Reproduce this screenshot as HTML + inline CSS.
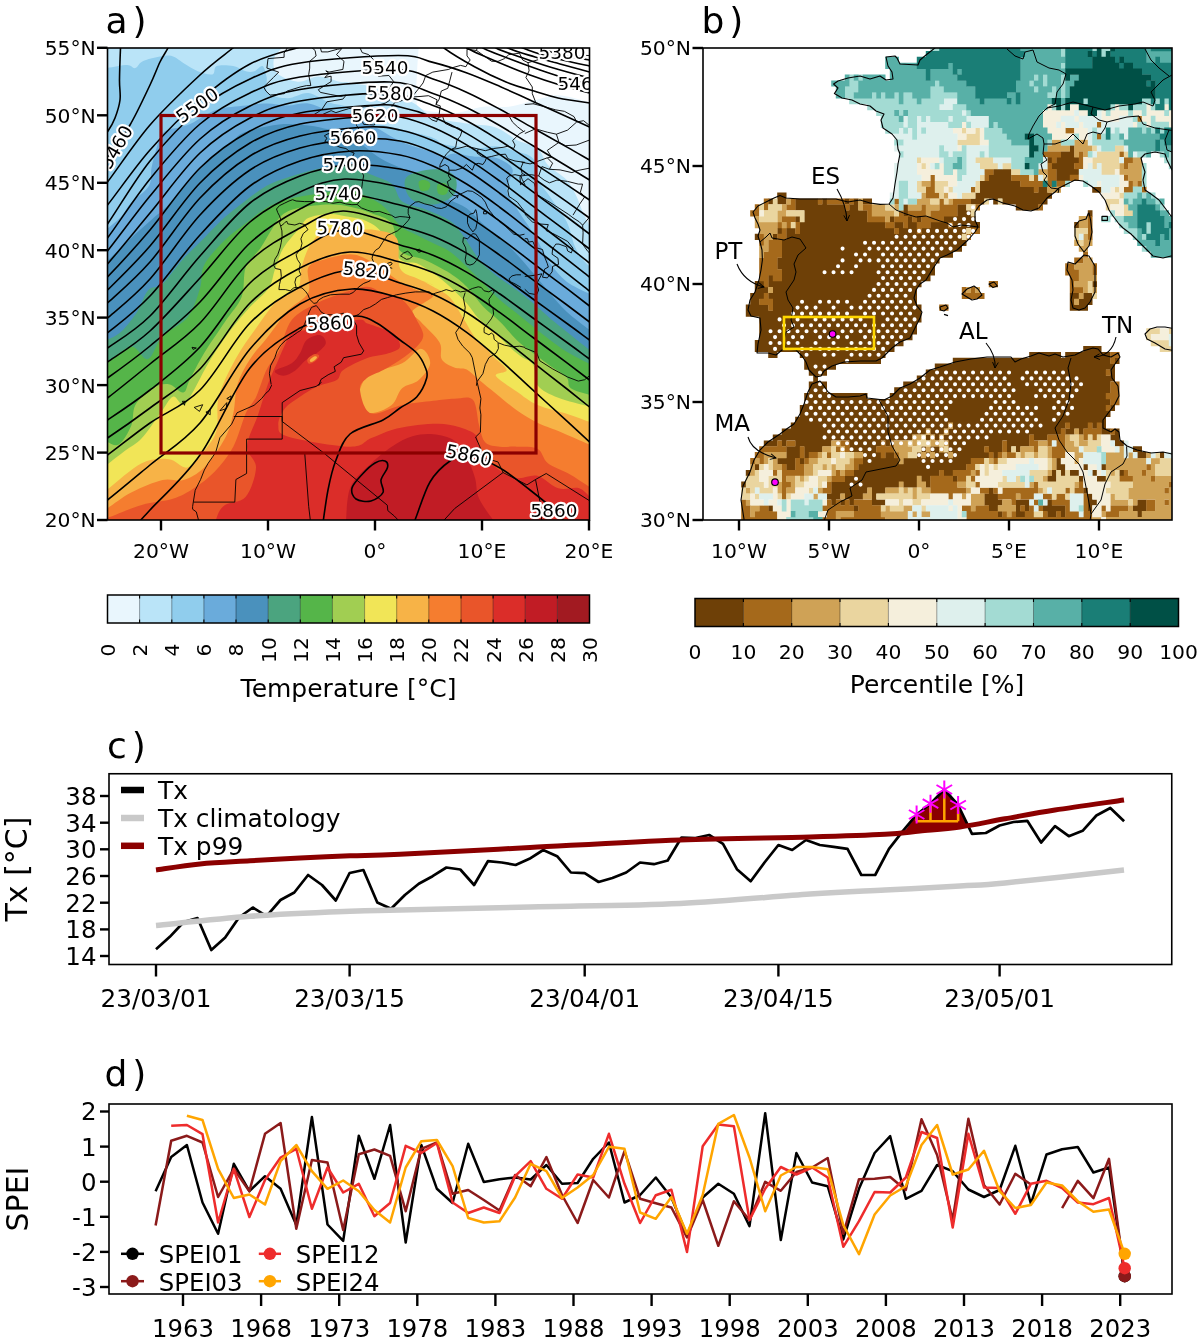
<!DOCTYPE html>
<html lang="en"><head><meta charset="utf-8"><title>Figure</title>
<style>
html,body{margin:0;padding:0;background:#fff}
svg{display:block}
svg text{font-family:'DejaVu Sans','Liberation Sans',sans-serif;fill:#000}
</style></head><body>
<svg width="1200" height="1338" viewBox="0 0 1200 1338">
<rect width="1200" height="1338" fill="#fff"/>
<g id="map-a">
<clipPath id="clipA"><rect x="107.5" y="48" width="482.0" height="472"/></clipPath>
<g clip-path="url(#clipA)">
<rect x="107.5" y="48" width="482.0" height="472" fill="#ffffff"/>
<path d="M419.8 31.2 C419.6 33.8 419.2 39.6 418.8 46.2 C418.3 52.9 417.4 63.3 417.1 71.2 C416.7 79.2 416 87.9 416.7 94.2 C417.3 100.4 414.6 105.6 420.8 108.8 C427.1 111.9 443.8 113.3 454.2 112.9 C464.6 112.6 474.3 107.7 483.3 106.7 C492.4 105.6 499.3 107.9 508.3 106.7 C517.4 105.5 529.2 101.3 537.5 99.4 C545.8 97.5 549.3 94.7 558.3 95.2 C567.4 95.7 582.8 100.6 591.7 102.5 C600.6 104.4 608.3 106.1 611.7 106.9 L619.5 550 L77.5 550 L77.5 18Z" fill="#e9f6fd"/>
<path d="M289 38.8 C288 40 285.8 42.9 283.3 46.2 C280.8 49.6 275 54.2 274 58.8 C272.9 63.3 273.1 69.5 277.1 73.3 C281.1 77.2 291 81.1 297.9 81.7 C304.9 82.2 311.8 76.5 318.8 76.5 C325.7 76.5 334.4 80.6 339.6 81.7 C344.8 82.7 343.1 81.5 350 82.7 C356.9 83.9 370.8 85.7 381.2 89 C391.7 92.3 403.8 97.8 412.5 102.5 C421.2 107.2 424.7 113.6 433.3 117.1 C442 120.6 454.2 121.6 464.6 123.3 C475 125.1 487.2 124.7 495.8 127.5 C504.5 130.3 509.7 136.5 516.7 140 C523.6 143.5 532.3 144.2 537.5 148.3 C542.7 152.5 543.1 159.7 547.9 165 C552.8 170.3 561.9 174.7 566.7 180 C571.5 185.3 573.9 191.1 576.7 196.7 C579.4 202.2 580.8 207.8 583.3 213.3 C585.8 218.9 589.4 225.6 591.7 230 C593.9 234.4 595.8 238.3 596.7 240 L619.5 550 L77.5 550 L77.5 18Z" fill="#bae4f8"/>
<path d="M93.8 70 C95.8 69.7 100.7 69 106.2 68.1 C111.8 67.3 122.2 65 127.1 65 C131.9 65 132.6 68.8 135.4 68.1 C138.2 67.4 138.2 62.9 143.8 60.8 C149.3 58.8 162.2 55.3 168.8 55.6 C175.3 56 178.5 60.3 183.3 62.9 C188.2 65.5 193.1 69.3 197.9 71.2 C202.8 73.2 209.4 75.2 212.5 74.4 C215.6 73.5 213.2 67.4 216.7 66 C220.1 64.7 228.5 65.2 233.3 66 C238.2 66.9 242.4 70.4 245.8 71.2 C249.3 72.1 251.4 72.1 254.2 71.2 C256.9 70.4 260.4 65 262.5 66 C264.6 67.1 265.8 73 266.7 77.5 C267.5 82 264.2 89.7 267.7 93.1 C271.2 96.6 280.7 98.3 287.5 98.3 C294.3 98.3 301.4 92.4 308.3 93.1 C315.3 93.8 322.2 100.1 329.2 102.5 C336.1 104.9 343.1 104.6 350 107.7 C356.9 110.8 362.2 117.6 370.8 121.2 C379.5 124.9 391.7 126.8 402.1 129.6 C412.5 132.4 426.4 135.5 433.3 137.9 C440.3 140.3 436.8 142.4 443.8 144.2 C450.7 145.9 466.3 148 475 148.3 C483.7 148.7 488.9 145.7 495.8 146.2 C502.8 146.8 510.4 149.4 516.7 151.5 C522.9 153.5 529.7 154 533.3 158.8 C536.9 163.5 535.6 173.7 538.3 180 C541.1 186.3 545.3 189.7 550 196.7 C554.7 203.6 562.5 213.3 566.7 221.7 C570.8 230 572.2 240.3 575 246.7 C577.8 253.1 580.6 256.4 583.3 260 C586.1 263.6 589.4 266.1 591.7 268.3 C593.9 270.6 595.8 272.5 596.7 273.3 L619.5 550 L77.5 550Z" fill="#90cded"/>
<path d="M97.5 237.1 C99 235.8 102.4 232.9 106.2 229.6 C110.1 226.2 116.7 221.6 120.8 217.1 C125 212.6 126.6 207.7 131.2 202.5 C135.9 197.3 145.5 192.1 149 185.8 C152.4 179.6 149.8 173.7 152.1 165 C154.3 156.3 158 140 162.5 133.8 C167 127.5 174.3 129.2 179.2 127.5 C184 125.8 185.4 126.3 191.7 123.3 C197.9 120.4 207.6 112.7 216.7 109.8 C225.7 106.8 237.5 106.7 245.8 105.6 C254.2 104.6 259.7 103.5 266.7 103.5 C273.6 103.5 280.6 105.6 287.5 105.6 C294.4 105.6 301.4 102.7 308.3 103.5 C315.3 104.4 322.2 108.9 329.2 110.8 C336.1 112.7 343.1 112.7 350 115 C356.9 117.3 362.2 119.9 370.8 124.4 C379.5 128.9 391.7 137.4 402.1 142.1 C412.5 146.8 426.4 150.1 433.3 152.5 C440.3 154.9 440.3 156.5 443.8 156.7 C447.2 156.8 449 153.5 454.2 153.5 C459.4 153.5 468.1 156 475 156.7 C481.9 157.4 489.6 155.6 495.8 157.7 C502.1 159.8 510.7 163.8 512.5 169.2 C514.3 174.5 506 183.5 506.7 190 C507.4 196.5 512.2 201.1 516.7 208.3 C521.1 215.6 529.2 226.7 533.3 233.3 C537.5 240 538.9 243.3 541.7 248.3 C544.4 253.3 545.8 257.8 550 263.3 C554.2 268.9 559.7 276.4 566.7 281.7 C573.6 286.9 585 291.4 591.7 295 C598.3 298.6 604.2 301.7 606.7 303 L619.5 550 L77.5 550Z" fill="#6aabdb"/>
<path d="M91.2 276.2 C93.8 273.9 99.6 268.3 106.2 261.9 C112.9 255.5 123.6 245 131.2 237.9 C138.9 230.8 145.8 224.7 152.1 219.2 C158.3 213.6 161.8 211.9 168.8 204.6 C175.7 197.3 185.8 184.1 193.8 175.4 C201.7 166.7 210.1 158.4 216.7 152.5 C223.3 146.6 228.5 143.5 233.3 140 C238.2 136.5 238.2 134.3 245.8 131.7 C253.5 129.1 268.8 125.4 279.2 124.4 C289.6 123.3 300 124.5 308.3 125.4 C316.7 126.3 322.2 127.8 329.2 129.6 C336.1 131.3 341.3 131 350 135.8 C358.7 140.7 370.8 152.5 381.2 158.8 C391.7 165 403.8 168.1 412.5 173.3 C421.2 178.5 427.1 185.6 433.3 190 C439.6 194.4 444.4 196.9 450 200 C455.6 203.1 461.1 204.3 466.7 208.3 C472.2 212.4 477.8 219.3 483.3 224.2 C488.9 229 494.4 232.5 500 237.5 C505.6 242.5 511.1 248.2 516.7 254.2 C522.2 260.1 527.8 266.8 533.3 273.3 C538.9 279.9 544.4 286.9 550 293.3 C555.6 299.7 559.7 305.3 566.7 311.7 C573.6 318.1 585 326.3 591.7 331.7 C598.3 337 604.2 341.7 606.7 343.7 L619.5 550 L77.5 550Z" fill="#4a91bd"/>
<path d="M97.5 345.4 C99 344.6 102.4 342.6 106.2 340.4 C110.1 338.2 115.6 336.9 120.8 332.1 C126 327.2 133 318.2 137.5 311.2 C142 304.3 143.8 295 147.9 290.4 C152.1 285.8 156.6 289 162.5 283.8 C168.4 278.5 176.4 266.4 183.3 258.8 C190.3 251.1 197.2 244.9 204.2 237.9 C211.1 231 218.1 223.3 225 217.1 C231.9 210.8 238.9 205.6 245.8 200.4 C252.8 195.2 259.7 189.7 266.7 185.8 C273.6 182 280.6 179.9 287.5 177.5 C294.4 175.1 301.4 173 308.3 171.2 C315.3 169.5 322.2 168.1 329.2 167.1 C336.1 166 343.1 163.8 350 165 C356.9 166.2 363.9 171.2 370.8 174.4 C377.8 177.5 386.8 179.6 391.7 183.8 C396.5 187.9 396.9 195.6 400 199.2 C403.1 202.7 405.8 203.3 410 205 C414.2 206.7 418.3 206.5 425 209.2 C431.7 211.8 443.6 216.4 450 220.8 C456.4 225.3 458.6 229.6 463.3 235.8 C468.1 242.1 473.3 252.1 478.3 258.3 C483.3 264.6 486.9 268.1 493.3 273.3 C499.7 278.6 510 285 516.7 290 C523.3 295 527.8 298.6 533.3 303.3 C538.9 308.1 544.4 313.6 550 318.3 C555.6 323.1 559.7 326.1 566.7 331.7 C573.6 337.2 585 346.3 591.7 351.7 C598.3 357 604.2 361.7 606.7 363.7 L619.5 550 L77.5 550Z" fill="#4ba47f"/>
<path d="M406.2 177.5 C410.1 172.6 425.3 169.5 433.3 169.2 C441.3 168.8 450.7 171.3 454.2 175.4 C457.6 179.6 457.6 189.3 454.2 194.2 C450.7 199 440.6 203.9 433.3 204.6 C426 205.3 414.9 202.8 410.4 198.3 C405.9 193.8 402.4 182.4 406.2 177.5Z" fill="#4ba47f"/>
<path d="M91.2 373.3 C93.8 371.7 99.6 367.8 106.2 363.3 C112.9 358.9 124.3 347.4 131.2 346.7 C138.2 346 142.7 360.9 147.9 359.2 C153.1 357.4 155.9 343.2 162.5 336.2 C169.1 329.3 181.2 325.5 187.5 317.5 C193.8 309.5 197.2 297.1 200 288.3 C202.8 279.6 200 273.1 204.2 265 C208.3 256.9 218.1 246.9 225 240 C231.9 233.1 238.9 228.7 245.8 223.3 C252.8 218 259.7 211.7 266.7 207.7 C273.6 203.7 280.6 201.5 287.5 199.4 C294.4 197.3 301.4 196.4 308.3 195.2 C315.3 194 322.2 193 329.2 192.1 C336.1 191.2 341.3 187.9 350 190 C358.7 192.1 372.9 198.6 381.2 204.6 C389.6 210.6 394.1 220.8 400 225.8 C405.9 230.9 411.1 232.1 416.7 235 C422.2 237.9 427.8 240.6 433.3 243.3 C438.9 246.1 444.4 247.8 450 251.7 C455.6 255.6 461.1 261.4 466.7 266.7 C472.2 271.9 477.8 277.8 483.3 283.3 C488.9 288.9 494.4 295 500 300 C505.6 305 511.1 308.9 516.7 313.3 C522.2 317.8 527.8 322.2 533.3 326.7 C538.9 331.1 544.4 335.8 550 340 C555.6 344.2 559.7 347.5 566.7 351.7 C573.6 355.8 585 361.4 591.7 365 C598.3 368.6 604.2 371.7 606.7 373 L619.5 550 L77.5 550Z" fill="#55b549"/>
<path d="M418.8 181.7 C419.4 179.9 423.1 179.7 425 180 C426.9 180.3 429.7 182.1 430.2 183.8 C430.7 185.4 429.7 188.9 428.1 190 C426.6 191.1 422.4 191.8 420.8 190.4 C419.3 189 418.1 183.4 418.8 181.7Z" fill="#55b549"/>
<path d="M437.5 184.8 C438.5 183.1 443 182.8 444.8 183.3 C446.6 183.9 448.2 186.1 448.3 187.9 C448.5 189.7 447.5 193.2 445.8 194.2 C444.2 195.1 439.9 195.3 438.5 193.8 C437.2 192.2 436.5 186.5 437.5 184.8Z" fill="#55b549"/>
<path d="M98.8 439.6 C100 439.9 102.9 440.6 106.2 441.5 C109.6 442.3 114.6 447.2 118.8 444.6 C122.9 442 128.5 432.4 131.2 425.8 C134 419.2 131.9 411.2 135.4 405 C138.9 398.8 146.5 391.8 152.1 388.3 C157.6 384.9 163.5 383.5 168.8 384.2 C174 384.9 179.9 393.2 183.3 392.5 C186.8 391.8 186.1 386.6 189.6 380 C193.1 373.4 198.3 362.6 204.2 352.9 C210.1 343.2 218.8 331 225 321.7 C231.2 312.3 238.2 305.8 241.7 296.7 C245.1 287.6 242.7 275.1 245.8 267.1 C249 259 255.9 254.9 260.4 248.3 C264.9 241.7 269.1 233.2 272.9 227.5 C276.7 221.8 278.8 217.3 283.3 214 C287.8 210.7 292.4 209.3 300 207.7 C307.6 206.1 320.8 204.8 329.2 204.6 C337.5 204.4 343.1 205.3 350 206.7 C356.9 208.1 363.9 210.1 370.8 212.9 C377.8 215.7 386.8 217 391.7 223.3 C396.5 229.7 394.4 244.7 400 250.8 C405.6 256.9 416.7 256.2 425 260 C433.3 263.8 443.1 268.9 450 273.3 C456.9 277.8 461.1 281.1 466.7 286.7 C472.2 292.2 477.8 300.8 483.3 306.7 C488.9 312.5 494.4 316.1 500 321.7 C505.6 327.2 511.1 334.7 516.7 340 C522.2 345.3 527.8 349 533.3 353.3 C538.9 357.6 544.4 361.8 550 365.8 C555.6 369.9 563.2 373.8 566.7 377.5 C570.1 381.2 566.7 385.3 570.8 388.3 C575 391.4 586.1 393.7 591.7 395.6 C597.2 397.6 602.1 399.3 604.2 400 L619.5 550 L77.5 550Z" fill="#a1ce52"/>
<path d="M95 474.2 C96.9 472.7 101.2 469.3 106.2 465.4 C111.2 461.5 119.1 455.3 125 450.8 C130.9 446.3 135.8 444.6 141.7 438.3 C147.6 432.1 155.2 420.3 160.4 413.3 C165.6 406.4 169.1 398.1 172.9 396.7 C176.7 395.3 179.9 406 183.3 405 C186.8 404 189.6 397.4 193.8 390.4 C197.9 383.5 202.4 373.1 208.3 363.3 C214.2 353.6 222.2 341.5 229.2 332.1 C236.1 322.7 243.4 314.4 250 307.1 C256.6 299.7 264.6 294.2 268.8 287.9 C272.9 281.6 272.6 275.8 275 269.2 C277.4 262.6 279.2 255.3 283.3 248.3 C287.5 241.4 295.8 232.5 300 227.5 C304.2 222.5 303.5 220.4 308.3 218.1 C313.2 215.9 322.2 214.1 329.2 214 C336.1 213.8 343.8 215.9 350 217.1 C356.2 218.3 361.5 218.8 366.7 221.2 C371.9 223.7 375.7 225.3 381.2 231.7 C386.8 238 394.1 253.9 400 259.2 C405.9 264.4 411.1 261 416.7 263.3 C422.2 265.7 427.8 269.4 433.3 273.3 C438.9 277.2 444.4 281.7 450 286.7 C455.6 291.7 461.9 298.1 466.7 303.3 C471.4 308.6 473.9 313.8 478.3 318.3 C482.8 322.9 488.6 326.5 493.3 330.8 C498.1 335.1 502.2 340 506.7 344.2 C511.1 348.3 515.6 352.4 520 355.8 C524.4 359.3 530.4 360.1 533.3 365 C536.2 369.9 533.3 379.8 537.5 385.2 C541.7 390.7 549.3 394.1 558.3 397.7 C567.4 401.4 582.8 404.6 591.7 407.1 C600.6 409.6 608.3 411.8 611.7 412.7 L619.5 550 L77.5 550Z" fill="#f1e557"/>
<path d="M85 506.7 C88.5 504 96.8 497.6 106.2 490.4 C115.7 483.2 131.3 468.5 141.7 463.3 C152.1 458.1 161.1 458.5 168.8 459.2 C176.4 459.9 181.6 468.9 187.5 467.5 C193.4 466.1 199.3 457.1 204.2 450.8 C209 444.6 214.2 439 216.7 430 C219.1 421 215.6 408.5 218.8 396.7 C221.9 384.9 229.2 370.6 235.4 359.2 C241.7 347.7 249.3 337.6 256.2 327.9 C263.2 318.2 270.1 307.5 277.1 300.8 C284 294.2 293.9 293.2 297.9 287.9 C301.9 282.6 299.3 275.8 301 269.2 C302.8 262.6 305.4 254.1 308.3 248.3 C311.3 242.6 314.6 238.3 318.8 234.8 C322.9 231.3 328.1 228.3 333.3 227.5 C338.5 226.7 343.1 229.6 350 230 C356.9 230.4 367.2 228.6 375 230 C382.8 231.4 392.5 231.9 396.7 238.3 C400.8 244.7 396.7 261.7 400 268.3 C403.3 275 411.1 275.6 416.7 278.3 C422.2 281.1 436.1 286 433.3 285 C430.6 284 402.8 273.6 400 272.5 C397.2 271.4 411.1 276 416.7 278.3 C422.2 280.7 427.8 283.5 433.3 286.7 C438.9 289.9 445 292.2 450 297.5 C455 302.8 459.2 311.7 463.3 318.3 C467.5 325 471.1 332.4 475 337.5 C478.9 342.6 483.6 346 486.7 349.2 C489.7 352.4 490 353.2 493.3 356.7 C496.7 360.1 506.2 366.8 506.7 370 C507.1 373.2 494.2 372.3 495.8 375.8 C497.5 379.4 509.7 386.6 516.7 391.5 C523.6 396.3 528.8 401.2 537.5 405 C546.2 408.8 559.7 411.4 568.8 414.4 C577.8 417.3 585.6 420.5 591.7 422.7 C597.8 424.9 603.1 426.9 605.4 427.7 L619.5 550 L77.5 550Z" fill="#f7b347"/>
<path d="M91.2 519.2 C93.8 517.5 99.6 513.6 106.2 509.2 C112.9 504.7 121.9 497.4 131.2 492.5 C140.6 487.6 153.8 482.1 162.5 480 C171.2 477.9 176.4 482.1 183.3 480 C190.3 477.9 197.2 474.4 204.2 467.5 C211.1 460.6 220.1 447.4 225 438.3 C229.9 429.3 231.2 422.4 233.3 413.3 C235.4 404.3 234.7 393.2 237.5 384.2 C240.3 375.1 245.1 366.8 250 359.2 C254.9 351.5 260.4 346.3 266.7 338.3 C272.9 330.3 280.6 318.9 287.5 311.2 C294.4 303.6 304.9 299.8 308.3 292.5 C311.8 285.2 305.6 273.1 308.3 267.5 C311.1 261.9 318.1 261.4 325 259.2 C331.9 256.9 343.1 254.2 350 254.2 C356.9 254.2 361.1 256.5 366.7 259.2 C372.2 261.8 377.8 266.2 383.3 270 C388.9 273.8 394.4 278.3 400 281.7 C405.6 285 411.1 287.6 416.7 290 C422.2 292.4 434 292.3 433.3 295.8 C432.6 299.4 414.6 306.9 412.5 311.2 C410.4 315.6 416.3 316.5 420.8 321.7 C425.3 326.9 436.1 336.2 439.6 342.5 C443.1 348.8 439.2 355 441.7 359.2 C444.1 363.3 450 365.8 454.2 367.5 C458.3 369.2 462.5 367.5 466.7 369.6 C470.8 371.7 474.3 376 479.2 380 C484 384 489.6 388.5 495.8 393.5 C502.1 398.6 509.7 405.3 516.7 410.2 C523.6 415.1 530.6 419.2 537.5 422.7 C544.4 426.2 549.3 427.2 558.3 431 C567.4 434.9 582.8 441.7 591.7 445.6 C600.6 449.5 608.3 452.9 611.7 454.4 L619.5 550 L77.5 550Z" fill="#f57d2f"/>
<path d="M360.4 388.3 C362.5 383.1 363.9 377.9 370.8 373.8 C377.8 369.6 393.8 367.5 402.1 363.3 C410.4 359.2 416.1 348.8 420.8 348.8 C425.5 348.8 430.6 358.1 430.2 363.3 C429.9 368.5 423.4 375.8 418.8 380 C414.1 384.2 406.6 384.2 402.1 388.3 C397.6 392.5 396.9 400.8 391.7 405 C386.5 409.2 376.4 413.3 370.8 413.3 C365.3 413.3 360.1 409.2 358.3 405 C356.6 400.8 358.3 393.5 360.4 388.3Z" fill="#f7b347"/>
<path d="M85 526.7 C88.5 525.3 96.8 522.2 106.2 518.5 C115.7 514.9 130.6 508.3 141.7 505 C152.8 501.7 164.2 501.5 172.9 498.8 C181.6 496 186.8 492.8 193.8 488.3 C200.7 483.8 208 478.6 214.6 471.7 C221.2 464.7 228.1 456.4 233.3 446.7 C238.5 436.9 242 421.7 245.8 413.3 C249.7 405 252.8 404 256.2 396.7 C259.7 389.4 262.8 377.2 266.7 369.6 C270.5 361.9 275 359.1 279.2 350.8 C283.3 342.6 285.4 327.9 291.7 320 C297.9 312.1 308.3 307.8 316.7 303.3 C325 298.9 333.3 296.1 341.7 293.3 C350 290.6 359.7 286.7 366.7 286.7 C373.6 286.7 377.8 291.4 383.3 293.3 C388.9 295.3 395.6 295.8 400 298.3 C404.4 300.8 407.2 304.7 410 308.3 C412.8 311.9 414.4 315.6 416.7 320 C418.9 324.4 423.3 330.6 423.3 335 C423.3 339.4 420.6 342.5 416.7 346.7 C412.8 350.8 405.6 356.1 400 360 C394.4 363.9 388.9 366.9 383.3 370 C377.8 373.1 370.6 375 366.7 378.3 C362.8 381.7 359.3 384.2 360 390 C360.7 395.8 363.8 410.8 370.8 413.3 C377.8 415.8 391.7 407.1 402.1 405 C412.5 402.9 424.7 401.9 433.3 400.8 C442 399.8 447.6 398.9 454.2 398.8 C460.8 398.6 468.8 395.3 472.9 399.8 C477.1 404.3 477.1 418.7 479.2 425.8 C481.2 433 481.9 439 485.4 442.5 C488.9 446 494.8 446 500 446.7 C505.2 447.4 510.4 446.3 516.7 446.7 C522.9 447 532.3 446 537.5 448.8 C542.7 451.5 542.7 459.2 547.9 463.3 C553.1 467.5 561.5 469.6 568.8 473.8 C576 477.9 585.6 484.4 591.7 488.3 C597.8 492.2 603.1 495.6 605.4 497.1 L619.5 550 L77.5 550Z" fill="#e9552a"/>
<path d="M213 540 C213.6 536.2 214.7 523.3 216.7 517.5 C218.7 511.7 220.2 508.5 225 505 C229.8 501.5 240.6 502.9 245.8 496.7 C251 490.4 255.8 475.8 256 467.5 C256.2 459.2 246.7 455.4 247 446.7 C247.3 437.9 254.5 425.4 258 415 C261.5 404.6 264.8 392.7 268 384 C271.2 375.3 273.1 371.4 277 363 C280.9 354.6 286.7 338.8 291.7 333.3 C296.6 327.8 295.8 332.2 306.7 330 C317.5 327.8 346.7 321.1 356.7 320 C366.7 318.9 363.3 322.2 366.7 323.3 C370 324.4 372.2 325 376.7 326.7 C381.1 328.3 389.4 330 393.3 333.3 C397.2 336.7 400.8 343.3 400 346.7 C399.2 350 393.9 351.4 388.3 353.3 C382.8 355.3 374.2 355.6 366.7 358.3 C359.2 361.1 348.3 366.4 343.3 370 C338.3 373.6 341.1 377.2 336.7 380 C332.2 382.8 322.8 383.9 316.7 386.7 C310.6 389.4 305.3 393.1 300 396.7 C294.7 400.3 288.6 403.6 285 408.3 C281.4 413.1 277.8 420.3 278.3 425 C278.9 429.7 276.4 433.1 288.3 436.7 C300.3 440.3 336.2 446.4 350 446.7 C363.8 446.9 363.9 441.1 370.8 438.3 C377.8 435.6 384.7 432.1 391.7 430 C398.6 427.9 405.6 426.9 412.5 425.8 C419.4 424.8 426.4 423.8 433.3 423.8 C440.3 423.8 447.2 424.1 454.2 425.8 C461.1 427.6 470.8 430.7 475 434.2 C479.2 437.6 475.7 441.1 479.2 446.7 C482.6 452.2 489.6 462.3 495.8 467.5 C502.1 472.7 509.7 476.5 516.7 477.9 C523.6 479.3 530.6 474.1 537.5 475.8 C544.4 477.6 551.4 486.3 558.3 488.3 C565.3 490.4 573.6 486.6 579.2 488.3 C584.7 490.1 589.6 497 591.7 498.8 L619.5 550Z" fill="#db2d29"/>
<path d="M306.7 340 C310 336.9 316.8 334.4 320 335 C323.2 335.6 326.4 340.3 325.8 343.3 C325.3 346.4 320.1 350.4 316.7 353.3 C313.2 356.3 308.6 357.9 305 360.8 C301.4 363.8 298.6 368.3 295 370.8 C291.4 373.3 286.7 375.8 283.3 375.8 C280 375.8 273.6 372.9 275 370.8 C276.4 368.8 287.5 366.3 291.7 363.3 C295.8 360.4 297.5 357.2 300 353.3 C302.5 349.4 303.3 343.1 306.7 340Z" fill="#c11c25"/>
<path d="M345.8 523.8 C346.5 517.8 346.5 497.7 350 488.3 C353.5 479 359.7 474.4 366.7 467.5 C373.6 460.6 384 451.9 391.7 446.7 C399.3 441.5 405.6 438.3 412.5 436.2 C419.4 434.2 426.4 433.5 433.3 434.2 C440.3 434.9 448.6 436.6 454.2 440.4 C459.7 444.2 463.2 450.8 466.7 457.1 C470.1 463.3 472.9 471 475 477.9 C477.1 484.9 475.7 491.1 479.2 498.8 C482.6 506.4 493.1 519.6 495.8 523.8Z" fill="#c11c25"/>
<path d="M307.5 359.2 C308.3 357.6 312.2 354.7 314.2 354.2 C316.1 353.6 318.9 354.7 319.2 355.8 C319.4 356.9 317.5 359.5 315.8 360.8 C314.2 362.1 310.6 363.9 309.2 363.7 C307.8 363.4 306.7 360.7 307.5 359.2Z" fill="#e9552a"/>
<path d="M310 359.7 C310.6 358.7 313.5 356.7 314.7 356.3 C315.8 355.9 317 356.7 317 357.3 C317 358 315.7 359.6 314.7 360.3 C313.7 361.1 311.8 362.1 311 362 C310.2 361.9 309.4 360.6 310 359.7Z" fill="#f7b347"/>
<path d="M128 535 C130 532.7 136.3 525.2 140 521 C143.7 516.8 140 521 150 510 C160 499 183.3 478.7 200 455 C216.7 431.3 233.3 389.2 250 368 C266.7 346.8 286.7 335.7 300 328 C313.3 320.3 320.6 324 330 322 C339.4 320 348.9 315.8 356.7 316 C364.5 316.2 369.5 319 376.7 323 C383.9 327 393.3 335 400 340 C406.7 345 412.5 348.6 416.7 353 C420.9 357.4 423.3 362.5 425 366.7 C426.7 370.9 428.1 372.9 426.7 378 C425.3 383.1 421.1 392 416.7 397 C412.2 402 405.6 404.2 400 408 C394.4 411.8 391.3 415.7 383 420 C374.7 424.3 357.8 427.3 350 434 C342.2 440.7 339.7 450.7 336 460 C332.3 469.3 330.3 478.3 328 490 C325.7 501.7 323 523.3 322 530 M92.5 509.9 C95 508.2 97.9 507.5 107.5 500 C117.1 492.5 134.6 477.8 150 465 C165.4 452.2 183.3 442.3 200 423 C216.7 403.7 233.3 368.8 250 349 C266.7 329.2 283 314 300 304 C317 294 335.3 290 352 289 C368.7 288 386.5 294.3 400 298 C413.5 301.7 421.8 305.2 433 311 C444.2 316.7 455.8 324.4 467 332.6 C478.2 340.7 489 350.3 500 359.9 C511 369.5 521.8 380 533 390.2 C544.2 400.4 557.6 412.5 567 421.1 C576.4 429.8 583.2 436.2 589.5 442 C595.8 447.8 602 453.6 604.5 455.9 M92.5 464 C95 462.5 97.9 461.8 107.5 455 C117.1 448.2 134.6 433.8 150 423 C165.4 412.2 183.3 406.7 200 390 C216.7 373.3 233.3 340.2 250 323 C266.7 305.8 283 295.8 300 287 C317 278.2 335.3 270.7 352 270 C368.7 269.3 386.5 279 400 283 C413.5 287 421.8 289.2 433 294.2 C444.2 299.1 455.8 305.7 467 312.8 C478.2 319.8 489 328.1 500 336.3 C511 344.6 521.8 353.6 533 362.4 C544.2 371.1 557.6 381.6 567 389 C576.4 396.5 583.2 402 589.5 407 C595.8 412 602 417 604.5 419 M92.5 446.5 C95 445.1 97.9 444.4 107.5 438 C117.1 431.6 134.6 419.5 150 408 C165.4 396.5 183.3 386.5 200 369 C216.7 351.5 233.3 319.8 250 303 C266.7 286.2 283.3 276.5 300 268 C316.7 259.5 333.3 253 350 252 C366.7 251 386.2 258.6 400 262 C413.8 265.4 421.8 267.9 433 272.6 C444.2 277.3 455.8 283.6 467 290.3 C478.2 297 489 304.9 500 312.7 C511 320.6 521.8 329.2 533 337.5 C544.2 345.9 557.6 355.8 567 362.9 C576.4 370 583.2 375.2 589.5 380 C595.8 384.8 602 389.5 604.5 391.4 M92.5 428.5 C95 427.1 97.9 426.4 107.5 420 C117.1 413.6 134.6 402.2 150 390 C165.4 377.8 183.3 364.8 200 347 C216.7 329.2 233.3 299.2 250 283 C266.7 266.8 284.2 258.8 300 250 C315.8 241.2 328.3 230.8 345 230 C361.7 229.2 385.3 240.8 400 245 C414.7 249.2 421.8 250.7 433 255.3 C444.2 259.8 455.8 265.9 467 272.4 C478.2 278.8 489 286.4 500 294 C511 301.6 521.8 309.9 533 318 C544.2 326 557.6 335.6 567 342.5 C576.4 349.3 583.2 354.4 589.5 359 C595.8 363.6 602 368.2 604.5 370 M92.5 407.6 C95 406 97.9 405.3 107.5 398 C117.1 390.7 134.6 376.5 150 364 C165.4 351.5 183.3 340.2 200 323 C216.7 305.8 233.3 276.8 250 261 C266.7 245.2 284.5 236.3 300 228 C315.5 219.7 326.3 211.3 343 211 C359.7 210.7 385 221.8 400 226 C415 230.2 421.8 231.7 433 236.3 C444.2 240.8 455.8 246.9 467 253.4 C478.2 259.8 489 267.4 500 275 C511 282.6 521.8 290.9 533 299 C544.2 307 557.6 316.6 567 323.5 C576.4 330.3 583.2 335.4 589.5 340 C595.8 344.6 602 349.2 604.5 351 M92.5 387 C95 385.5 97.9 384.8 107.5 378 C117.1 371.2 134.6 358.7 150 346 C165.4 333.3 183.3 319.2 200 302 C216.7 284.8 233.3 258.5 250 243 C266.7 227.5 284.5 217.2 300 209 C315.5 200.8 326.3 194.7 343 194 C359.7 193.3 385 201.4 400 205 C415 208.6 421.8 210.8 433 215.5 C444.2 220.2 455.8 226.4 467 233.1 C478.2 239.7 489 247.5 500 255.3 C511 263.1 521.8 271.6 533 279.9 C544.2 288.2 557.6 298 567 305 C576.4 312.1 583.2 317.3 589.5 322 C595.8 326.7 602 331.4 604.5 333.3 M92.5 370.8 C95 369.3 97.9 368.6 107.5 362 C117.1 355.4 134.6 345 150 331 C165.4 317 183.3 296.2 200 278 C216.7 259.8 233.3 236.3 250 222 C266.7 207.7 284.2 199.2 300 192 C315.8 184.8 328.3 179.8 345 179 C361.7 178.2 385.3 183.9 400 187 C414.7 190.1 421.8 193 433 197.7 C444.2 202.5 455.8 208.8 467 215.6 C478.2 222.3 489 230.2 500 238.2 C511 246.1 521.8 254.7 533 263.2 C544.2 271.6 557.6 281.6 567 288.7 C576.4 295.9 583.2 301.2 589.5 306 C595.8 310.8 602 315.6 604.5 317.5 M92.5 357 C95 355.5 97.9 354.8 107.5 348 C117.1 341.2 134.6 331.3 150 316 C165.4 300.7 183.3 274.8 200 256 C216.7 237.2 233.3 216.3 250 203 C266.7 189.7 283.7 182.3 300 176 C316.3 169.7 331.3 166.2 348 165 C364.7 163.8 385.8 166.5 400 169 C414.2 171.5 421.8 175.1 433 180 C444.2 184.9 455.8 191.4 467 198.3 C478.2 205.2 489 213.3 500 221.5 C511 229.6 521.8 238.4 533 247.1 C544.2 255.7 557.6 266 567 273.3 C576.4 280.6 583.2 286.1 589.5 291 C595.8 295.9 602 300.8 604.5 302.8 M92.5 343.4 C95 341.7 97.9 340.9 107.5 333 C117.1 325.1 134.6 312.3 150 296 C165.4 279.7 183.3 253.3 200 235 C216.7 216.7 233.3 198.3 250 186 C266.7 173.7 283 166.8 300 161 C317 155.2 335.3 152 352 151 C368.7 150 386.5 152.5 400 155 C413.5 157.5 421.8 161.1 433 166 C444.2 170.9 455.8 177.4 467 184.3 C478.2 191.2 489 199.3 500 207.5 C511 215.6 521.8 224.4 533 233.1 C544.2 241.7 557.6 252 567 259.3 C576.4 266.6 583.2 272.1 589.5 277 C595.8 281.9 602 286.8 604.5 288.8 M92.5 329 C95 327.2 97.9 326.3 107.5 318 C117.1 309.7 134.6 296.2 150 279 C165.4 261.8 183.3 233.2 200 215 C216.7 196.8 233.3 181.2 250 170 C266.7 158.8 282 153.2 300 148 C318 142.8 341.3 140.2 358 139 C374.7 137.8 387.5 138.8 400 141 C412.5 143.2 421.8 147.1 433 152 C444.2 156.9 455.8 163.4 467 170.3 C478.2 177.2 489 185.3 500 193.5 C511 201.6 521.8 210.4 533 219.1 C544.2 227.7 557.6 238 567 245.3 C576.4 252.6 583.2 258.1 589.5 263 C595.8 267.9 602 272.8 604.5 274.8 M92.5 314.6 C95 312.6 97.9 311.8 107.5 303 C117.1 294.2 134.6 279.5 150 262 C165.4 244.5 183.3 215.7 200 198 C216.7 180.3 233.3 166.3 250 156 C266.7 145.7 280.8 140.8 300 136 C319.2 131.2 348.3 128 365 127 C381.7 126 388.7 127.7 400 130 C411.3 132.3 421.8 136 433 140.7 C444.2 145.5 455.8 151.8 467 158.6 C478.2 165.3 489 173.2 500 181.2 C511 189.1 521.8 197.7 533 206.2 C544.2 214.6 557.6 224.6 567 231.7 C576.4 238.9 583.2 244.2 589.5 249 C595.8 253.8 602 258.6 604.5 260.5 M92.5 302.4 C95 300.4 97.9 299.4 107.5 290 C117.1 280.6 134.6 263.8 150 246 C165.4 228.2 183.3 200.2 200 183 C216.7 165.8 233.3 152.8 250 143 C266.7 133.2 279.7 128.5 300 124 C320.3 119.5 355.3 117.2 372 116 C388.7 114.8 389.8 115.1 400 117 C410.2 118.9 421.8 122.9 433 127.5 C444.2 132.2 455.8 138.4 467 145.1 C478.2 151.7 489 159.5 500 167.3 C511 175.1 521.8 183.6 533 191.9 C544.2 200.2 557.6 210 567 217 C576.4 224.1 583.2 229.3 589.5 234 C595.8 238.7 602 243.4 604.5 245.3 M92.5 290.3 C95 288.1 97.9 287 107.5 277 C117.1 267 134.6 248.2 150 230 C165.4 211.8 183.3 184.5 200 168 C216.7 151.5 233.3 140.2 250 131 C266.7 121.8 278.7 117.3 300 113 C321.3 108.7 361.3 106 378 105 C394.7 104 390.8 105 400 107 C409.2 109 421.8 112.5 433 117 C444.2 121.4 455.8 127.3 467 133.6 C478.2 139.9 489 147.3 500 154.7 C511 162.1 521.8 170.2 533 178 C544.2 185.9 557.6 195.2 567 201.9 C576.4 208.6 583.2 213.5 589.5 218 C595.8 222.5 602 226.9 604.5 228.7 M92.5 278.4 C95 276 97.9 274.9 107.5 264 C117.1 253.1 134.6 231.5 150 213 C165.4 194.5 183.3 168.8 200 153 C216.7 137.2 233.3 126.7 250 118 C266.7 109.3 277.5 105.1 300 101 C322.5 96.9 362.8 92.8 385 93.5 C407.2 94.2 419.3 100.8 433 105.4 C446.7 109.9 455.8 115.1 467 121 C478.2 126.9 489 133.8 500 140.7 C511 147.7 521.8 155.2 533 162.6 C544.2 169.9 557.6 178.7 567 184.9 C576.4 191.2 583.2 195.8 589.5 200 C595.8 204.2 602 208.4 604.5 210.1 M92.5 266.5 C95 263.9 97.9 262.8 107.5 251 C117.1 239.2 134.6 214.7 150 196 C165.4 177.3 183.3 154 200 139 C216.7 124 233.3 114.2 250 106 C266.7 97.8 276.7 93.5 300 89.5 C323.3 85.5 367.8 81.3 390 82 C412.2 82.7 420.2 89.2 433 93.5 C445.8 97.8 455.8 102.4 467 107.8 C478.2 113.2 489 119.5 500 125.8 C511 132.2 521.8 139.1 533 145.8 C544.2 152.5 557.6 160.5 567 166.2 C576.4 171.9 583.2 176.2 589.5 180 C595.8 183.8 602 187.7 604.5 189.2 M92.5 254.7 C95 251.9 97.9 250.6 107.5 238 C117.1 225.4 134.6 198 150 179 C165.4 160 183.3 138.3 200 124 C216.7 109.7 233.3 100.8 250 93 C266.7 85.2 275.8 80.9 300 77 C324.2 73.1 372.8 69.2 395 69.5 C417.2 69.8 421 75.2 433 79 C445 82.8 455.8 87.3 467 92.4 C478.2 97.4 489 103.3 500 109.3 C511 115.2 521.8 121.7 533 128 C544.2 134.3 557.6 141.8 567 147.1 C576.4 152.4 583.2 156.4 589.5 160 C595.8 163.6 602 167.2 604.5 168.6 M92.5 241.8 C95 238.8 97.9 237.5 107.5 224 C117.1 210.5 134.6 180.2 150 161 C165.4 141.8 183.3 122.7 200 109 C216.7 95.3 233.3 86.7 250 79 C266.7 71.3 275.3 66.9 300 63 C324.7 59.1 375.8 55.6 398 55.5 C420.2 55.4 421.5 59.5 433 62.4 C444.5 65.3 455.8 69 467 73 C478.2 77.1 489 81.8 500 86.5 C511 91.3 521.8 96.4 533 101.4 C544.2 106.5 557.6 112.4 567 116.7 C576.4 121 583.2 124.1 589.5 127 C595.8 129.9 602 132.7 604.5 133.9 M92 222 C94.6 219.2 97.8 217 107.5 205 C117.2 193 134.6 167.5 150 150 C165.4 132.5 183.3 114.3 200 100 C216.7 85.7 233.3 72.8 250 64 C266.7 55.2 288.3 50.7 300 47 C311.7 43.3 316.7 42.8 320 42 M92 200 C94.6 197 97.8 194.5 107.5 182 C117.2 169.5 134.6 142.8 150 125 C165.4 107.2 186.2 87.8 200 75 C213.8 62.2 225.5 54.2 233 48 C240.5 41.8 243 39.7 245 38 M97 175 C98.8 172.2 102 166.3 107.5 158 C113 149.7 122.9 137.2 130 125 C137.1 112.8 145 95.5 150 85 C155 74.5 157 68.2 160 62 C163 55.8 166 52 168 48 C170 44 171.3 39.7 172 38 M100 140 C101.3 138.5 105.5 134.7 108 131 C110.5 127.3 113 123.2 115 118 C117 112.8 119.2 106.3 120 100 C120.8 93.7 119.4 88.7 119.5 80 C119.6 71.3 120.2 55 120.5 48 C120.8 41 120.9 39.7 121 38 M436 38 C437.3 39.7 437.5 43.2 444 48 C450.5 52.8 464.7 61.3 475 67 C485.3 72.7 495.7 77.8 506 82 C516.3 86.2 528.3 89.3 537 92 C545.7 94.7 549.2 96.2 558 98 C566.8 99.8 582.5 102 589.5 103 C596.5 104 598.2 103.8 600 104 M458 38 C459.5 39.7 460 43.8 467 48 C474 52.2 489.5 58.5 500 63 C510.5 67.5 520 71.3 530 75 C540 78.7 550.1 82 560 85 C569.9 88 582.8 91.3 589.5 93 C596.2 94.7 598.2 94.7 600 95 M473 38 C474.7 39.7 476.8 44.5 483 48 C489.2 51.5 500.5 55.3 510 59 C519.5 62.7 530.8 66.8 540 70 C549.2 73.2 556.8 75.7 565 78 C573.2 80.3 583.7 82.7 589.5 84 C595.3 85.3 598.2 85.7 600 86 M484 38 C486 39.7 490 44.8 496 48 C502 51.2 511 53.8 520 57 C529 60.2 538.4 63.5 550 67 C561.6 70.5 581.2 75.8 589.5 78 C597.8 80.2 598.2 79.7 600 80 M494 38 C496.3 39.7 501.2 44.8 508 48 C514.8 51.2 526.3 54.3 535 57 C543.7 59.7 550.9 61.5 560 64 C569.1 66.5 582.8 70.3 589.5 72 C596.2 73.7 598.2 73.7 600 74 M505 38 C508 39.7 515.5 44.8 523 48 C530.5 51.2 538.9 54 550 57 C561.1 60 581.2 64.2 589.5 66 C597.8 67.8 598.2 67.7 600 68 M520 38 C523.3 39.7 533 45.2 540 48 C547 50.8 553.8 53 562 55 C570.2 57 583.2 59 589.5 60 C595.8 61 598.2 60.8 600 61 M408 535 C409.2 532.5 411.3 528.8 415 520 C418.7 511.2 424.2 491.8 430 482 C435.8 472.2 443.5 465.5 450 461 C456.5 456.5 460.7 453.8 469 455 C477.3 456.2 489.8 462.2 500 468 C510.2 473.8 521 483 530 490 C539 497 547 503.3 554 510 C561 516.7 569 526.7 572 530 M352 488 C353.1 483.8 358.7 478.2 362.5 474 C366.3 469.8 371.2 465.2 375 463 C378.8 460.8 382.9 460.2 385 461 C387.1 461.8 388.2 464.3 387.5 467.5 C386.8 470.7 381.8 475.8 381 480 C380.2 484.2 384.7 489 383 492.5 C381.3 496 375.5 499.9 371 501 C366.5 502.1 359.2 501.2 356 499 C352.8 496.8 350.9 492.2 352 488Z" fill="none" stroke="#000" stroke-width="1.6" stroke-linejoin="round"/>
<path d="M379.2 119.3 L375.6 122.2 L374.4 125 L363.7 124.4 L362 121 L360.8 119.9 L355.4 120.4 L356.6 125.6 L359 129 L359.6 133 L355.4 133.6 L351.9 131.3 L345.9 133 L340 131.3 L332.9 132.4 L327 134.2 L324.3 135.9 L327 138.2 L324.8 141.4 L329.3 143.9 L335.3 145 L340 147.3 L345.9 148.5 L349.5 151.3 L354.2 153 L352.5 156.5 L353.6 161 L359 164.5 L362 167.9 L362.5 173 L363.7 175.9 L362.5 181.6 L362 186.2 L360.8 193 L359.6 201 L357.2 204.5 L351.9 204.7 L345.9 203.9 L340 202.2 L332.9 203.3 L325.8 201.6 L318.7 201.6 L311.5 201.6 L304.4 201.6 L296.1 201 L292.6 199.7 L289 201 L284.3 203.3 L279.5 205.6 L276.5 209 L277.7 212.5 L279.5 215.9 L280.7 219.3 L279.5 222.8 L280.7 226.2 L281.9 230.8 L282.1 236.5 L281.3 242.2 L280.1 247.9 L277.7 254.8 L274.8 259.3 L273.6 265.1 L275.4 268.5 L280.7 269.6 L281.3 276.5 L279.5 284.5 L278.9 289.6 L285.4 289.6 L290.2 290.8 L293.7 287.9 L296.1 287.4 L302 287.9 L305.6 291.4 L308 294.8 L309.8 299.4 L313.9 303.4 L316.9 302.8 L318.7 299.9 L323.4 297.1 L330.5 294.8 L340 294.2 L349.5 294.2 L353.1 292.5 L359 286.8 L363.7 283.4 L369.7 281.1 L372.6 275.4 L375.6 269.6 L376.8 266.2 L373.8 262.8 L372 258.2 L373.2 253.6 L375.6 250.2 L379.2 247.9 L382.7 242.2 L387.5 235.3 L391.6 233.6 L397.5 230.8 L404.1 225 L408.2 220.5 L410 217.6 L408.2 213.6 L408.2 209 L410.6 205.6 L415.3 202.2 L418.9 201.6 L424.8 203.9 L431.9 205.6 L436.7 207.9 L441.4 208.5 L446.2 206.8 L450.9 201 L455.7 197.6 L458 195.3 L462.8 193 L467.5 190.8 L472.3 191.3 L477 194.2 L481.8 197.6 L485.3 202.2 L487.7 207.9 L490.1 211.3 L493.6 215.9 L496 218.2 L500.7 221.6 L505.5 226.2 L510.2 230.8 L513.8 234.2 L519.7 235.3 L524.5 234.2 M524.5 211.3 L520.9 206.8 L517.4 202.2 L512.6 198.8 L509 196.5 L507.9 190.8 L509 186.2 L507.9 182.8 L506.7 178.2 L509 175.9 L515 174.7 L520.9 175.9 L522.1 179.3 L525.1 185 M271.2 384.5 L269.4 373.7 L270.6 365.7 L274.8 357.7 L277.1 350.8 L280.7 345.1 L285.4 340.5 L292.6 335.9 L297.3 332.5 L300.9 330.2 L304.4 324.5 L306.8 318.8 L309.2 311.9 L311.5 307.4 L316.3 305.6 L318.7 308.5 L321 311.9 L325.8 314.8 L332.9 314.8 L340 314.2 L343.6 313.1 L344.2 315.4 L349.5 315.9 L354.2 316.5 L359 314.2 L363.7 309.6 L369.7 307.4 L375.6 303.9 L381.5 299.4 L387.5 297.6 L396.4 294.8 L405.8 293.1 L415.3 291.9 L429.6 291.9 L431.9 294.8 L435.5 293.1 L441.4 291.4 L446.2 289.6 L452.1 291.4 L455.7 290.2 L460.4 291.9 L467.5 290.8 L472.3 288.5 L478.2 286.8 L481.2 287.4 L484.1 290.8 L488.9 291.9 L493 289.6 L494.2 291.9 L491.3 295.9 L488.9 299.4 L489.5 303.9 L493 308.5 L493.6 314.2 L491.3 318.8 L487.7 323.4 L484.1 327.9 L484.1 332.5 L488.9 334.8 L491.3 333.1 L493.6 334.8 L494.2 339.4 L498.4 342.8 L504.3 345.1 L512.6 346.8 L519.7 346.2 L525.1 347.4 M400.5 255.9 L403.5 253.1 L407.6 251.3 L410 253.1 L412.4 256.5 L409.4 258.8 L406.4 259.3 L403.5 257.6 L400.5 255.9 M416.5 250.2 L419.5 249.1 L421.5 251.3 L418.9 252.3 L416.5 250.2 M387.5 263.3 L391 262.2 L392.2 263.9 L389.8 265.6 L387.8 265.1 L387.5 263.3 M463.4 237.6 L467.5 238.8 L472.9 233.6 L475.8 234.2 L479.4 239.9 L479.4 247.9 L479.4 254.8 L476.4 260.5 L473.5 263.9 L469.9 265.1 L466.3 263.9 L465.2 259.3 L466.3 253.6 L465.7 247.9 L462.8 242.2 L463.4 237.6 M475.8 209.6 L476.8 213.6 L477.6 220.5 L475.8 228.5 L472.9 231.9 L469.3 227.3 L467.5 222.8 L467.5 217 L469.9 214.2 L474.1 213 L475.2 210.2 L475.8 209.6 M520.9 274.8 L516.2 274.8 L512 275.9 L509 278.8 L510.2 281.6 L515 283.9 L520.9 287.4 M483.5 211.6 L486.7 211.6 L486.7 213.8 L483.5 213.8 L483.5 211.6 M389.8 267.6 L392.2 268.3 M351.3 316.5 L356.6 325.7 L356.6 334.8 L359 342.8 L363.7 350.8 L361.4 354.2 L343.6 357.7 L341.2 362.2 L334.1 366.8 L335.3 371.4 L328.1 374.8 L321 379.4 L318.7 385.7 M465.2 292.5 L463.4 298.2 L465.2 307.4 L464 316.5 L460.4 325.7 L455.7 332.5 L458 339.4 L462.8 346.2 L469.9 353.1 L472.3 357.7 L474.6 369.1 L477 381.7 L476.4 385.7 M477 381.7 L482.9 373.7 L485.3 364.5 L488.9 357.7 L496 353.1 L498.4 348.5 L498.1 343 M280.7 226.2 L284.3 223.3 L286.6 221 L287.8 223.9 L294.9 225 L299.7 223.3 L304.4 224.5 L308 229.6 L303.2 233.6 L300.9 238.8 L302 243.3 L300.9 247.9 L296.1 254.8 L297.3 259.3 L300.3 263.9 L299.1 270.8 L300.9 274.8 L296.1 277.6 L294.9 282.2 L296.1 287.4 M357.2 204.5 L361.4 207.9 L367.3 210.2 L373.2 211.9 L379.2 211.3 L387.5 214.2 L391.6 215.3 L395.2 217.6 L399.9 216.5 L405.8 217 L410 217.6 M427.2 115.9 L431.9 119.9 L436.7 121.6 L437.9 117.6 L442.6 116.4 M442.6 116.4 L445 123.3 L452.1 126.7 L458 127.9 L462.2 130.2 L460.4 135.9 L456.9 140.5 L455.7 147.3 L450.9 149.6 L446.2 154.2 L442.6 159.9 L440.2 164.5 L439.7 167.3 L445 164.5 L448.5 166.7 L449.1 170.2 L448.5 175.9 L450.9 179.3 L447.4 181.6 L448.5 186.2 L450.9 188.5 L449.1 190.8 L453.3 195.3 L458 195.9 L457.4 198.2 M450.9 149.6 L458 148.5 L466.3 146.2 L471.1 147.3 L478.2 149 L477 153 L481.8 156.5 L486.5 157.6 L485.3 161 L482.9 164.5 L478.2 163.3 L474.6 164.5 L472.3 170.2 L469.9 167.9 L466.3 164.5 L462.8 167.9 L455.7 170.2 L449.1 170.2 M478.2 149 L485.3 150.7 L493.6 148.5 L503.1 147.3 L507.9 146.2 L513.8 148.5 L515 145 L512.6 140.5 L519.7 133.6 L525.1 130.7 M486.5 157.6 L491.3 156.5 L498.4 154.7 L505.5 154.2 L507.9 158.7 L515 161 L525.1 162.4 M523.3 162.2 L520.9 167.9 L522.1 173.6 L525.1 174.7 M509 115.9 L512.6 122.2 L517.4 126.7 L523.3 131.3 M271.7 385.1 L269.1 390.5 L265.9 393.2 L261.6 398.6 L254.1 405.3 L237 412.8 L231.6 424.2 L219.9 437.7 L215.6 452.6 L208.1 463.3 L204.3 470.1 L200.6 479.5 L195.2 490.3 L192.6 506.5 L192.6 509.2 L196.3 511.9 L198.5 520 L198.5 526.7 M320.4 43.8 L320.4 47.8 L321.5 51.9 L327.9 51.9 L337.6 49.2 L341.8 48.5 L336.5 54.6 L344 61.3 L342.9 69.4 L329 72.1 L325.8 70.8 L329 73.5 L324.7 77.5 L331.1 76.2 L331.1 81.6 L318.3 89.7 L320.4 92.4 L330.1 94.4 L340.8 96.4 L346.1 95.1 L342.9 99.1 L326.9 101.8 L321.5 109.9 L314 114.6 L319.4 116 L331.1 110.6 L335.9 112.6 L348.8 108.6 L361.1 107.2 L377.7 105.2 L385.2 103.2 L389.4 100.5 L390.5 96.4 L382.5 95.1 L384.6 91.7 L388.9 89 L393.7 81.6 L388.9 75.5 L378.2 76.2 L375 68.1 L376.1 66.7 L373.9 60 L368.6 54.6 L362.2 52.6 L360 47.8 L357.9 42.5 M307.6 43.8 L315.1 50.5 L316.1 55.9 L309.7 61.3 L309.7 68.1 L308.7 74.8 L310.8 85.6 L306.5 85.6 L300.1 87 L287.3 91 L284.1 93.7 L270.1 95.1 L265.9 91 L263.7 87 L273.4 77.5 L278.7 72.1 L266.9 68.1 L268 58.6 L284.1 57.3 L284.1 53.2 L287.3 47.8 L291.5 43.8 M392.1 115.3 L392.1 105.9 L394.8 102.5 L400.7 101.1 L406 98.4 L412.4 96.4 L417.8 89.7 L423.1 82.9 L425.8 75.5 L432.8 72.1 L448.8 69.4 L451 68.1 L460.6 65.4 L465.9 66.7 L468.1 62.7 L470.2 60 L467 55.9 L467 49.2 L463.8 43.8 M477.7 43.8 L476.6 50.5 L484.1 55.9 L491.6 61.3 L498.1 61.3 L504.5 58.6 L508.8 54.6 L519.5 53.2 L522.7 60 L528 62.7 L546.2 57.3 L573 50.5 L576.2 55.9 L584.7 55.3 L594.4 55.9 M524.8 238.7 L527.5 238.7 L528.5 242.1 L532.8 241.4 L535.5 247.5 L542.5 249.5 L544.1 255.6 L547.3 263.7 L548.3 267.1 L544.6 269.1 L542.5 277.2 L547.3 277.9 L552.1 271.8 L552.6 266.4 L558.5 264.4 L558 258.3 L552.1 254.2 L552.6 248.9 L555.8 244.1 L559 244.1 L566.5 246.8 L567.6 250.9 L571.3 252.9 L573 248.2 L567.6 241.4 L555.3 234.7 L546.2 230.6 L548.3 224.6 L538.7 223.9 L532.3 221.9 L526.9 216.5 L524.8 213.8 M524.8 276.5 L535.5 275.2 L541.9 273.8 L536.6 283.9 L538.7 290 L536.6 294.7 L529.1 293.4 L524.8 289.3 M522.1 174 L520 176.7 L520.5 184.8 L528 178.7 L534.4 183.4 L537.6 194.9 L551 203 L568.7 214.5 L573 217.8 L579.4 221.9 L582.6 225.2 L583.1 232.7 L582.6 244.1 L587.9 251.5 L594.4 256.9 M524.8 348 L536.6 352.7 L539.8 360.8 L552.6 368.9 L567.6 377 L578.3 381.1 L584.7 379.7 L594.4 371.6 M194.2 407.4 L202.7 404.7 L199.5 411.4 L194.2 407.4 M205.9 412.1 L210.2 410.1 L210.2 414.8 L205.9 412.1 M219.9 410.7 L226.8 402.6 L226.3 408.7 L219.9 410.7 M226.8 398.6 L231.1 395.9 L230.6 399.9 L226.8 398.6 M182.4 401.3 L185.1 401.3 L184.5 405.3 L182.4 401.3 M192 347.3 L196.3 348 L193.1 349.4 L192 347.3 M233.8 416.5 L282.2 416.5 L282.2 439.1 L246.6 439.1 L246.6 473.5 L235.9 479.5 L234.8 502.1 L193.6 502.1 M282.2 402.6 L282.2 421.5 L323.3 452.6 L387.3 505.2 L387.8 510.6 L394.3 516 L400.7 522.7 M323.3 452.6 L304.7 452.6 L308.7 506.5 L311.1 526.7 M439.2 525.4 L454.7 508.5 L503.1 472.5 L526.9 484.9 L535.5 479.5 L546.2 473.5 L594.4 503.8 M535.5 479.5 L540.9 506.5 L541.9 526.7 M503.1 472.5 L498.1 462 L484.7 457.9 L475.6 437 L480.4 432.3 L480.9 414.8 L479.9 408 L480.9 398.6 L477.2 382.4 M321.5 382.4 L316.1 386.4 L300.1 390.5 L282.2 402.6 M439.2 114 L440.3 105.9 L436 104.5 L439.2 99.1 L441.3 91 L447.8 88.3 L449.9 80.2 L452 72.1 M410.3 97.1 L421 96.4 L428.5 95.7 L437.1 99.8 L436 104.5 M528 62.7 L529.1 70.8 L525.9 77.5 L532.3 87 L532.3 93.7 L535.5 101.8 L533.4 103.8 L524.8 104.5 M533.4 103.8 L546.2 107.2 L555.8 109.9 L564.4 111.3 L574 116.6 L576.7 122 M524.8 133.5 L535.5 128.8 L547.3 132.2 L556.4 134.2 L559 142.3 L547.3 150.4 L551.5 157.1 L547.3 157.8 M521.6 162.2 L530.1 163.9 L541.9 159.8 L547.3 157.8 L552.6 163.2 L549.4 169.3 L541.9 166.6 L538.7 176 L531.2 174.7 L520.5 176 M576.7 122 L583.6 120.7 L590.1 126.1 L594.4 123.4 M556.4 134.2 L567.6 130.1 L576.7 122 M559 142.3 L565.5 145.7 L576.2 145 L594.4 138.2 M549.4 169.3 L560.1 169.9 L571.9 172.6 L577.2 170.6 L594.4 167.2 M538.7 176 L544.1 180.1 L549.4 182.8 L556.9 180.1 L567.6 181.4 L578.3 184.1 L582.6 184.1 L580.4 192.2 L584.7 196.9 L580.4 203 L573 215.1 M582.6 225.2 L590.1 216.5 L594.4 212.4 M467 49.2 L476.6 50.5" fill="none" stroke="#000" stroke-width="0.9" stroke-linejoin="round"/>
<rect x="161" y="115.5" width="375" height="337.5" fill="none" stroke="#8b0000" stroke-width="3.2"/>
<text transform="translate(197 105) rotate(-35)" text-anchor="middle" y="6.7" font-size="18.4" stroke="#fff" stroke-width="4.5" stroke-linejoin="round" paint-order="stroke">5500</text>
<text transform="translate(385 67) rotate(0)" text-anchor="middle" y="6.7" font-size="18.4" stroke="#fff" stroke-width="4.5" stroke-linejoin="round" paint-order="stroke">5540</text>
<text transform="translate(390 93) rotate(2)" text-anchor="middle" y="6.7" font-size="18.4" stroke="#fff" stroke-width="4.5" stroke-linejoin="round" paint-order="stroke">5580</text>
<text transform="translate(375 115) rotate(0)" text-anchor="middle" y="6.7" font-size="18.4" stroke="#fff" stroke-width="4.5" stroke-linejoin="round" paint-order="stroke">5620</text>
<text transform="translate(353 137) rotate(0)" text-anchor="middle" y="6.7" font-size="18.4" stroke="#fff" stroke-width="4.5" stroke-linejoin="round" paint-order="stroke">5660</text>
<text transform="translate(346 164) rotate(0)" text-anchor="middle" y="6.7" font-size="18.4" stroke="#fff" stroke-width="4.5" stroke-linejoin="round" paint-order="stroke">5700</text>
<text transform="translate(338 193) rotate(0)" text-anchor="middle" y="6.7" font-size="18.4" stroke="#fff" stroke-width="4.5" stroke-linejoin="round" paint-order="stroke">5740</text>
<text transform="translate(340 228) rotate(2)" text-anchor="middle" y="6.7" font-size="18.4" stroke="#fff" stroke-width="4.5" stroke-linejoin="round" paint-order="stroke">5780</text>
<text transform="translate(366 270) rotate(6)" text-anchor="middle" y="6.7" font-size="18.4" stroke="#fff" stroke-width="4.5" stroke-linejoin="round" paint-order="stroke">5820</text>
<text transform="translate(330 323) rotate(-3)" text-anchor="middle" y="6.7" font-size="18.4" stroke="#fff" stroke-width="4.5" stroke-linejoin="round" paint-order="stroke">5860</text>
<text transform="translate(469 455) rotate(12)" text-anchor="middle" y="6.7" font-size="18.4" stroke="#fff" stroke-width="4.5" stroke-linejoin="round" paint-order="stroke">5860</text>
<text transform="translate(554 510) rotate(0)" text-anchor="middle" y="6.7" font-size="18.4" stroke="#fff" stroke-width="4.5" stroke-linejoin="round" paint-order="stroke">5860</text>
<text transform="translate(562 52) rotate(0)" text-anchor="middle" y="6.7" font-size="18.4" stroke="#fff" stroke-width="4.5" stroke-linejoin="round" paint-order="stroke">5380</text>
<text transform="translate(581 83) rotate(0)" text-anchor="middle" y="6.7" font-size="18.4" stroke="#fff" stroke-width="4.5" stroke-linejoin="round" paint-order="stroke">5460</text>
<text transform="translate(116 147) rotate(-60)" text-anchor="middle" y="6.7" font-size="18.4" stroke="#fff" stroke-width="4.5" stroke-linejoin="round" paint-order="stroke">5460</text>
</g>
</g>
<g id="map-b">
<clipPath id="clipB"><rect x="703" y="48" width="469" height="472"/></clipPath>
<g clip-path="url(#clipB)">
<rect x="703" y="48" width="469" height="472" fill="#fff"/>
<path d="M997.8 511.1H1002.5V517.3H997.8ZM1015.8 511.1H1025V517.3H1015.8ZM1047.2 511.1H1056.5V517.3H1047.2ZM1060.8 511.1H1065.5V517.3H1060.8ZM1137.2 511.1H1142V517.3H1137.2ZM768.2 505.2H773V511.4H768.2ZM853.8 505.2H858.5V511.4H853.8ZM988.8 505.2H998V511.4H988.8ZM1015.8 505.2H1020.5V511.4H1015.8ZM1024.8 505.2H1029.5V511.4H1024.8ZM1042.8 505.2H1065.5V511.4H1042.8ZM1087.8 505.2H1092.5V511.4H1087.8ZM1132.8 505.2H1146.5V511.4H1132.8ZM831.2 499.4H836V505.5H831.2ZM840.2 499.4H845V505.5H840.2ZM849.2 499.4H854V505.5H849.2ZM871.8 499.4H885.5V505.5H871.8ZM984.2 499.4H1002.5V505.5H984.2ZM1015.8 499.4H1029.5V505.5H1015.8ZM1047.2 499.4H1052V505.5H1047.2ZM1087.8 499.4H1097V505.5H1087.8ZM1137.2 499.4H1146.5V505.5H1137.2ZM826.8 493.4H840.5V499.6H826.8ZM844.8 493.4H863V499.6H844.8ZM871.8 493.4H876.5V499.6H871.8ZM984.2 493.4H998V499.6H984.2ZM1087.8 493.4H1092.5V499.6H1087.8ZM831.2 487.6H867.5V493.7H831.2ZM871.8 487.6H885.5V493.7H871.8ZM988.8 487.6H993.5V493.7H988.8ZM1083.2 487.6H1088V493.7H1083.2ZM741.2 481.6H746V487.8H741.2ZM831.2 481.6H899V487.8H831.2ZM903.2 481.6H917V487.8H903.2ZM925.8 481.6H930.5V487.8H925.8ZM844.8 475.8H917V481.9H844.8ZM921.2 475.8H930.5V481.9H921.2ZM952.8 475.8H957.5V481.9H952.8ZM1047.2 475.8H1056.5V481.9H1047.2ZM1078.8 475.8H1083.5V481.9H1078.8ZM1096.8 475.8H1106V481.9H1096.8ZM745.8 469.9H750.5V476H745.8ZM853.8 469.9H939.5V476H853.8ZM943.8 469.9H953V476H943.8ZM1051.8 469.9H1056.5V476H1051.8ZM1060.8 469.9H1065.5V476H1060.8ZM1069.8 469.9H1079V476H1069.8ZM1092.2 469.9H1097V476H1092.2ZM1119.2 469.9H1124V476H1119.2ZM754.8 463.9H759.5V470.1H754.8ZM786.2 463.9H795.5V470.1H786.2ZM858.2 463.9H966.5V470.1H858.2ZM1056.2 463.9H1065.5V470.1H1056.2ZM1083.2 463.9H1088V470.1H1083.2ZM1101.2 463.9H1106V470.1H1101.2ZM777.2 458.1H795.5V464.2H777.2ZM799.8 458.1H804.5V464.2H799.8ZM862.8 458.1H899V464.2H862.8ZM903.2 458.1H971V464.2H903.2ZM1056.2 458.1H1061V464.2H1056.2ZM786.2 452.1H800V458.3H786.2ZM804.2 452.1H809V458.3H804.2ZM862.8 452.1H881V458.3H862.8ZM885.2 452.1H894.5V458.3H885.2ZM916.8 452.1H921.5V458.3H916.8ZM925.8 452.1H930.5V458.3H925.8ZM934.8 452.1H948.5V458.3H934.8ZM952.8 452.1H989V458.3H952.8ZM993.2 452.1H998V458.3H993.2ZM1137.2 452.1H1146.5V458.3H1137.2ZM1159.8 452.1H1164.5V458.3H1159.8ZM786.2 446.2H800V452.4H786.2ZM804.2 446.2H822.5V452.4H804.2ZM849.2 446.2H876.5V452.4H849.2ZM921.2 446.2H926V452.4H921.2ZM930.2 446.2H939.5V452.4H930.2ZM948.2 446.2H984.5V452.4H948.2ZM988.8 446.2H1002.5V452.4H988.8ZM1006.8 446.2H1011.5V452.4H1006.8ZM1015.8 446.2H1020.5V452.4H1015.8ZM1132.8 446.2H1142V452.4H1132.8ZM763.8 440.4H777.5V446.5H763.8ZM781.8 440.4H786.5V446.5H781.8ZM795.2 440.4H831.5V446.5H795.2ZM849.2 440.4H881V446.5H849.2ZM885.2 440.4H890V446.5H885.2ZM948.2 440.4H1002.5V446.5H948.2ZM1006.8 440.4H1029.5V446.5H1006.8ZM1114.8 440.4H1124V446.5H1114.8ZM772.8 434.4H912.5V440.6H772.8ZM925.8 434.4H930.5V440.6H925.8ZM934.8 434.4H939.5V440.6H934.8ZM943.8 434.4H1029.5V440.6H943.8ZM1033.8 434.4H1047.5V440.6H1033.8ZM1110.2 434.4H1119.5V440.6H1110.2ZM781.8 428.6H926V434.7H781.8ZM930.2 428.6H944V434.7H930.2ZM948.2 428.6H1061V434.7H948.2ZM1065.2 428.6H1074.5V434.7H1065.2ZM1078.8 428.6H1083.5V434.7H1078.8ZM1101.2 428.6H1110.5V434.7H1101.2ZM1114.8 428.6H1119.5V434.7H1114.8ZM790.8 422.6H948.5V428.8H790.8ZM952.8 422.6H1065.5V428.8H952.8ZM1069.8 422.6H1088V428.8H1069.8ZM1092.2 422.6H1097V428.8H1092.2ZM1101.2 422.6H1106V428.8H1101.2ZM795.2 416.8H1106V422.9H795.2ZM799.8 410.9H1110.5V417H799.8ZM799.8 404.9H1106V411.1H799.8ZM1110.2 404.9H1115V411.1H1110.2ZM804.2 399.1H1110.5V405.2H804.2ZM804.2 393.1H867.5V399.3H804.2ZM889.8 393.1H1106V399.3H889.8ZM808.8 387.2H827V393.4H808.8ZM894.2 387.2H1110.5V393.4H894.2ZM808.8 381.4H827V387.5H808.8ZM903.2 381.4H1110.5V387.5H903.2ZM813.2 375.4H818V381.6H813.2ZM916.8 375.4H1115V381.6H916.8ZM808.8 369.5H827V375.7H808.8ZM925.8 369.5H1106V375.7H925.8ZM1110.2 369.5H1115V375.7H1110.2ZM804.2 363.6H836V369.8H804.2ZM934.8 363.6H1115V369.8H934.8ZM804.2 357.8H881V363.9H804.2ZM952.8 357.8H1110.5V363.9H952.8ZM1114.8 357.8H1119.5V363.9H1114.8ZM768.2 351.9H777.5V358H768.2ZM799.8 351.9H885.5V358H799.8ZM1029.2 351.9H1061V358H1029.2ZM1065.2 351.9H1110.5V358H1065.2ZM754.8 345.9H894.5V352.1H754.8ZM1083.2 345.9H1101.5V352.1H1083.2ZM754.8 340H903.5V346.2H754.8ZM759.2 334.1H912.5V340.3H759.2ZM759.2 328.2H917V334.4H759.2ZM759.2 322.4H917V328.5H759.2ZM759.2 316.4H921.5V322.6H759.2ZM745.8 310.5H921.5V316.7H745.8ZM745.8 304.6H768.5V310.8H745.8ZM772.8 304.6H921.5V310.8H772.8ZM1069.8 304.6H1088V310.8H1069.8ZM750.2 298.8H759.5V304.9H750.2ZM772.8 298.8H917V304.9H772.8ZM1069.8 298.8H1074.5V304.9H1069.8ZM1078.8 298.8H1092.5V304.9H1078.8ZM750.2 292.9H764V299H750.2ZM768.2 292.9H917V299H768.2ZM1069.8 292.9H1079V299H1069.8ZM1083.2 292.9H1092.5V299H1083.2ZM754.8 286.9H768.5V293.1H754.8ZM772.8 286.9H917V293.1H772.8ZM754.8 281H764V287.2H754.8ZM768.2 281H921.5V287.2H768.2ZM1092.2 281H1097V287.2H1092.2ZM768.2 275.1H773V281.3H768.2ZM781.8 275.1H930.5V281.3H781.8ZM781.8 269.2H935V275.4H781.8ZM777.2 263.3H935V269.5H777.2ZM777.2 257.4H939.5V263.6H777.2ZM781.8 251.6H953V257.7H781.8ZM781.8 245.6H962V251.8H781.8ZM781.8 239.8H966.5V245.9H781.8ZM754.8 233.8H759.5V240H754.8ZM772.8 233.8H777.5V240H772.8ZM786.2 233.8H962V240H786.2ZM777.2 227.9H782V234.1H777.2ZM786.2 227.9H795.5V234.1H786.2ZM799.8 227.9H894.5V234.1H799.8ZM898.8 227.9H917V234.1H898.8ZM921.2 227.9H966.5V234.1H921.2ZM799.8 222H885.5V228.2H799.8ZM894.2 222H903.5V228.2H894.2ZM907.8 222H917V228.2H907.8ZM930.2 222H948.5V228.2H930.2ZM952.8 222H980V228.2H952.8ZM1074.2 222H1079V228.2H1074.2ZM795.2 216.1H800V222.3H795.2ZM804.2 216.1H867.5V222.3H804.2ZM889.8 216.1H894.5V222.3H889.8ZM907.8 216.1H912.5V222.3H907.8ZM916.8 216.1H921.5V222.3H916.8ZM943.8 216.1H975.5V222.3H943.8ZM804.2 210.2H867.5V216.4H804.2ZM903.2 210.2H908V216.4H903.2ZM957.2 210.2H971V216.4H957.2ZM1087.8 210.2H1092.5V216.4H1087.8ZM795.2 204.3H845V210.5H795.2ZM849.2 204.3H858.5V210.5H849.2ZM903.2 204.3H908V210.5H903.2ZM957.2 204.3H966.5V210.5H957.2ZM1015.8 204.3H1038.5V210.5H1015.8ZM768.2 198.4H773V204.6H768.2ZM777.2 198.4H786.5V204.6H777.2ZM795.2 198.4H818V204.6H795.2ZM822.2 198.4H827V204.6H822.2ZM844.8 198.4H849.5V204.6H844.8ZM853.8 198.4H858.5V204.6H853.8ZM862.8 198.4H872V204.6H862.8ZM970.8 198.4H984.5V204.6H970.8ZM993.2 198.4H998V204.6H993.2ZM1002.2 198.4H1047.5V204.6H1002.2ZM777.2 192.5H786.5V198.7H777.2ZM975.2 192.5H1052V198.7H975.2ZM979.8 186.6H1034V192.8H979.8ZM1038.2 186.6H1047.5V192.8H1038.2ZM1092.2 186.6H1101.5V192.8H1092.2ZM979.8 180.8H1020.5V186.9H979.8ZM988.8 174.8H1011.5V181H988.8ZM1056.2 174.8H1070V181H1056.2ZM993.2 168.9H1011.5V175.1H993.2ZM1056.2 168.9H1079V175.1H1056.2ZM1051.8 163H1074.5V169.2H1051.8ZM1047.2 157.1H1052V163.3H1047.2ZM1056.2 157.1H1079V163.3H1056.2ZM1060.8 151.2H1074.5V157.4H1060.8ZM1069.8 145.3H1074.5V151.5H1069.8Z" fill="#6e4007"/>
<path d="M741.2 517H777.5V523.2H741.2ZM822.2 517H836V523.2H822.2ZM840.2 517H885.5V523.2H840.2ZM966.2 517H1092.5V523.2H966.2ZM741.2 511.1H750.5V517.3H741.2ZM754.8 511.1H777.5V517.3H754.8ZM826.8 511.1H836V517.3H826.8ZM853.8 511.1H881V517.3H853.8ZM966.2 511.1H998V517.3H966.2ZM1002.2 511.1H1007V517.3H1002.2ZM1011.2 511.1H1016V517.3H1011.2ZM1024.8 511.1H1034V517.3H1024.8ZM1042.8 511.1H1047.5V517.3H1042.8ZM1056.2 511.1H1061V517.3H1056.2ZM1065.2 511.1H1079V517.3H1065.2ZM1083.2 511.1H1092.5V517.3H1083.2ZM1105.8 511.1H1119.5V517.3H1105.8ZM741.2 505.2H750.5V511.4H741.2ZM759.2 505.2H768.5V511.4H759.2ZM822.2 505.2H854V511.4H822.2ZM858.2 505.2H881V511.4H858.2ZM961.8 505.2H971V511.4H961.8ZM975.2 505.2H989V511.4H975.2ZM1020.2 505.2H1025V511.4H1020.2ZM1029.2 505.2H1034V511.4H1029.2ZM1038.2 505.2H1043V511.4H1038.2ZM1065.2 505.2H1070V511.4H1065.2ZM1083.2 505.2H1088V511.4H1083.2ZM1101.2 505.2H1106V511.4H1101.2ZM1110.2 505.2H1128.5V511.4H1110.2ZM1146.2 505.2H1155.5V511.4H1146.2ZM741.2 499.4H746V505.5H741.2ZM826.8 499.4H831.5V505.5H826.8ZM835.8 499.4H840.5V505.5H835.8ZM844.8 499.4H849.5V505.5H844.8ZM853.8 499.4H872V505.5H853.8ZM1011.2 499.4H1016V505.5H1011.2ZM1033.8 499.4H1038.5V505.5H1033.8ZM1051.8 499.4H1070V505.5H1051.8ZM1083.2 499.4H1088V505.5H1083.2ZM1146.2 499.4H1155.5V505.5H1146.2ZM1164.2 499.4H1169V505.5H1164.2ZM781.8 493.4H786.5V499.6H781.8ZM948.2 493.4H953V499.6H948.2ZM997.8 493.4H1016V499.6H997.8ZM1020.2 493.4H1034V499.6H1020.2ZM1042.8 493.4H1052V499.6H1042.8ZM1056.2 493.4H1065.5V499.6H1056.2ZM1083.2 493.4H1088V499.6H1083.2ZM781.8 487.6H786.5V493.7H781.8ZM822.2 487.6H831.5V493.7H822.2ZM930.2 487.6H966.5V493.7H930.2ZM979.8 487.6H989V493.7H979.8ZM993.2 487.6H998V493.7H993.2ZM1002.2 487.6H1038.5V493.7H1002.2ZM1065.2 487.6H1070V493.7H1065.2ZM1074.2 487.6H1083.5V493.7H1074.2ZM1164.2 487.6H1169V493.7H1164.2ZM781.8 481.6H791V487.8H781.8ZM826.8 481.6H831.5V487.8H826.8ZM930.2 481.6H957.5V487.8H930.2ZM975.2 481.6H980V487.8H975.2ZM1033.8 481.6H1038.5V487.8H1033.8ZM1078.8 481.6H1083.5V487.8H1078.8ZM1168.8 481.6H1173.5V487.8H1168.8ZM781.8 475.8H786.5V481.9H781.8ZM831.2 475.8H845V481.9H831.2ZM930.2 475.8H953V481.9H930.2ZM957.2 475.8H966.5V481.9H957.2ZM970.8 475.8H975.5V481.9H970.8ZM1119.2 475.8H1133V481.9H1119.2ZM1150.8 475.8H1155.5V481.9H1150.8ZM772.8 469.9H777.5V476H772.8ZM781.8 469.9H804.5V476H781.8ZM835.8 469.9H840.5V476H835.8ZM844.8 469.9H854V476H844.8ZM939.2 469.9H944V476H939.2ZM952.8 469.9H971V476H952.8ZM975.2 469.9H980V476H975.2ZM1123.8 469.9H1128.5V476H1123.8ZM1141.8 469.9H1146.5V476H1141.8ZM781.8 463.9H786.5V470.1H781.8ZM795.2 463.9H804.5V470.1H795.2ZM853.8 463.9H858.5V470.1H853.8ZM966.2 463.9H975.5V470.1H966.2ZM1146.2 463.9H1151V470.1H1146.2ZM750.2 458.1H755V464.2H750.2ZM759.2 458.1H764V464.2H759.2ZM795.2 458.1H800V464.2H795.2ZM804.2 458.1H809V464.2H804.2ZM853.8 458.1H863V464.2H853.8ZM970.8 458.1H984.5V464.2H970.8ZM993.2 458.1H998V464.2H993.2ZM754.8 452.1H764V458.3H754.8ZM799.8 452.1H804.5V458.3H799.8ZM808.8 452.1H818V458.3H808.8ZM826.8 452.1H831.5V458.3H826.8ZM880.8 452.1H885.5V458.3H880.8ZM894.2 452.1H899V458.3H894.2ZM988.8 452.1H993.5V458.3H988.8ZM997.8 452.1H1002.5V458.3H997.8ZM1006.8 452.1H1016V458.3H1006.8ZM1051.8 452.1H1065.5V458.3H1051.8ZM759.2 446.2H786.5V452.4H759.2ZM799.8 446.2H804.5V452.4H799.8ZM835.8 446.2H840.5V452.4H835.8ZM844.8 446.2H849.5V452.4H844.8ZM876.2 446.2H894.5V452.4H876.2ZM984.2 446.2H989V452.4H984.2ZM1002.2 446.2H1007V452.4H1002.2ZM1033.8 446.2H1038.5V452.4H1033.8ZM1051.8 446.2H1065.5V452.4H1051.8ZM777.2 440.4H782V446.5H777.2ZM786.2 440.4H795.5V446.5H786.2ZM840.2 440.4H849.5V446.5H840.2ZM880.8 440.4H885.5V446.5H880.8ZM889.8 440.4H894.5V446.5H889.8ZM1002.2 440.4H1007V446.5H1002.2ZM1029.2 440.4H1038.5V446.5H1029.2ZM1047.2 440.4H1052V446.5H1047.2ZM1056.2 440.4H1065.5V446.5H1056.2ZM1029.2 434.4H1034V440.6H1029.2ZM1047.2 434.4H1065.5V440.6H1047.2ZM1083.2 434.4H1088V440.6H1083.2ZM1092.2 434.4H1097V440.6H1092.2ZM1060.8 428.6H1065.5V434.7H1060.8ZM1083.2 428.6H1101.5V434.7H1083.2ZM1110.2 428.6H1115V434.7H1110.2ZM1065.2 422.6H1070V428.8H1065.2ZM1087.8 422.6H1092.5V428.8H1087.8ZM1096.8 422.6H1101.5V428.8H1096.8ZM1105.8 404.9H1110.5V411.1H1105.8ZM1110.2 399.1H1119.5V405.2H1110.2ZM1105.8 393.1H1119.5V399.3H1105.8ZM1110.2 387.2H1119.5V393.4H1110.2ZM1110.2 381.4H1119.5V387.5H1110.2ZM1105.8 369.5H1110.5V375.7H1105.8ZM1110.2 357.8H1115V363.9H1110.2ZM1110.2 351.9H1119.5V358H1110.2ZM768.2 304.6H773V310.8H768.2ZM939.2 304.6H948.5V310.8H939.2ZM759.2 298.8H773V304.9H759.2ZM763.8 292.9H768.5V299H763.8ZM961.8 292.9H984.5V299H961.8ZM961.8 286.9H966.5V293.1H961.8ZM970.8 286.9H975.5V293.1H970.8ZM1069.8 286.9H1083.5V293.1H1069.8ZM763.8 281H768.5V287.2H763.8ZM988.8 281H998V287.2H988.8ZM1069.8 281H1074.5V287.2H1069.8ZM759.2 275.1H768.5V281.3H759.2ZM772.8 275.1H782V281.3H772.8ZM1069.8 275.1H1079V281.3H1069.8ZM759.2 269.2H782V275.4H759.2ZM1065.2 269.2H1079V275.4H1065.2ZM1092.2 269.2H1097V275.4H1092.2ZM759.2 263.3H777.5V269.5H759.2ZM1065.2 263.3H1074.5V269.5H1065.2ZM1092.2 263.3H1097V269.5H1092.2ZM759.2 257.4H777.5V263.6H759.2ZM1074.2 257.4H1083.5V263.6H1074.2ZM763.8 251.6H782V257.7H763.8ZM1083.2 251.6H1088V257.7H1083.2ZM768.2 245.6H782V251.8H768.2ZM759.2 239.8H764V245.9H759.2ZM768.2 239.8H782V245.9H768.2ZM759.2 233.8H764V240H759.2ZM777.2 233.8H786.5V240H777.2ZM966.2 233.8H971V240H966.2ZM1087.8 233.8H1092.5V240H1087.8ZM781.8 227.9H786.5V234.1H781.8ZM795.2 227.9H800V234.1H795.2ZM894.2 227.9H899V234.1H894.2ZM916.8 227.9H921.5V234.1H916.8ZM970.8 227.9H980V234.1H970.8ZM1087.8 227.9H1092.5V234.1H1087.8ZM777.2 222H782V228.2H777.2ZM786.2 222H791V228.2H786.2ZM795.2 222H800V228.2H795.2ZM885.2 222H894.5V228.2H885.2ZM903.2 222H908V228.2H903.2ZM916.8 222H930.5V228.2H916.8ZM948.2 222H953V228.2H948.2ZM1087.8 222H1092.5V228.2H1087.8ZM781.8 216.1H795.5V222.3H781.8ZM867.2 216.1H885.5V222.3H867.2ZM894.2 216.1H908V222.3H894.2ZM912.2 216.1H917V222.3H912.2ZM921.2 216.1H944V222.3H921.2ZM1087.8 216.1H1092.5V222.3H1087.8ZM750.2 210.2H759.5V216.4H750.2ZM867.2 210.2H872V216.4H867.2ZM898.8 210.2H903.5V216.4H898.8ZM907.8 210.2H926V216.4H907.8ZM930.2 210.2H957.5V216.4H930.2ZM754.8 204.3H759.5V210.5H754.8ZM763.8 204.3H768.5V210.5H763.8ZM786.2 204.3H795.5V210.5H786.2ZM844.8 204.3H849.5V210.5H844.8ZM862.8 204.3H872V210.5H862.8ZM921.2 204.3H926V210.5H921.2ZM939.2 204.3H957.5V210.5H939.2ZM975.2 204.3H980V210.5H975.2ZM1038.2 204.3H1043V210.5H1038.2ZM763.8 198.4H768.5V204.6H763.8ZM790.8 198.4H795.5V204.6H790.8ZM817.8 198.4H822.5V204.6H817.8ZM826.8 198.4H845V204.6H826.8ZM849.2 198.4H854V204.6H849.2ZM894.2 198.4H899V204.6H894.2ZM939.2 198.4H944V204.6H939.2ZM952.8 198.4H971V204.6H952.8ZM925.8 192.5H939.5V198.7H925.8ZM925.8 186.6H935V192.8H925.8ZM970.8 186.6H975.5V192.8H970.8ZM1033.8 186.6H1038.5V192.8H1033.8ZM1123.8 186.6H1133V192.8H1123.8ZM1141.8 186.6H1146.5V192.8H1141.8ZM930.2 180.8H935V186.9H930.2ZM1020.2 180.8H1043V186.9H1020.2ZM1047.2 180.8H1052V186.9H1047.2ZM1056.2 180.8H1065.5V186.9H1056.2ZM1128.2 180.8H1133V186.9H1128.2ZM1137.2 180.8H1142V186.9H1137.2ZM930.2 174.8H935V181H930.2ZM984.2 174.8H989V181H984.2ZM1011.2 174.8H1029.5V181H1011.2ZM1033.8 174.8H1038.5V181H1033.8ZM1047.2 174.8H1056.5V181H1047.2ZM1069.8 174.8H1079V181H1069.8ZM1123.8 174.8H1128.5V181H1123.8ZM984.2 168.9H993.5V175.1H984.2ZM1047.2 168.9H1056.5V175.1H1047.2ZM1047.2 163H1052V169.2H1047.2ZM1074.2 163H1083.5V169.2H1074.2ZM1123.8 163H1128.5V169.2H1123.8ZM1051.8 157.1H1056.5V163.3H1051.8ZM1078.8 157.1H1083.5V163.3H1078.8ZM1123.8 157.1H1133V163.3H1123.8ZM1042.8 151.2H1061V157.4H1042.8ZM1078.8 151.2H1083.5V157.4H1078.8ZM1119.2 151.2H1124V157.4H1119.2ZM1096.8 133.5H1101.5V139.7H1096.8ZM1065.2 127.6H1074.5V133.8H1065.2ZM1096.8 121.8H1101.5V127.9H1096.8ZM1137.2 115.8H1142V122H1137.2Z" fill="#a5691b"/>
<path d="M835.8 517H840.5V523.2H835.8ZM885.2 517H908V523.2H885.2ZM1092.2 517H1101.5V523.2H1092.2ZM1105.8 517H1173.5V523.2H1105.8ZM750.2 511.1H755V517.3H750.2ZM835.8 511.1H854V517.3H835.8ZM880.8 511.1H908V517.3H880.8ZM912.2 511.1H917V517.3H912.2ZM921.2 511.1H930.5V517.3H921.2ZM1006.8 511.1H1011.5V517.3H1006.8ZM1101.2 511.1H1106V517.3H1101.2ZM1119.2 511.1H1137.5V517.3H1119.2ZM1141.8 511.1H1173.5V517.3H1141.8ZM750.2 505.2H759.5V511.4H750.2ZM885.2 505.2H890V511.4H885.2ZM903.2 505.2H912.5V511.4H903.2ZM970.8 505.2H975.5V511.4H970.8ZM997.8 505.2H1016V511.4H997.8ZM1128.2 505.2H1133V511.4H1128.2ZM1155.2 505.2H1173.5V511.4H1155.2ZM745.8 499.4H750.5V505.5H745.8ZM970.8 499.4H984.5V505.5H970.8ZM1002.2 499.4H1011.5V505.5H1002.2ZM1110.2 499.4H1128.5V505.5H1110.2ZM1132.8 499.4H1137.5V505.5H1132.8ZM1155.2 499.4H1164.5V505.5H1155.2ZM1168.8 499.4H1173.5V505.5H1168.8ZM813.2 493.4H818V499.6H813.2ZM840.2 493.4H845V499.6H840.2ZM862.8 493.4H872V499.6H862.8ZM912.2 493.4H917V499.6H912.2ZM961.8 493.4H966.5V499.6H961.8ZM970.8 493.4H984.5V499.6H970.8ZM1015.8 493.4H1020.5V499.6H1015.8ZM1110.2 493.4H1115V499.6H1110.2ZM1128.2 493.4H1173.5V499.6H1128.2ZM745.8 487.6H750.5V493.7H745.8ZM777.2 487.6H782V493.7H777.2ZM786.2 487.6H795.5V493.7H786.2ZM817.8 487.6H822.5V493.7H817.8ZM867.2 487.6H872V493.7H867.2ZM885.2 487.6H899V493.7H885.2ZM903.2 487.6H908V493.7H903.2ZM912.2 487.6H917V493.7H912.2ZM921.2 487.6H930.5V493.7H921.2ZM966.2 487.6H971V493.7H966.2ZM1038.2 487.6H1043V493.7H1038.2ZM1128.2 487.6H1164.5V493.7H1128.2ZM1168.8 487.6H1173.5V493.7H1168.8ZM777.2 481.6H782V487.8H777.2ZM790.8 481.6H795.5V487.8H790.8ZM898.8 481.6H903.5V487.8H898.8ZM916.8 481.6H926V487.8H916.8ZM957.2 481.6H966.5V487.8H957.2ZM1029.2 481.6H1034V487.8H1029.2ZM1074.2 481.6H1079V487.8H1074.2ZM1132.8 481.6H1169V487.8H1132.8ZM786.2 475.8H795.5V481.9H786.2ZM799.8 475.8H804.5V481.9H799.8ZM826.8 475.8H831.5V481.9H826.8ZM916.8 475.8H921.5V481.9H916.8ZM1042.8 475.8H1047.5V481.9H1042.8ZM1132.8 475.8H1151V481.9H1132.8ZM1155.2 475.8H1173.5V481.9H1155.2ZM750.2 469.9H755V476H750.2ZM804.2 469.9H813.5V476H804.2ZM831.2 469.9H836V476H831.2ZM840.2 469.9H845V476H840.2ZM970.8 469.9H975.5V476H970.8ZM1047.2 469.9H1052V476H1047.2ZM1110.2 469.9H1115V476H1110.2ZM1128.2 469.9H1142V476H1128.2ZM1146.2 469.9H1155.5V476H1146.2ZM750.2 463.9H755V470.1H750.2ZM772.8 463.9H782V470.1H772.8ZM804.2 463.9H813.5V470.1H804.2ZM822.2 463.9H827V470.1H822.2ZM831.2 463.9H836V470.1H831.2ZM844.8 463.9H854V470.1H844.8ZM1051.8 463.9H1056.5V470.1H1051.8ZM1105.8 463.9H1146.5V470.1H1105.8ZM1150.8 463.9H1155.5V470.1H1150.8ZM754.8 458.1H759.5V464.2H754.8ZM763.8 458.1H768.5V464.2H763.8ZM772.8 458.1H777.5V464.2H772.8ZM808.8 458.1H818V464.2H808.8ZM849.2 458.1H854V464.2H849.2ZM898.8 458.1H903.5V464.2H898.8ZM988.8 458.1H993.5V464.2H988.8ZM1051.8 458.1H1056.5V464.2H1051.8ZM1074.2 458.1H1079V464.2H1074.2ZM1105.8 458.1H1146.5V464.2H1105.8ZM1150.8 458.1H1160V464.2H1150.8ZM763.8 452.1H786.5V458.3H763.8ZM817.8 452.1H822.5V458.3H817.8ZM853.8 452.1H863V458.3H853.8ZM898.8 452.1H908V458.3H898.8ZM921.2 452.1H926V458.3H921.2ZM930.2 452.1H935V458.3H930.2ZM948.2 452.1H953V458.3H948.2ZM1002.2 452.1H1007V458.3H1002.2ZM1020.2 452.1H1025V458.3H1020.2ZM1033.8 452.1H1038.5V458.3H1033.8ZM1047.2 452.1H1052V458.3H1047.2ZM1074.2 452.1H1083.5V458.3H1074.2ZM1105.8 452.1H1124V458.3H1105.8ZM1128.2 452.1H1133V458.3H1128.2ZM1146.2 452.1H1151V458.3H1146.2ZM822.2 446.2H831.5V452.4H822.2ZM840.2 446.2H845V452.4H840.2ZM894.2 446.2H912.5V452.4H894.2ZM925.8 446.2H930.5V452.4H925.8ZM939.2 446.2H944V452.4H939.2ZM1020.2 446.2H1034V452.4H1020.2ZM1047.2 446.2H1052V452.4H1047.2ZM1065.2 446.2H1079V452.4H1065.2ZM1119.2 446.2H1124V452.4H1119.2ZM831.2 440.4H840.5V446.5H831.2ZM894.2 440.4H908V446.5H894.2ZM912.2 440.4H917V446.5H912.2ZM930.2 440.4H939.5V446.5H930.2ZM943.8 440.4H948.5V446.5H943.8ZM1038.2 440.4H1047.5V446.5H1038.2ZM1065.2 440.4H1074.5V446.5H1065.2ZM1078.8 440.4H1088V446.5H1078.8ZM912.2 434.4H921.5V440.6H912.2ZM930.2 434.4H935V440.6H930.2ZM939.2 434.4H944V440.6H939.2ZM1065.2 434.4H1070V440.6H1065.2ZM1078.8 434.4H1083.5V440.6H1078.8ZM925.8 428.6H930.5V434.7H925.8ZM943.8 428.6H948.5V434.7H943.8ZM1074.2 428.6H1079V434.7H1074.2ZM948.2 422.6H953V428.8H948.2ZM1074.2 298.8H1079V304.9H1074.2ZM1078.8 292.9H1083.5V299H1078.8ZM768.2 286.9H773V293.1H768.2ZM966.2 286.9H971V293.1H966.2ZM975.2 286.9H980V293.1H975.2ZM1083.2 286.9H1088V293.1H1083.2ZM1092.2 286.9H1097V293.1H1092.2ZM1074.2 281H1088V287.2H1074.2ZM1078.8 275.1H1097V281.3H1078.8ZM1078.8 269.2H1092.5V275.4H1078.8ZM1074.2 263.3H1092.5V269.5H1074.2ZM1083.2 257.4H1092.5V263.6H1083.2ZM759.2 251.6H764V257.7H759.2ZM759.2 245.6H768.5V251.8H759.2ZM1078.8 245.6H1088V251.8H1078.8ZM763.8 239.8H768.5V245.9H763.8ZM1074.2 239.8H1079V245.9H1074.2ZM1083.2 239.8H1092.5V245.9H1083.2ZM763.8 233.8H773V240H763.8ZM1083.2 233.8H1088V240H1083.2ZM759.2 227.9H777.5V234.1H759.2ZM754.8 222H777.5V228.2H754.8ZM781.8 222H786.5V228.2H781.8ZM1078.8 222H1088V228.2H1078.8ZM754.8 216.1H759.5V222.3H754.8ZM777.2 216.1H782V222.3H777.2ZM885.2 216.1H890V222.3H885.2ZM1078.8 216.1H1088V222.3H1078.8ZM777.2 210.2H786.5V216.4H777.2ZM871.8 210.2H894.5V216.4H871.8ZM925.8 210.2H930.5V216.4H925.8ZM781.8 204.3H786.5V210.5H781.8ZM858.2 204.3H863V210.5H858.2ZM871.8 204.3H885.5V210.5H871.8ZM894.2 204.3H899V210.5H894.2ZM907.8 204.3H921.5V210.5H907.8ZM925.8 204.3H939.5V210.5H925.8ZM786.2 198.4H791V204.6H786.2ZM858.2 198.4H863V204.6H858.2ZM916.8 198.4H930.5V204.6H916.8ZM948.2 198.4H953V204.6H948.2ZM921.2 192.5H926V198.7H921.2ZM943.8 192.5H948.5V198.7H943.8ZM1047.2 186.6H1061V192.8H1047.2ZM921.2 180.8H930.5V186.9H921.2ZM1132.8 180.8H1137.5V186.9H1132.8ZM1128.2 174.8H1142V181H1128.2ZM1038.2 168.9H1047.5V175.1H1038.2ZM1119.2 168.9H1142V175.1H1119.2ZM1119.2 163H1124V169.2H1119.2ZM1128.2 163H1142V169.2H1128.2ZM1132.8 157.1H1142V163.3H1132.8ZM1074.2 151.2H1079V157.4H1074.2ZM1083.2 151.2H1088V157.4H1083.2ZM1047.2 145.3H1070V151.5H1047.2ZM1074.2 145.3H1092.5V151.5H1074.2ZM1051.8 139.4H1061V145.6H1051.8ZM1074.2 139.4H1088V145.6H1074.2Z" fill="#cfa256"/>
<path d="M1033.8 511.1H1043V517.3H1033.8ZM880.8 505.2H885.5V511.4H880.8ZM889.8 505.2H903.5V511.4H889.8ZM921.2 505.2H926V511.4H921.2ZM898.8 499.4H903.5V505.5H898.8ZM912.2 499.4H921.5V505.5H912.2ZM1128.2 499.4H1133V505.5H1128.2ZM741.2 493.4H750.5V499.6H741.2ZM754.8 493.4H759.5V499.6H754.8ZM777.2 493.4H782V499.6H777.2ZM786.2 493.4H791V499.6H786.2ZM876.2 493.4H912.5V499.6H876.2ZM916.8 493.4H930.5V499.6H916.8ZM1051.8 493.4H1056.5V499.6H1051.8ZM1065.2 493.4H1070V499.6H1065.2ZM1114.8 493.4H1128.5V499.6H1114.8ZM741.2 487.6H746V493.7H741.2ZM750.2 487.6H755V493.7H750.2ZM759.2 487.6H773V493.7H759.2ZM808.8 487.6H813.5V493.7H808.8ZM898.8 487.6H903.5V493.7H898.8ZM907.8 487.6H912.5V493.7H907.8ZM916.8 487.6H921.5V493.7H916.8ZM1042.8 487.6H1047.5V493.7H1042.8ZM1051.8 487.6H1065.5V493.7H1051.8ZM1069.8 487.6H1074.5V493.7H1069.8ZM1105.8 487.6H1128.5V493.7H1105.8ZM745.8 481.6H764V487.8H745.8ZM768.2 481.6H777.5V487.8H768.2ZM795.2 481.6H804.5V487.8H795.2ZM817.8 481.6H822.5V487.8H817.8ZM966.2 481.6H975.5V487.8H966.2ZM997.8 481.6H1025V487.8H997.8ZM1038.2 481.6H1074.5V487.8H1038.2ZM1110.2 481.6H1133V487.8H1110.2ZM745.8 475.8H759.5V481.9H745.8ZM768.2 475.8H782V481.9H768.2ZM795.2 475.8H800V481.9H795.2ZM804.2 475.8H809V481.9H804.2ZM817.8 475.8H827V481.9H817.8ZM966.2 475.8H971V481.9H966.2ZM1002.2 475.8H1007V481.9H1002.2ZM1015.8 475.8H1020.5V481.9H1015.8ZM1033.8 475.8H1043V481.9H1033.8ZM1056.2 475.8H1079V481.9H1056.2ZM1105.8 475.8H1119.5V481.9H1105.8ZM754.8 469.9H759.5V476H754.8ZM777.2 469.9H782V476H777.2ZM813.2 469.9H818V476H813.2ZM984.2 469.9H989V476H984.2ZM1029.2 469.9H1047.5V476H1029.2ZM1056.2 469.9H1061V476H1056.2ZM1065.2 469.9H1070V476H1065.2ZM1105.8 469.9H1110.5V476H1105.8ZM1114.8 469.9H1119.5V476H1114.8ZM1155.2 469.9H1173.5V476H1155.2ZM759.2 463.9H764V470.1H759.2ZM768.2 463.9H773V470.1H768.2ZM813.2 463.9H822.5V470.1H813.2ZM826.8 463.9H831.5V470.1H826.8ZM835.8 463.9H845V470.1H835.8ZM975.2 463.9H980V470.1H975.2ZM984.2 463.9H989V470.1H984.2ZM993.2 463.9H998V470.1H993.2ZM1047.2 463.9H1052V470.1H1047.2ZM1155.2 463.9H1173.5V470.1H1155.2ZM768.2 458.1H773V464.2H768.2ZM817.8 458.1H831.5V464.2H817.8ZM835.8 458.1H849.5V464.2H835.8ZM984.2 458.1H989V464.2H984.2ZM997.8 458.1H1007V464.2H997.8ZM1047.2 458.1H1052V464.2H1047.2ZM1159.8 458.1H1173.5V464.2H1159.8ZM822.2 452.1H827V458.3H822.2ZM831.2 452.1H840.5V458.3H831.2ZM844.8 452.1H854V458.3H844.8ZM907.8 452.1H917V458.3H907.8ZM1015.8 452.1H1020.5V458.3H1015.8ZM1024.8 452.1H1034V458.3H1024.8ZM1038.2 452.1H1047.5V458.3H1038.2ZM1155.2 452.1H1160V458.3H1155.2ZM831.2 446.2H836V452.4H831.2ZM912.2 446.2H921.5V452.4H912.2ZM943.8 446.2H948.5V452.4H943.8ZM1011.2 446.2H1016V452.4H1011.2ZM1038.2 446.2H1047.5V452.4H1038.2ZM1083.2 446.2H1097V452.4H1083.2ZM907.8 440.4H912.5V446.5H907.8ZM916.8 440.4H930.5V446.5H916.8ZM939.2 440.4H944V446.5H939.2ZM1074.2 440.4H1079V446.5H1074.2ZM1087.8 440.4H1101.5V446.5H1087.8ZM921.2 434.4H926V440.6H921.2ZM1069.8 434.4H1079V440.6H1069.8ZM1087.8 434.4H1092.5V440.6H1087.8ZM1096.8 434.4H1101.5V440.6H1096.8ZM1159.8 345.9H1173.5V352.1H1159.8ZM1150.8 340H1169V346.2H1150.8ZM1146.2 334.1H1151V340.3H1146.2ZM1146.2 328.2H1160V334.4H1146.2ZM1168.8 328.2H1173.5V334.4H1168.8ZM1092.2 292.9H1097V299H1092.2ZM1087.8 286.9H1092.5V293.1H1087.8ZM1087.8 281H1092.5V287.2H1087.8ZM1078.8 239.8H1083.5V245.9H1078.8ZM961.8 233.8H966.5V240H961.8ZM1074.2 233.8H1079V240H1074.2ZM966.2 227.9H971V234.1H966.2ZM1074.2 227.9H1088V234.1H1074.2ZM790.8 222H795.5V228.2H790.8ZM759.2 216.1H777.5V222.3H759.2ZM799.8 216.1H804.5V222.3H799.8ZM763.8 210.2H777.5V216.4H763.8ZM786.2 210.2H804.5V216.4H786.2ZM894.2 210.2H899V216.4H894.2ZM970.8 210.2H975.5V216.4H970.8ZM1123.8 210.2H1133V216.4H1123.8ZM759.2 204.3H764V210.5H759.2ZM768.2 204.3H782V210.5H768.2ZM885.2 204.3H894.5V210.5H885.2ZM966.2 204.3H975.5V210.5H966.2ZM1105.8 204.3H1110.5V210.5H1105.8ZM1123.8 204.3H1128.5V210.5H1123.8ZM772.8 198.4H777.5V204.6H772.8ZM930.2 198.4H939.5V204.6H930.2ZM943.8 198.4H948.5V204.6H943.8ZM984.2 198.4H989V204.6H984.2ZM997.8 198.4H1002.5V204.6H997.8ZM1105.8 198.4H1119.5V204.6H1105.8ZM939.2 192.5H944V198.7H939.2ZM961.8 192.5H975.5V198.7H961.8ZM1119.2 192.5H1124V198.7H1119.2ZM916.8 186.6H926V192.8H916.8ZM934.8 186.6H944V192.8H934.8ZM948.2 186.6H953V192.8H948.2ZM975.2 186.6H980V192.8H975.2ZM1114.8 186.6H1119.5V192.8H1114.8ZM916.8 180.8H921.5V186.9H916.8ZM934.8 180.8H948.5V186.9H934.8ZM975.2 180.8H980V186.9H975.2ZM979.8 174.8H984.5V181H979.8ZM1029.2 174.8H1034V181H1029.2ZM1042.8 174.8H1047.5V181H1042.8ZM1011.2 168.9H1020.5V175.1H1011.2ZM1101.2 168.9H1115V175.1H1101.2ZM921.2 163H926V169.2H921.2ZM979.8 163H998V169.2H979.8ZM1002.2 163H1011.5V169.2H1002.2ZM1092.2 163H1097V169.2H1092.2ZM1101.2 163H1119.5V169.2H1101.2ZM916.8 157.1H921.5V163.3H916.8ZM975.2 157.1H993.5V163.3H975.2ZM1092.2 157.1H1119.5V163.3H1092.2ZM1096.8 151.2H1119.5V157.4H1096.8ZM1123.8 151.2H1128.5V157.4H1123.8ZM1092.2 145.3H1097V151.5H1092.2ZM1114.8 145.3H1124V151.5H1114.8ZM957.2 139.4H980V145.6H957.2ZM966.2 133.5H980V139.7H966.2ZM961.8 127.6H966.5V133.8H961.8ZM975.2 127.6H980V133.8H975.2Z" fill="#ead59f"/>
<path d="M777.2 517H786.5V523.2H777.2ZM957.2 517H966.5V523.2H957.2ZM1101.2 517H1106V523.2H1101.2ZM777.2 511.1H791V517.3H777.2ZM817.8 511.1H827V517.3H817.8ZM957.2 511.1H962V517.3H957.2ZM1092.2 511.1H1101.5V517.3H1092.2ZM772.8 505.2H782V511.4H772.8ZM786.2 505.2H791V511.4H786.2ZM948.2 505.2H953V511.4H948.2ZM957.2 505.2H962V511.4H957.2ZM1092.2 505.2H1101.5V511.4H1092.2ZM1105.8 505.2H1110.5V511.4H1105.8ZM750.2 499.4H764V505.5H750.2ZM768.2 499.4H777.5V505.5H768.2ZM786.2 499.4H791V505.5H786.2ZM822.2 499.4H827V505.5H822.2ZM885.2 499.4H899V505.5H885.2ZM903.2 499.4H912.5V505.5H903.2ZM921.2 499.4H948.5V505.5H921.2ZM952.8 499.4H971V505.5H952.8ZM1096.8 499.4H1110.5V505.5H1096.8ZM750.2 493.4H755V499.6H750.2ZM772.8 493.4H777.5V499.6H772.8ZM790.8 493.4H804.5V499.6H790.8ZM930.2 493.4H948.5V499.6H930.2ZM952.8 493.4H962V499.6H952.8ZM966.2 493.4H971V499.6H966.2ZM1092.2 493.4H1110.5V499.6H1092.2ZM772.8 487.6H777.5V493.7H772.8ZM795.2 487.6H809V493.7H795.2ZM970.8 487.6H980V493.7H970.8ZM997.8 487.6H1002.5V493.7H997.8ZM1087.8 487.6H1106V493.7H1087.8ZM763.8 481.6H768.5V487.8H763.8ZM804.2 481.6H818V487.8H804.2ZM822.2 481.6H827V487.8H822.2ZM979.8 481.6H998V487.8H979.8ZM1083.2 481.6H1110.5V487.8H1083.2ZM759.2 475.8H768.5V481.9H759.2ZM808.8 475.8H818V481.9H808.8ZM975.2 475.8H1002.5V481.9H975.2ZM1083.2 475.8H1097V481.9H1083.2ZM759.2 469.9H773V476H759.2ZM817.8 469.9H831.5V476H817.8ZM979.8 469.9H984.5V476H979.8ZM988.8 469.9H1002.5V476H988.8ZM1078.8 469.9H1088V476H1078.8ZM1096.8 469.9H1101.5V476H1096.8ZM763.8 463.9H768.5V470.1H763.8ZM979.8 463.9H984.5V470.1H979.8ZM988.8 463.9H993.5V470.1H988.8ZM997.8 463.9H1016V470.1H997.8ZM1038.2 463.9H1047.5V470.1H1038.2ZM1065.2 463.9H1083.5V470.1H1065.2ZM1087.8 463.9H1097V470.1H1087.8ZM831.2 458.1H836V464.2H831.2ZM1006.8 458.1H1029.5V464.2H1006.8ZM1033.8 458.1H1047.5V464.2H1033.8ZM1060.8 458.1H1074.5V464.2H1060.8ZM1078.8 458.1H1083.5V464.2H1078.8ZM840.2 452.1H845V458.3H840.2ZM1065.2 452.1H1074.5V458.3H1065.2ZM1101.2 446.2H1115V452.4H1101.2ZM1101.2 440.4H1110.5V446.5H1101.2ZM1101.2 434.4H1110.5V440.6H1101.2ZM1150.8 334.1H1169V340.3H1150.8ZM1159.8 328.2H1169V334.4H1159.8ZM759.2 210.2H764V216.4H759.2ZM1114.8 210.2H1124V216.4H1114.8ZM1110.2 204.3H1124V210.5H1110.2ZM1119.2 198.4H1124V204.6H1119.2ZM948.2 192.5H957.5V198.7H948.2ZM1101.2 192.5H1119.5V198.7H1101.2ZM943.8 186.6H948.5V192.8H943.8ZM1110.2 186.6H1115V192.8H1110.2ZM1119.2 186.6H1124V192.8H1119.2ZM948.2 180.8H957.5V186.9H948.2ZM1096.8 180.8H1101.5V186.9H1096.8ZM1119.2 180.8H1128.5V186.9H1119.2ZM921.2 174.8H930.5V181H921.2ZM934.8 174.8H957.5V181H934.8ZM1078.8 174.8H1083.5V181H1078.8ZM1119.2 174.8H1124V181H1119.2ZM916.8 168.9H944V175.1H916.8ZM952.8 168.9H957.5V175.1H952.8ZM1114.8 168.9H1119.5V175.1H1114.8ZM916.8 163H921.5V169.2H916.8ZM925.8 163H930.5V169.2H925.8ZM939.2 163H944V169.2H939.2ZM1083.2 163H1088V169.2H1083.2ZM921.2 157.1H939.5V163.3H921.2ZM1083.2 157.1H1092.5V163.3H1083.2ZM957.2 145.3H962V151.5H957.2ZM979.8 139.4H989V145.6H979.8ZM957.2 133.5H966.5V139.7H957.2ZM979.8 133.5H984.5V139.7H979.8ZM1051.8 133.5H1074.5V139.7H1051.8ZM1078.8 133.5H1088V139.7H1078.8ZM952.8 127.6H962V133.8H952.8ZM966.2 127.6H975.5V133.8H966.2ZM979.8 127.6H984.5V133.8H979.8ZM1047.2 127.6H1065.5V133.8H1047.2ZM1074.2 127.6H1088V133.8H1074.2ZM961.8 121.8H966.5V127.9H961.8ZM1042.8 121.8H1056.5V127.9H1042.8ZM1060.8 121.8H1065.5V127.9H1060.8ZM1078.8 121.8H1083.5V127.9H1078.8ZM1132.8 121.8H1137.5V127.9H1132.8ZM1146.2 121.8H1151V127.9H1146.2ZM1168.8 121.8H1173.5V127.9H1168.8ZM1042.8 115.8H1061V122H1042.8ZM1074.2 115.8H1079V122H1074.2ZM1101.2 115.8H1119.5V122H1101.2ZM1141.8 115.8H1151V122H1141.8ZM1155.2 115.8H1173.5V122H1155.2ZM1042.8 109.9H1074.5V116.1H1042.8ZM1078.8 109.9H1088V116.1H1078.8ZM1101.2 109.9H1106V116.1H1101.2ZM1110.2 109.9H1128.5V116.1H1110.2ZM1132.8 109.9H1142V116.1H1132.8ZM1146.2 109.9H1164.5V116.1H1146.2ZM1168.8 109.9H1173.5V116.1H1168.8ZM1047.2 104H1052V110.2H1047.2ZM1069.8 104H1079V110.2H1069.8ZM1114.8 104H1119.5V110.2H1114.8ZM1146.2 104H1151V110.2H1146.2ZM1164.2 104H1169V110.2H1164.2Z" fill="#f5efdc"/>
<path d="M907.8 517H957.5V523.2H907.8ZM907.8 511.1H912.5V517.3H907.8ZM916.8 511.1H921.5V517.3H916.8ZM930.2 511.1H957.5V517.3H930.2ZM1078.8 511.1H1083.5V517.3H1078.8ZM912.2 505.2H921.5V511.4H912.2ZM925.8 505.2H948.5V511.4H925.8ZM952.8 505.2H957.5V511.4H952.8ZM1033.8 505.2H1038.5V511.4H1033.8ZM1069.8 505.2H1079V511.4H1069.8ZM763.8 499.4H768.5V505.5H763.8ZM777.2 499.4H782V505.5H777.2ZM804.2 499.4H809V505.5H804.2ZM948.2 499.4H953V505.5H948.2ZM1029.2 499.4H1034V505.5H1029.2ZM1042.8 499.4H1047.5V505.5H1042.8ZM1069.8 499.4H1083.5V505.5H1069.8ZM759.2 493.4H773V499.6H759.2ZM804.2 493.4H813.5V499.6H804.2ZM817.8 493.4H827V499.6H817.8ZM1033.8 493.4H1043V499.6H1033.8ZM1069.8 493.4H1083.5V499.6H1069.8ZM754.8 487.6H759.5V493.7H754.8ZM813.2 487.6H818V493.7H813.2ZM1047.2 487.6H1052V493.7H1047.2ZM1024.8 481.6H1029.5V487.8H1024.8ZM1006.8 475.8H1016V481.9H1006.8ZM1024.8 475.8H1029.5V481.9H1024.8ZM1002.2 469.9H1029.5V476H1002.2ZM1087.8 469.9H1092.5V476H1087.8ZM1101.2 469.9H1106V476H1101.2ZM1015.8 463.9H1038.5V470.1H1015.8ZM1096.8 463.9H1101.5V470.1H1096.8ZM1029.2 458.1H1034V464.2H1029.2ZM1083.2 458.1H1101.5V464.2H1083.2ZM1146.2 458.1H1151V464.2H1146.2ZM1083.2 452.1H1101.5V458.3H1083.2ZM1123.8 452.1H1128.5V458.3H1123.8ZM1132.8 452.1H1137.5V458.3H1132.8ZM1150.8 452.1H1155.5V458.3H1150.8ZM1164.2 452.1H1173.5V458.3H1164.2ZM1078.8 446.2H1083.5V452.4H1078.8ZM1114.8 446.2H1119.5V452.4H1114.8ZM1123.8 446.2H1133V452.4H1123.8ZM1051.8 440.4H1056.5V446.5H1051.8ZM1110.2 440.4H1115V446.5H1110.2ZM1123.8 440.4H1128.5V446.5H1123.8ZM1168.8 340H1173.5V346.2H1168.8ZM1168.8 334.1H1173.5V340.3H1168.8ZM1078.8 233.8H1083.5V240H1078.8ZM903.2 198.4H908V204.6H903.2ZM889.8 192.5H899V198.7H889.8ZM907.8 192.5H921.5V198.7H907.8ZM957.2 192.5H962V198.7H957.2ZM894.2 186.6H899V192.8H894.2ZM907.8 186.6H917V192.8H907.8ZM952.8 186.6H971V192.8H952.8ZM1101.2 186.6H1110.5V192.8H1101.2ZM894.2 180.8H899V186.9H894.2ZM907.8 180.8H917V186.9H907.8ZM957.2 180.8H975.5V186.9H957.2ZM1087.8 180.8H1097V186.9H1087.8ZM1101.2 180.8H1119.5V186.9H1101.2ZM894.2 174.8H921.5V181H894.2ZM961.8 174.8H980V181H961.8ZM1038.2 174.8H1043V181H1038.2ZM1083.2 174.8H1119.5V181H1083.2ZM894.2 168.9H917V175.1H894.2ZM966.2 168.9H984.5V175.1H966.2ZM1078.8 168.9H1101.5V175.1H1078.8ZM894.2 163H917V169.2H894.2ZM930.2 163H935V169.2H930.2ZM966.2 163H980V169.2H966.2ZM997.8 163H1002.5V169.2H997.8ZM1038.2 163H1047.5V169.2H1038.2ZM1087.8 163H1092.5V169.2H1087.8ZM1096.8 163H1101.5V169.2H1096.8ZM898.8 157.1H917V163.3H898.8ZM939.2 157.1H944V163.3H939.2ZM966.2 157.1H975.5V163.3H966.2ZM993.2 157.1H1011.5V163.3H993.2ZM1042.8 157.1H1047.5V163.3H1042.8ZM1119.2 157.1H1124V163.3H1119.2ZM903.2 151.2H939.5V157.4H903.2ZM948.2 151.2H953V157.4H948.2ZM966.2 151.2H980V157.4H966.2ZM984.2 151.2H989V157.4H984.2ZM1092.2 151.2H1097V157.4H1092.2ZM1132.8 151.2H1137.5V157.4H1132.8ZM894.2 145.3H939.5V151.5H894.2ZM943.8 145.3H957.5V151.5H943.8ZM966.2 145.3H989V151.5H966.2ZM1096.8 145.3H1101.5V151.5H1096.8ZM1123.8 145.3H1128.5V151.5H1123.8ZM903.2 139.4H957.5V145.6H903.2ZM1087.8 139.4H1092.5V145.6H1087.8ZM894.2 133.5H912.5V139.7H894.2ZM916.8 133.5H957.5V139.7H916.8ZM1087.8 133.5H1092.5V139.7H1087.8ZM1123.8 133.5H1128.5V139.7H1123.8ZM898.8 127.6H903.5V133.8H898.8ZM907.8 127.6H912.5V133.8H907.8ZM916.8 127.6H921.5V133.8H916.8ZM925.8 127.6H953V133.8H925.8ZM1087.8 127.6H1092.5V133.8H1087.8ZM1096.8 127.6H1106V133.8H1096.8ZM1110.2 127.6H1115V133.8H1110.2ZM1119.2 127.6H1128.5V133.8H1119.2ZM903.2 121.8H908V127.9H903.2ZM916.8 121.8H948.5V127.9H916.8ZM970.8 121.8H989V127.9H970.8ZM1056.2 121.8H1061V127.9H1056.2ZM1065.2 121.8H1079V127.9H1065.2ZM1083.2 121.8H1097V127.9H1083.2ZM1101.2 121.8H1133V127.9H1101.2ZM903.2 115.8H908V122H903.2ZM916.8 115.8H921.5V122H916.8ZM925.8 115.8H930.5V122H925.8ZM948.2 115.8H953V122H948.2ZM966.2 115.8H989V122H966.2ZM1060.8 115.8H1074.5V122H1060.8ZM1078.8 115.8H1101.5V122H1078.8ZM1119.2 115.8H1133V122H1119.2ZM961.8 109.9H966.5V116.1H961.8ZM1074.2 109.9H1079V116.1H1074.2ZM1096.8 109.9H1101.5V116.1H1096.8ZM939.2 104H953V110.2H939.2ZM943.8 98.1H957.5V104.3H943.8Z" fill="#def0ed"/>
<path d="M786.2 517H813.5V523.2H786.2ZM795.2 511.1H809V517.3H795.2ZM961.8 511.1H966.5V517.3H961.8ZM781.8 505.2H786.5V511.4H781.8ZM790.8 505.2H822.5V511.4H790.8ZM1078.8 505.2H1083.5V511.4H1078.8ZM781.8 499.4H786.5V505.5H781.8ZM790.8 499.4H804.5V505.5H790.8ZM808.8 499.4H822.5V505.5H808.8ZM1020.2 475.8H1025V481.9H1020.2ZM1029.2 475.8H1034V481.9H1029.2ZM1101.2 458.1H1106V464.2H1101.2ZM1101.2 452.1H1106V458.3H1101.2ZM1096.8 446.2H1101.5V452.4H1096.8ZM1141.8 245.6H1146.5V251.8H1141.8ZM1132.8 233.8H1137.5V240H1132.8ZM1141.8 233.8H1146.5V240H1141.8ZM1123.8 227.9H1137.5V234.1H1123.8ZM1146.2 227.9H1151V234.1H1146.2ZM1119.2 222H1128.5V228.2H1119.2ZM1146.2 222H1151V228.2H1146.2ZM1101.2 216.1H1110.5V222.3H1101.2ZM1114.8 216.1H1124V222.3H1114.8ZM1110.2 210.2H1115V216.4H1110.2ZM898.8 204.3H903.5V210.5H898.8ZM1159.8 204.3H1164.5V210.5H1159.8ZM889.8 198.4H894.5V204.6H889.8ZM898.8 198.4H903.5V204.6H898.8ZM907.8 198.4H917V204.6H907.8ZM1128.2 198.4H1133V204.6H1128.2ZM1155.2 198.4H1160V204.6H1155.2ZM898.8 192.5H908V198.7H898.8ZM1123.8 192.5H1137.5V198.7H1123.8ZM1141.8 192.5H1146.5V198.7H1141.8ZM1150.8 192.5H1155.5V198.7H1150.8ZM898.8 186.6H908V192.8H898.8ZM1132.8 186.6H1142V192.8H1132.8ZM898.8 180.8H908V186.9H898.8ZM1065.2 180.8H1070V186.9H1065.2ZM1083.2 180.8H1088V186.9H1083.2ZM1141.8 180.8H1146.5V186.9H1141.8ZM957.2 174.8H962V181H957.2ZM1141.8 174.8H1146.5V181H1141.8ZM943.8 168.9H953V175.1H943.8ZM957.2 168.9H966.5V175.1H957.2ZM1020.2 168.9H1034V175.1H1020.2ZM1141.8 168.9H1146.5V175.1H1141.8ZM934.8 163H939.5V169.2H934.8ZM943.8 163H953V169.2H943.8ZM961.8 163H966.5V169.2H961.8ZM1011.2 163H1025V169.2H1011.2ZM1141.8 163H1146.5V169.2H1141.8ZM1168.8 163H1173.5V169.2H1168.8ZM943.8 157.1H957.5V163.3H943.8ZM961.8 157.1H966.5V163.3H961.8ZM1011.2 157.1H1025V163.3H1011.2ZM1164.2 157.1H1173.5V163.3H1164.2ZM898.8 151.2H903.5V157.4H898.8ZM939.2 151.2H948.5V157.4H939.2ZM952.8 151.2H966.5V157.4H952.8ZM979.8 151.2H984.5V157.4H979.8ZM988.8 151.2H1029.5V157.4H988.8ZM1087.8 151.2H1092.5V157.4H1087.8ZM1137.2 151.2H1146.5V157.4H1137.2ZM1159.8 151.2H1164.5V157.4H1159.8ZM1168.8 151.2H1173.5V157.4H1168.8ZM939.2 145.3H944V151.5H939.2ZM961.8 145.3H966.5V151.5H961.8ZM988.8 145.3H1029.5V151.5H988.8ZM1101.2 145.3H1115V151.5H1101.2ZM894.2 139.4H903.5V145.6H894.2ZM988.8 139.4H1011.5V145.6H988.8ZM1047.2 139.4H1052V145.6H1047.2ZM1060.8 139.4H1074.5V145.6H1060.8ZM1092.2 139.4H1124V145.6H1092.2ZM912.2 133.5H917V139.7H912.2ZM984.2 133.5H1007V139.7H984.2ZM1074.2 133.5H1079V139.7H1074.2ZM1092.2 133.5H1097V139.7H1092.2ZM1101.2 133.5H1106V139.7H1101.2ZM1110.2 133.5H1119.5V139.7H1110.2ZM885.2 127.6H899V133.8H885.2ZM903.2 127.6H908V133.8H903.2ZM912.2 127.6H917V133.8H912.2ZM921.2 127.6H926V133.8H921.2ZM984.2 127.6H1002.5V133.8H984.2ZM1092.2 127.6H1097V133.8H1092.2ZM1114.8 127.6H1119.5V133.8H1114.8ZM1141.8 127.6H1146.5V133.8H1141.8ZM1150.8 127.6H1155.5V133.8H1150.8ZM1159.8 127.6H1164.5V133.8H1159.8ZM880.8 121.8H903.5V127.9H880.8ZM907.8 121.8H917V127.9H907.8ZM948.2 121.8H962V127.9H948.2ZM966.2 121.8H971V127.9H966.2ZM993.2 121.8H998V127.9H993.2ZM1137.2 121.8H1146.5V127.9H1137.2ZM1150.8 121.8H1169V127.9H1150.8ZM880.8 115.8H899V122H880.8ZM907.8 115.8H917V122H907.8ZM921.2 115.8H926V122H921.2ZM930.2 115.8H948.5V122H930.2ZM952.8 115.8H966.5V122H952.8ZM1132.8 115.8H1137.5V122H1132.8ZM1150.8 115.8H1155.5V122H1150.8ZM876.2 109.9H894.5V116.1H876.2ZM898.8 109.9H903.5V116.1H898.8ZM907.8 109.9H962V116.1H907.8ZM966.2 109.9H971V116.1H966.2ZM1105.8 109.9H1110.5V116.1H1105.8ZM1128.2 109.9H1133V116.1H1128.2ZM1141.8 109.9H1146.5V116.1H1141.8ZM1164.2 109.9H1169V116.1H1164.2ZM867.2 104H939.5V110.2H867.2ZM952.8 104H966.5V110.2H952.8ZM1051.8 104H1056.5V110.2H1051.8ZM1060.8 104H1065.5V110.2H1060.8ZM1110.2 104H1115V110.2H1110.2ZM1119.2 104H1128.5V110.2H1119.2ZM1132.8 104H1146.5V110.2H1132.8ZM1150.8 104H1155.5V110.2H1150.8ZM849.2 98.1H899V104.3H849.2ZM903.2 98.1H917V104.3H903.2ZM921.2 98.1H944V104.3H921.2ZM1083.2 98.1H1088V104.3H1083.2ZM1141.8 98.1H1151V104.3H1141.8ZM1155.2 98.1H1160V104.3H1155.2ZM1164.2 98.1H1169V104.3H1164.2ZM844.8 92.2H854V98.4H844.8ZM871.8 92.2H876.5V98.4H871.8ZM880.8 92.2H885.5V98.4H880.8ZM894.2 92.2H899V98.4H894.2ZM903.2 92.2H912.5V98.4H903.2ZM930.2 92.2H957.5V98.4H930.2ZM1047.2 92.2H1056.5V98.4H1047.2ZM1060.8 92.2H1065.5V98.4H1060.8ZM844.8 86.3H858.5V92.5H844.8ZM930.2 86.3H944V92.5H930.2ZM1033.8 86.3H1038.5V92.5H1033.8ZM1051.8 86.3H1056.5V92.5H1051.8ZM1060.8 86.3H1065.5V92.5H1060.8ZM849.2 80.4H858.5V86.6H849.2ZM934.8 80.4H939.5V86.6H934.8ZM1029.2 80.4H1034V86.6H1029.2ZM1042.8 80.4H1047.5V86.6H1042.8ZM1060.8 80.4H1065.5V86.6H1060.8ZM849.2 74.5H854V80.7H849.2ZM858.2 74.5H863V80.7H858.2ZM1033.8 74.5H1038.5V80.7H1033.8ZM1042.8 74.5H1047.5V80.7H1042.8ZM1060.8 74.5H1065.5V80.7H1060.8ZM1060.8 62.8H1065.5V68.9H1060.8ZM1060.8 50.9H1065.5V57.1H1060.8ZM1101.2 50.9H1106V57.1H1101.2ZM930.2 45H939.5V51.2H930.2ZM1060.8 45H1065.5V51.2H1060.8ZM1092.2 45H1097V51.2H1092.2ZM1101.2 45H1110.5V51.2H1101.2Z" fill="#a3dbd3"/>
<path d="M813.2 517H822.5V523.2H813.2ZM790.8 511.1H795.5V517.3H790.8ZM808.8 511.1H818V517.3H808.8ZM1038.2 499.4H1043V505.5H1038.2ZM1150.8 251.6H1173.5V257.7H1150.8ZM1146.2 245.6H1173.5V251.8H1146.2ZM1137.2 239.8H1155.5V245.9H1137.2ZM1159.8 239.8H1173.5V245.9H1159.8ZM1137.2 233.8H1142V240H1137.2ZM1159.8 233.8H1164.5V240H1159.8ZM1168.8 233.8H1173.5V240H1168.8ZM1137.2 227.9H1142V234.1H1137.2ZM1168.8 227.9H1173.5V234.1H1168.8ZM1128.2 222H1137.5V228.2H1128.2ZM1164.2 222H1169V228.2H1164.2ZM1123.8 216.1H1137.5V222.3H1123.8ZM1164.2 216.1H1173.5V222.3H1164.2ZM1132.8 210.2H1137.5V216.4H1132.8ZM1159.8 210.2H1169V216.4H1159.8ZM1128.2 204.3H1137.5V210.5H1128.2ZM1155.2 204.3H1160V210.5H1155.2ZM1123.8 198.4H1128.5V204.6H1123.8ZM1132.8 198.4H1142V204.6H1132.8ZM1146.2 198.4H1155.5V204.6H1146.2ZM1159.8 198.4H1164.5V204.6H1159.8ZM1137.2 192.5H1142V198.7H1137.2ZM1146.2 192.5H1151V198.7H1146.2ZM1033.8 168.9H1038.5V175.1H1033.8ZM952.8 163H962V169.2H952.8ZM1029.2 163H1038.5V169.2H1029.2ZM957.2 157.1H962V163.3H957.2ZM1024.8 157.1H1043V163.3H1024.8ZM1033.8 151.2H1043V157.4H1033.8ZM1128.2 151.2H1133V157.4H1128.2ZM1146.2 151.2H1151V157.4H1146.2ZM1164.2 151.2H1169V157.4H1164.2ZM1038.2 145.3H1047.5V151.5H1038.2ZM1128.2 145.3H1155.5V151.5H1128.2ZM1159.8 145.3H1173.5V151.5H1159.8ZM1011.2 139.4H1029.5V145.6H1011.2ZM1033.8 139.4H1047.5V145.6H1033.8ZM1123.8 139.4H1155.5V145.6H1123.8ZM1159.8 139.4H1164.5V145.6H1159.8ZM1006.8 133.5H1025V139.7H1006.8ZM1033.8 133.5H1052V139.7H1033.8ZM1119.2 133.5H1124V139.7H1119.2ZM1128.2 133.5H1160V139.7H1128.2ZM1002.2 127.6H1047.5V133.8H1002.2ZM1128.2 127.6H1142V133.8H1128.2ZM1146.2 127.6H1151V133.8H1146.2ZM988.8 121.8H993.5V127.9H988.8ZM997.8 121.8H1043V127.9H997.8ZM898.8 115.8H903.5V122H898.8ZM988.8 115.8H1043V122H988.8ZM894.2 109.9H899V116.1H894.2ZM903.2 109.9H908V116.1H903.2ZM970.8 109.9H1043V116.1H970.8ZM966.2 104H1047.5V110.2H966.2ZM898.8 98.1H903.5V104.3H898.8ZM916.8 98.1H921.5V104.3H916.8ZM957.2 98.1H980V104.3H957.2ZM984.2 98.1H1007V104.3H984.2ZM1011.2 98.1H1016V104.3H1011.2ZM1020.2 98.1H1052V104.3H1020.2ZM1060.8 98.1H1065.5V104.3H1060.8ZM835.8 92.2H845V98.4H835.8ZM853.8 92.2H872V98.4H853.8ZM876.2 92.2H881V98.4H876.2ZM885.2 92.2H894.5V98.4H885.2ZM898.8 92.2H903.5V98.4H898.8ZM912.2 92.2H930.5V98.4H912.2ZM957.2 92.2H975.5V98.4H957.2ZM1006.8 92.2H1016V98.4H1006.8ZM1020.2 92.2H1047.5V98.4H1020.2ZM1056.2 92.2H1061V98.4H1056.2ZM1065.2 92.2H1070V98.4H1065.2ZM835.8 86.3H845V92.5H835.8ZM858.2 86.3H930.5V92.5H858.2ZM943.8 86.3H975.5V92.5H943.8ZM1015.8 86.3H1034V92.5H1015.8ZM1038.2 86.3H1052V92.5H1038.2ZM1056.2 86.3H1061V92.5H1056.2ZM1065.2 86.3H1070V92.5H1065.2ZM831.2 80.4H849.5V86.6H831.2ZM858.2 80.4H935V86.6H858.2ZM939.2 80.4H966.5V86.6H939.2ZM1015.8 80.4H1029.5V86.6H1015.8ZM1033.8 80.4H1043V86.6H1033.8ZM1047.2 80.4H1061V86.6H1047.2ZM1065.2 80.4H1074.5V86.6H1065.2ZM844.8 74.5H849.5V80.7H844.8ZM853.8 74.5H858.5V80.7H853.8ZM862.8 74.5H885.5V80.7H862.8ZM889.8 74.5H926V80.7H889.8ZM930.2 74.5H957.5V80.7H930.2ZM1020.2 74.5H1034V80.7H1020.2ZM1038.2 74.5H1043V80.7H1038.2ZM1047.2 74.5H1061V80.7H1047.2ZM1069.8 74.5H1079V80.7H1069.8ZM889.8 68.6H926V74.8H889.8ZM930.2 68.6H953V74.8H930.2ZM957.2 68.6H962V74.8H957.2ZM1020.2 68.6H1065.5V74.8H1020.2ZM885.2 62.8H917V68.9H885.2ZM948.2 62.8H953V68.9H948.2ZM1020.2 62.8H1061V68.9H1020.2ZM885.2 56.8H899V63H885.2ZM1020.2 56.8H1065.5V63H1020.2ZM1146.2 56.8H1155.5V63H1146.2ZM1159.8 56.8H1173.5V63H1159.8ZM1024.8 50.9H1061V57.1H1024.8ZM1146.2 50.9H1173.5V57.1H1146.2ZM1020.2 45H1061V51.2H1020.2ZM1146.2 45H1151V51.2H1146.2Z" fill="#58b0a7"/>
<path d="M1155.2 239.8H1160V245.9H1155.2ZM1146.2 233.8H1160V240H1146.2ZM1164.2 233.8H1169V240H1164.2ZM1141.8 227.9H1146.5V234.1H1141.8ZM1150.8 227.9H1169V234.1H1150.8ZM1137.2 222H1146.5V228.2H1137.2ZM1150.8 222H1164.5V228.2H1150.8ZM1168.8 222H1173.5V228.2H1168.8ZM1137.2 216.1H1164.5V222.3H1137.2ZM1137.2 210.2H1160V216.4H1137.2ZM1137.2 204.3H1155.5V210.5H1137.2ZM1141.8 198.4H1146.5V204.6H1141.8ZM1042.8 180.8H1047.5V186.9H1042.8ZM1051.8 180.8H1056.5V186.9H1051.8ZM1155.2 145.3H1160V151.5H1155.2ZM1155.2 139.4H1160V145.6H1155.2ZM1164.2 139.4H1173.5V145.6H1164.2ZM1105.8 133.5H1110.5V139.7H1105.8ZM1159.8 133.5H1173.5V139.7H1159.8ZM1105.8 127.6H1110.5V133.8H1105.8ZM1155.2 127.6H1160V133.8H1155.2ZM1164.2 127.6H1173.5V133.8H1164.2ZM1155.2 104H1164.5V110.2H1155.2ZM1168.8 104H1173.5V110.2H1168.8ZM979.8 98.1H984.5V104.3H979.8ZM1006.8 98.1H1011.5V104.3H1006.8ZM1015.8 98.1H1020.5V104.3H1015.8ZM1150.8 98.1H1155.5V104.3H1150.8ZM1159.8 98.1H1164.5V104.3H1159.8ZM1168.8 98.1H1173.5V104.3H1168.8ZM975.2 92.2H1007V98.4H975.2ZM1015.8 92.2H1020.5V98.4H1015.8ZM1155.2 92.2H1173.5V98.4H1155.2ZM975.2 86.3H1016V92.5H975.2ZM1155.2 86.3H1173.5V92.5H1155.2ZM966.2 80.4H1016V86.6H966.2ZM1146.2 80.4H1151V86.6H1146.2ZM1155.2 80.4H1173.5V86.6H1155.2ZM925.8 74.5H930.5V80.7H925.8ZM957.2 74.5H1020.5V80.7H957.2ZM1150.8 74.5H1173.5V80.7H1150.8ZM925.8 68.6H930.5V74.8H925.8ZM952.8 68.6H957.5V74.8H952.8ZM961.8 68.6H1020.5V74.8H961.8ZM1141.8 68.6H1173.5V74.8H1141.8ZM916.8 62.8H948.5V68.9H916.8ZM952.8 62.8H1020.5V68.9H952.8ZM1065.2 62.8H1092.5V68.9H1065.2ZM1119.2 62.8H1124V68.9H1119.2ZM1132.8 62.8H1173.5V68.9H1132.8ZM916.8 56.8H1020.5V63H916.8ZM1065.2 56.8H1092.5V63H1065.2ZM1114.8 56.8H1119.5V63H1114.8ZM1123.8 56.8H1146.5V63H1123.8ZM1155.2 56.8H1160V63H1155.2ZM925.8 50.9H1025V57.1H925.8ZM1065.2 50.9H1088V57.1H1065.2ZM1092.2 50.9H1097V57.1H1092.2ZM1110.2 50.9H1146.5V57.1H1110.2ZM939.2 45H1020.5V51.2H939.2ZM1065.2 45H1092.5V51.2H1065.2ZM1114.8 45H1146.5V51.2H1114.8ZM1150.8 45H1173.5V51.2H1150.8Z" fill="#1a7e76"/>
<path d="M1024.8 163H1029.5V169.2H1024.8ZM1029.2 151.2H1034V157.4H1029.2ZM1029.2 145.3H1038.5V151.5H1029.2ZM1029.2 139.4H1034V145.6H1029.2ZM1024.8 133.5H1034V139.7H1024.8ZM1087.8 109.9H1097V116.1H1087.8ZM1056.2 104H1061V110.2H1056.2ZM1065.2 104H1070V110.2H1065.2ZM1078.8 104H1110.5V110.2H1078.8ZM1128.2 104H1133V110.2H1128.2ZM1051.8 98.1H1061V104.3H1051.8ZM1065.2 98.1H1083.5V104.3H1065.2ZM1087.8 98.1H1142V104.3H1087.8ZM1069.8 92.2H1155.5V98.4H1069.8ZM1069.8 86.3H1155.5V92.5H1069.8ZM1074.2 80.4H1146.5V86.6H1074.2ZM1150.8 80.4H1155.5V86.6H1150.8ZM1065.2 74.5H1070V80.7H1065.2ZM1078.8 74.5H1151V80.7H1078.8ZM1065.2 68.6H1142V74.8H1065.2ZM1092.2 62.8H1119.5V68.9H1092.2ZM1123.8 62.8H1133V68.9H1123.8ZM1092.2 56.8H1115V63H1092.2ZM1119.2 56.8H1124V63H1119.2ZM1087.8 50.9H1092.5V57.1H1087.8ZM1096.8 50.9H1101.5V57.1H1096.8ZM1105.8 50.9H1110.5V57.1H1105.8ZM1096.8 45H1101.5V51.2H1096.8ZM1110.2 45H1115V51.2H1110.2Z" fill="#005046"/>
<path d="M768.5 343a2.05 2.05 0 1 0 4.1 0a2.05 2.05 0 1 0 -4.1 0M768.5 331.2a2.05 2.05 0 1 0 4.1 0a2.05 2.05 0 1 0 -4.1 0M773 348.9a2.05 2.05 0 1 0 4.1 0a2.05 2.05 0 1 0 -4.1 0M773 337.1a2.05 2.05 0 1 0 4.1 0a2.05 2.05 0 1 0 -4.1 0M777.5 343a2.05 2.05 0 1 0 4.1 0a2.05 2.05 0 1 0 -4.1 0M777.5 331.2a2.05 2.05 0 1 0 4.1 0a2.05 2.05 0 1 0 -4.1 0M777.5 319.4a2.05 2.05 0 1 0 4.1 0a2.05 2.05 0 1 0 -4.1 0M782 325.3a2.05 2.05 0 1 0 4.1 0a2.05 2.05 0 1 0 -4.1 0M786.5 343a2.05 2.05 0 1 0 4.1 0a2.05 2.05 0 1 0 -4.1 0M786.5 331.2a2.05 2.05 0 1 0 4.1 0a2.05 2.05 0 1 0 -4.1 0M791 337.1a2.05 2.05 0 1 0 4.1 0a2.05 2.05 0 1 0 -4.1 0M791 325.3a2.05 2.05 0 1 0 4.1 0a2.05 2.05 0 1 0 -4.1 0M791 313.5a2.05 2.05 0 1 0 4.1 0a2.05 2.05 0 1 0 -4.1 0M795.5 343a2.05 2.05 0 1 0 4.1 0a2.05 2.05 0 1 0 -4.1 0M795.5 331.2a2.05 2.05 0 1 0 4.1 0a2.05 2.05 0 1 0 -4.1 0M795.5 319.4a2.05 2.05 0 1 0 4.1 0a2.05 2.05 0 1 0 -4.1 0M795.5 307.6a2.05 2.05 0 1 0 4.1 0a2.05 2.05 0 1 0 -4.1 0M800 348.9a2.05 2.05 0 1 0 4.1 0a2.05 2.05 0 1 0 -4.1 0M800 337.1a2.05 2.05 0 1 0 4.1 0a2.05 2.05 0 1 0 -4.1 0M800 325.3a2.05 2.05 0 1 0 4.1 0a2.05 2.05 0 1 0 -4.1 0M800 313.5a2.05 2.05 0 1 0 4.1 0a2.05 2.05 0 1 0 -4.1 0M800 301.7a2.05 2.05 0 1 0 4.1 0a2.05 2.05 0 1 0 -4.1 0M804.5 413.8a2.05 2.05 0 1 0 4.1 0a2.05 2.05 0 1 0 -4.1 0M804.5 402a2.05 2.05 0 1 0 4.1 0a2.05 2.05 0 1 0 -4.1 0M804.5 354.8a2.05 2.05 0 1 0 4.1 0a2.05 2.05 0 1 0 -4.1 0M804.5 331.2a2.05 2.05 0 1 0 4.1 0a2.05 2.05 0 1 0 -4.1 0M804.5 307.6a2.05 2.05 0 1 0 4.1 0a2.05 2.05 0 1 0 -4.1 0M809 419.7a2.05 2.05 0 1 0 4.1 0a2.05 2.05 0 1 0 -4.1 0M809 407.9a2.05 2.05 0 1 0 4.1 0a2.05 2.05 0 1 0 -4.1 0M809 396.1a2.05 2.05 0 1 0 4.1 0a2.05 2.05 0 1 0 -4.1 0M809 348.9a2.05 2.05 0 1 0 4.1 0a2.05 2.05 0 1 0 -4.1 0M809 325.3a2.05 2.05 0 1 0 4.1 0a2.05 2.05 0 1 0 -4.1 0M809 313.5a2.05 2.05 0 1 0 4.1 0a2.05 2.05 0 1 0 -4.1 0M813.5 413.8a2.05 2.05 0 1 0 4.1 0a2.05 2.05 0 1 0 -4.1 0M813.5 402a2.05 2.05 0 1 0 4.1 0a2.05 2.05 0 1 0 -4.1 0M813.5 390.2a2.05 2.05 0 1 0 4.1 0a2.05 2.05 0 1 0 -4.1 0M813.5 366.6a2.05 2.05 0 1 0 4.1 0a2.05 2.05 0 1 0 -4.1 0M813.5 343a2.05 2.05 0 1 0 4.1 0a2.05 2.05 0 1 0 -4.1 0M813.5 331.2a2.05 2.05 0 1 0 4.1 0a2.05 2.05 0 1 0 -4.1 0M813.5 319.4a2.05 2.05 0 1 0 4.1 0a2.05 2.05 0 1 0 -4.1 0M813.5 307.6a2.05 2.05 0 1 0 4.1 0a2.05 2.05 0 1 0 -4.1 0M818 419.7a2.05 2.05 0 1 0 4.1 0a2.05 2.05 0 1 0 -4.1 0M818 407.9a2.05 2.05 0 1 0 4.1 0a2.05 2.05 0 1 0 -4.1 0M818 396.1a2.05 2.05 0 1 0 4.1 0a2.05 2.05 0 1 0 -4.1 0M818 384.3a2.05 2.05 0 1 0 4.1 0a2.05 2.05 0 1 0 -4.1 0M818 372.5a2.05 2.05 0 1 0 4.1 0a2.05 2.05 0 1 0 -4.1 0M818 348.9a2.05 2.05 0 1 0 4.1 0a2.05 2.05 0 1 0 -4.1 0M818 337.1a2.05 2.05 0 1 0 4.1 0a2.05 2.05 0 1 0 -4.1 0M818 325.3a2.05 2.05 0 1 0 4.1 0a2.05 2.05 0 1 0 -4.1 0M818 313.5a2.05 2.05 0 1 0 4.1 0a2.05 2.05 0 1 0 -4.1 0M818 301.7a2.05 2.05 0 1 0 4.1 0a2.05 2.05 0 1 0 -4.1 0M822.5 437.4a2.05 2.05 0 1 0 4.1 0a2.05 2.05 0 1 0 -4.1 0M822.5 425.6a2.05 2.05 0 1 0 4.1 0a2.05 2.05 0 1 0 -4.1 0M822.5 413.8a2.05 2.05 0 1 0 4.1 0a2.05 2.05 0 1 0 -4.1 0M822.5 402a2.05 2.05 0 1 0 4.1 0a2.05 2.05 0 1 0 -4.1 0M822.5 390.2a2.05 2.05 0 1 0 4.1 0a2.05 2.05 0 1 0 -4.1 0M822.5 366.6a2.05 2.05 0 1 0 4.1 0a2.05 2.05 0 1 0 -4.1 0M822.5 354.8a2.05 2.05 0 1 0 4.1 0a2.05 2.05 0 1 0 -4.1 0M822.5 331.2a2.05 2.05 0 1 0 4.1 0a2.05 2.05 0 1 0 -4.1 0M822.5 319.4a2.05 2.05 0 1 0 4.1 0a2.05 2.05 0 1 0 -4.1 0M822.5 272.2a2.05 2.05 0 1 0 4.1 0a2.05 2.05 0 1 0 -4.1 0M827 431.5a2.05 2.05 0 1 0 4.1 0a2.05 2.05 0 1 0 -4.1 0M827 419.7a2.05 2.05 0 1 0 4.1 0a2.05 2.05 0 1 0 -4.1 0M827 407.9a2.05 2.05 0 1 0 4.1 0a2.05 2.05 0 1 0 -4.1 0M827 396.1a2.05 2.05 0 1 0 4.1 0a2.05 2.05 0 1 0 -4.1 0M827 348.9a2.05 2.05 0 1 0 4.1 0a2.05 2.05 0 1 0 -4.1 0M827 337.1a2.05 2.05 0 1 0 4.1 0a2.05 2.05 0 1 0 -4.1 0M827 325.3a2.05 2.05 0 1 0 4.1 0a2.05 2.05 0 1 0 -4.1 0M827 313.5a2.05 2.05 0 1 0 4.1 0a2.05 2.05 0 1 0 -4.1 0M827 301.7a2.05 2.05 0 1 0 4.1 0a2.05 2.05 0 1 0 -4.1 0M831.5 437.4a2.05 2.05 0 1 0 4.1 0a2.05 2.05 0 1 0 -4.1 0M831.5 425.6a2.05 2.05 0 1 0 4.1 0a2.05 2.05 0 1 0 -4.1 0M831.5 413.8a2.05 2.05 0 1 0 4.1 0a2.05 2.05 0 1 0 -4.1 0M831.5 402a2.05 2.05 0 1 0 4.1 0a2.05 2.05 0 1 0 -4.1 0M831.5 354.8a2.05 2.05 0 1 0 4.1 0a2.05 2.05 0 1 0 -4.1 0M831.5 343a2.05 2.05 0 1 0 4.1 0a2.05 2.05 0 1 0 -4.1 0M831.5 319.4a2.05 2.05 0 1 0 4.1 0a2.05 2.05 0 1 0 -4.1 0M831.5 307.6a2.05 2.05 0 1 0 4.1 0a2.05 2.05 0 1 0 -4.1 0M831.5 272.2a2.05 2.05 0 1 0 4.1 0a2.05 2.05 0 1 0 -4.1 0M836 443.3a2.05 2.05 0 1 0 4.1 0a2.05 2.05 0 1 0 -4.1 0M836 431.5a2.05 2.05 0 1 0 4.1 0a2.05 2.05 0 1 0 -4.1 0M836 419.7a2.05 2.05 0 1 0 4.1 0a2.05 2.05 0 1 0 -4.1 0M836 407.9a2.05 2.05 0 1 0 4.1 0a2.05 2.05 0 1 0 -4.1 0M836 348.9a2.05 2.05 0 1 0 4.1 0a2.05 2.05 0 1 0 -4.1 0M836 337.1a2.05 2.05 0 1 0 4.1 0a2.05 2.05 0 1 0 -4.1 0M836 325.3a2.05 2.05 0 1 0 4.1 0a2.05 2.05 0 1 0 -4.1 0M836 313.5a2.05 2.05 0 1 0 4.1 0a2.05 2.05 0 1 0 -4.1 0M836 301.7a2.05 2.05 0 1 0 4.1 0a2.05 2.05 0 1 0 -4.1 0M836 266.3a2.05 2.05 0 1 0 4.1 0a2.05 2.05 0 1 0 -4.1 0M840.5 449.2a2.05 2.05 0 1 0 4.1 0a2.05 2.05 0 1 0 -4.1 0M840.5 437.4a2.05 2.05 0 1 0 4.1 0a2.05 2.05 0 1 0 -4.1 0M840.5 425.6a2.05 2.05 0 1 0 4.1 0a2.05 2.05 0 1 0 -4.1 0M840.5 413.8a2.05 2.05 0 1 0 4.1 0a2.05 2.05 0 1 0 -4.1 0M840.5 402a2.05 2.05 0 1 0 4.1 0a2.05 2.05 0 1 0 -4.1 0M840.5 331.2a2.05 2.05 0 1 0 4.1 0a2.05 2.05 0 1 0 -4.1 0M840.5 319.4a2.05 2.05 0 1 0 4.1 0a2.05 2.05 0 1 0 -4.1 0M840.5 272.2a2.05 2.05 0 1 0 4.1 0a2.05 2.05 0 1 0 -4.1 0M840.5 260.4a2.05 2.05 0 1 0 4.1 0a2.05 2.05 0 1 0 -4.1 0M840.5 248.6a2.05 2.05 0 1 0 4.1 0a2.05 2.05 0 1 0 -4.1 0M845 443.3a2.05 2.05 0 1 0 4.1 0a2.05 2.05 0 1 0 -4.1 0M845 431.5a2.05 2.05 0 1 0 4.1 0a2.05 2.05 0 1 0 -4.1 0M845 419.7a2.05 2.05 0 1 0 4.1 0a2.05 2.05 0 1 0 -4.1 0M845 407.9a2.05 2.05 0 1 0 4.1 0a2.05 2.05 0 1 0 -4.1 0M845 360.7a2.05 2.05 0 1 0 4.1 0a2.05 2.05 0 1 0 -4.1 0M845 348.9a2.05 2.05 0 1 0 4.1 0a2.05 2.05 0 1 0 -4.1 0M845 337.1a2.05 2.05 0 1 0 4.1 0a2.05 2.05 0 1 0 -4.1 0M845 325.3a2.05 2.05 0 1 0 4.1 0a2.05 2.05 0 1 0 -4.1 0M845 313.5a2.05 2.05 0 1 0 4.1 0a2.05 2.05 0 1 0 -4.1 0M845 301.7a2.05 2.05 0 1 0 4.1 0a2.05 2.05 0 1 0 -4.1 0M849.5 484.6a2.05 2.05 0 1 0 4.1 0a2.05 2.05 0 1 0 -4.1 0M849.5 449.2a2.05 2.05 0 1 0 4.1 0a2.05 2.05 0 1 0 -4.1 0M849.5 437.4a2.05 2.05 0 1 0 4.1 0a2.05 2.05 0 1 0 -4.1 0M849.5 425.6a2.05 2.05 0 1 0 4.1 0a2.05 2.05 0 1 0 -4.1 0M849.5 413.8a2.05 2.05 0 1 0 4.1 0a2.05 2.05 0 1 0 -4.1 0M849.5 402a2.05 2.05 0 1 0 4.1 0a2.05 2.05 0 1 0 -4.1 0M849.5 354.8a2.05 2.05 0 1 0 4.1 0a2.05 2.05 0 1 0 -4.1 0M849.5 343a2.05 2.05 0 1 0 4.1 0a2.05 2.05 0 1 0 -4.1 0M849.5 331.2a2.05 2.05 0 1 0 4.1 0a2.05 2.05 0 1 0 -4.1 0M849.5 319.4a2.05 2.05 0 1 0 4.1 0a2.05 2.05 0 1 0 -4.1 0M849.5 307.6a2.05 2.05 0 1 0 4.1 0a2.05 2.05 0 1 0 -4.1 0M849.5 272.2a2.05 2.05 0 1 0 4.1 0a2.05 2.05 0 1 0 -4.1 0M854 478.7a2.05 2.05 0 1 0 4.1 0a2.05 2.05 0 1 0 -4.1 0M854 443.3a2.05 2.05 0 1 0 4.1 0a2.05 2.05 0 1 0 -4.1 0M854 431.5a2.05 2.05 0 1 0 4.1 0a2.05 2.05 0 1 0 -4.1 0M854 419.7a2.05 2.05 0 1 0 4.1 0a2.05 2.05 0 1 0 -4.1 0M854 407.9a2.05 2.05 0 1 0 4.1 0a2.05 2.05 0 1 0 -4.1 0M854 348.9a2.05 2.05 0 1 0 4.1 0a2.05 2.05 0 1 0 -4.1 0M854 325.3a2.05 2.05 0 1 0 4.1 0a2.05 2.05 0 1 0 -4.1 0M854 266.3a2.05 2.05 0 1 0 4.1 0a2.05 2.05 0 1 0 -4.1 0M854 254.5a2.05 2.05 0 1 0 4.1 0a2.05 2.05 0 1 0 -4.1 0M858.5 484.6a2.05 2.05 0 1 0 4.1 0a2.05 2.05 0 1 0 -4.1 0M858.5 449.2a2.05 2.05 0 1 0 4.1 0a2.05 2.05 0 1 0 -4.1 0M858.5 437.4a2.05 2.05 0 1 0 4.1 0a2.05 2.05 0 1 0 -4.1 0M858.5 425.6a2.05 2.05 0 1 0 4.1 0a2.05 2.05 0 1 0 -4.1 0M858.5 413.8a2.05 2.05 0 1 0 4.1 0a2.05 2.05 0 1 0 -4.1 0M858.5 402a2.05 2.05 0 1 0 4.1 0a2.05 2.05 0 1 0 -4.1 0M858.5 354.8a2.05 2.05 0 1 0 4.1 0a2.05 2.05 0 1 0 -4.1 0M858.5 343a2.05 2.05 0 1 0 4.1 0a2.05 2.05 0 1 0 -4.1 0M858.5 331.2a2.05 2.05 0 1 0 4.1 0a2.05 2.05 0 1 0 -4.1 0M858.5 319.4a2.05 2.05 0 1 0 4.1 0a2.05 2.05 0 1 0 -4.1 0M858.5 307.6a2.05 2.05 0 1 0 4.1 0a2.05 2.05 0 1 0 -4.1 0M858.5 260.4a2.05 2.05 0 1 0 4.1 0a2.05 2.05 0 1 0 -4.1 0M863 455.1a2.05 2.05 0 1 0 4.1 0a2.05 2.05 0 1 0 -4.1 0M863 443.3a2.05 2.05 0 1 0 4.1 0a2.05 2.05 0 1 0 -4.1 0M863 431.5a2.05 2.05 0 1 0 4.1 0a2.05 2.05 0 1 0 -4.1 0M863 419.7a2.05 2.05 0 1 0 4.1 0a2.05 2.05 0 1 0 -4.1 0M863 407.9a2.05 2.05 0 1 0 4.1 0a2.05 2.05 0 1 0 -4.1 0M863 348.9a2.05 2.05 0 1 0 4.1 0a2.05 2.05 0 1 0 -4.1 0M863 337.1a2.05 2.05 0 1 0 4.1 0a2.05 2.05 0 1 0 -4.1 0M863 325.3a2.05 2.05 0 1 0 4.1 0a2.05 2.05 0 1 0 -4.1 0M863 313.5a2.05 2.05 0 1 0 4.1 0a2.05 2.05 0 1 0 -4.1 0M863 301.7a2.05 2.05 0 1 0 4.1 0a2.05 2.05 0 1 0 -4.1 0M863 254.5a2.05 2.05 0 1 0 4.1 0a2.05 2.05 0 1 0 -4.1 0M863 242.7a2.05 2.05 0 1 0 4.1 0a2.05 2.05 0 1 0 -4.1 0M867.5 461a2.05 2.05 0 1 0 4.1 0a2.05 2.05 0 1 0 -4.1 0M867.5 449.2a2.05 2.05 0 1 0 4.1 0a2.05 2.05 0 1 0 -4.1 0M867.5 437.4a2.05 2.05 0 1 0 4.1 0a2.05 2.05 0 1 0 -4.1 0M867.5 425.6a2.05 2.05 0 1 0 4.1 0a2.05 2.05 0 1 0 -4.1 0M867.5 413.8a2.05 2.05 0 1 0 4.1 0a2.05 2.05 0 1 0 -4.1 0M867.5 402a2.05 2.05 0 1 0 4.1 0a2.05 2.05 0 1 0 -4.1 0M867.5 354.8a2.05 2.05 0 1 0 4.1 0a2.05 2.05 0 1 0 -4.1 0M867.5 343a2.05 2.05 0 1 0 4.1 0a2.05 2.05 0 1 0 -4.1 0M867.5 331.2a2.05 2.05 0 1 0 4.1 0a2.05 2.05 0 1 0 -4.1 0M867.5 307.6a2.05 2.05 0 1 0 4.1 0a2.05 2.05 0 1 0 -4.1 0M867.5 295.8a2.05 2.05 0 1 0 4.1 0a2.05 2.05 0 1 0 -4.1 0M867.5 260.4a2.05 2.05 0 1 0 4.1 0a2.05 2.05 0 1 0 -4.1 0M867.5 248.6a2.05 2.05 0 1 0 4.1 0a2.05 2.05 0 1 0 -4.1 0M872 455.1a2.05 2.05 0 1 0 4.1 0a2.05 2.05 0 1 0 -4.1 0M872 443.3a2.05 2.05 0 1 0 4.1 0a2.05 2.05 0 1 0 -4.1 0M872 431.5a2.05 2.05 0 1 0 4.1 0a2.05 2.05 0 1 0 -4.1 0M872 419.7a2.05 2.05 0 1 0 4.1 0a2.05 2.05 0 1 0 -4.1 0M872 407.9a2.05 2.05 0 1 0 4.1 0a2.05 2.05 0 1 0 -4.1 0M872 348.9a2.05 2.05 0 1 0 4.1 0a2.05 2.05 0 1 0 -4.1 0M872 337.1a2.05 2.05 0 1 0 4.1 0a2.05 2.05 0 1 0 -4.1 0M872 325.3a2.05 2.05 0 1 0 4.1 0a2.05 2.05 0 1 0 -4.1 0M872 313.5a2.05 2.05 0 1 0 4.1 0a2.05 2.05 0 1 0 -4.1 0M872 301.7a2.05 2.05 0 1 0 4.1 0a2.05 2.05 0 1 0 -4.1 0M872 289.9a2.05 2.05 0 1 0 4.1 0a2.05 2.05 0 1 0 -4.1 0M872 242.7a2.05 2.05 0 1 0 4.1 0a2.05 2.05 0 1 0 -4.1 0M876.5 437.4a2.05 2.05 0 1 0 4.1 0a2.05 2.05 0 1 0 -4.1 0M876.5 425.6a2.05 2.05 0 1 0 4.1 0a2.05 2.05 0 1 0 -4.1 0M876.5 413.8a2.05 2.05 0 1 0 4.1 0a2.05 2.05 0 1 0 -4.1 0M876.5 402a2.05 2.05 0 1 0 4.1 0a2.05 2.05 0 1 0 -4.1 0M876.5 354.8a2.05 2.05 0 1 0 4.1 0a2.05 2.05 0 1 0 -4.1 0M876.5 343a2.05 2.05 0 1 0 4.1 0a2.05 2.05 0 1 0 -4.1 0M876.5 331.2a2.05 2.05 0 1 0 4.1 0a2.05 2.05 0 1 0 -4.1 0M876.5 307.6a2.05 2.05 0 1 0 4.1 0a2.05 2.05 0 1 0 -4.1 0M876.5 295.8a2.05 2.05 0 1 0 4.1 0a2.05 2.05 0 1 0 -4.1 0M876.5 284a2.05 2.05 0 1 0 4.1 0a2.05 2.05 0 1 0 -4.1 0M876.5 272.2a2.05 2.05 0 1 0 4.1 0a2.05 2.05 0 1 0 -4.1 0M876.5 260.4a2.05 2.05 0 1 0 4.1 0a2.05 2.05 0 1 0 -4.1 0M876.5 248.6a2.05 2.05 0 1 0 4.1 0a2.05 2.05 0 1 0 -4.1 0M881 443.3a2.05 2.05 0 1 0 4.1 0a2.05 2.05 0 1 0 -4.1 0M881 431.5a2.05 2.05 0 1 0 4.1 0a2.05 2.05 0 1 0 -4.1 0M881 419.7a2.05 2.05 0 1 0 4.1 0a2.05 2.05 0 1 0 -4.1 0M881 407.9a2.05 2.05 0 1 0 4.1 0a2.05 2.05 0 1 0 -4.1 0M881 348.9a2.05 2.05 0 1 0 4.1 0a2.05 2.05 0 1 0 -4.1 0M881 337.1a2.05 2.05 0 1 0 4.1 0a2.05 2.05 0 1 0 -4.1 0M881 325.3a2.05 2.05 0 1 0 4.1 0a2.05 2.05 0 1 0 -4.1 0M881 313.5a2.05 2.05 0 1 0 4.1 0a2.05 2.05 0 1 0 -4.1 0M881 301.7a2.05 2.05 0 1 0 4.1 0a2.05 2.05 0 1 0 -4.1 0M881 289.9a2.05 2.05 0 1 0 4.1 0a2.05 2.05 0 1 0 -4.1 0M881 278.1a2.05 2.05 0 1 0 4.1 0a2.05 2.05 0 1 0 -4.1 0M881 266.3a2.05 2.05 0 1 0 4.1 0a2.05 2.05 0 1 0 -4.1 0M881 254.5a2.05 2.05 0 1 0 4.1 0a2.05 2.05 0 1 0 -4.1 0M881 242.7a2.05 2.05 0 1 0 4.1 0a2.05 2.05 0 1 0 -4.1 0M885.5 437.4a2.05 2.05 0 1 0 4.1 0a2.05 2.05 0 1 0 -4.1 0M885.5 425.6a2.05 2.05 0 1 0 4.1 0a2.05 2.05 0 1 0 -4.1 0M885.5 413.8a2.05 2.05 0 1 0 4.1 0a2.05 2.05 0 1 0 -4.1 0M885.5 402a2.05 2.05 0 1 0 4.1 0a2.05 2.05 0 1 0 -4.1 0M885.5 343a2.05 2.05 0 1 0 4.1 0a2.05 2.05 0 1 0 -4.1 0M885.5 331.2a2.05 2.05 0 1 0 4.1 0a2.05 2.05 0 1 0 -4.1 0M885.5 319.4a2.05 2.05 0 1 0 4.1 0a2.05 2.05 0 1 0 -4.1 0M885.5 307.6a2.05 2.05 0 1 0 4.1 0a2.05 2.05 0 1 0 -4.1 0M885.5 295.8a2.05 2.05 0 1 0 4.1 0a2.05 2.05 0 1 0 -4.1 0M885.5 284a2.05 2.05 0 1 0 4.1 0a2.05 2.05 0 1 0 -4.1 0M885.5 272.2a2.05 2.05 0 1 0 4.1 0a2.05 2.05 0 1 0 -4.1 0M885.5 260.4a2.05 2.05 0 1 0 4.1 0a2.05 2.05 0 1 0 -4.1 0M885.5 248.6a2.05 2.05 0 1 0 4.1 0a2.05 2.05 0 1 0 -4.1 0M890 443.3a2.05 2.05 0 1 0 4.1 0a2.05 2.05 0 1 0 -4.1 0M890 431.5a2.05 2.05 0 1 0 4.1 0a2.05 2.05 0 1 0 -4.1 0M890 419.7a2.05 2.05 0 1 0 4.1 0a2.05 2.05 0 1 0 -4.1 0M890 407.9a2.05 2.05 0 1 0 4.1 0a2.05 2.05 0 1 0 -4.1 0M890 337.1a2.05 2.05 0 1 0 4.1 0a2.05 2.05 0 1 0 -4.1 0M890 325.3a2.05 2.05 0 1 0 4.1 0a2.05 2.05 0 1 0 -4.1 0M890 313.5a2.05 2.05 0 1 0 4.1 0a2.05 2.05 0 1 0 -4.1 0M890 301.7a2.05 2.05 0 1 0 4.1 0a2.05 2.05 0 1 0 -4.1 0M890 289.9a2.05 2.05 0 1 0 4.1 0a2.05 2.05 0 1 0 -4.1 0M890 278.1a2.05 2.05 0 1 0 4.1 0a2.05 2.05 0 1 0 -4.1 0M890 266.3a2.05 2.05 0 1 0 4.1 0a2.05 2.05 0 1 0 -4.1 0M890 254.5a2.05 2.05 0 1 0 4.1 0a2.05 2.05 0 1 0 -4.1 0M890 242.7a2.05 2.05 0 1 0 4.1 0a2.05 2.05 0 1 0 -4.1 0M894.5 437.4a2.05 2.05 0 1 0 4.1 0a2.05 2.05 0 1 0 -4.1 0M894.5 425.6a2.05 2.05 0 1 0 4.1 0a2.05 2.05 0 1 0 -4.1 0M894.5 413.8a2.05 2.05 0 1 0 4.1 0a2.05 2.05 0 1 0 -4.1 0M894.5 402a2.05 2.05 0 1 0 4.1 0a2.05 2.05 0 1 0 -4.1 0M894.5 343a2.05 2.05 0 1 0 4.1 0a2.05 2.05 0 1 0 -4.1 0M894.5 331.2a2.05 2.05 0 1 0 4.1 0a2.05 2.05 0 1 0 -4.1 0M894.5 319.4a2.05 2.05 0 1 0 4.1 0a2.05 2.05 0 1 0 -4.1 0M894.5 307.6a2.05 2.05 0 1 0 4.1 0a2.05 2.05 0 1 0 -4.1 0M894.5 295.8a2.05 2.05 0 1 0 4.1 0a2.05 2.05 0 1 0 -4.1 0M894.5 284a2.05 2.05 0 1 0 4.1 0a2.05 2.05 0 1 0 -4.1 0M894.5 272.2a2.05 2.05 0 1 0 4.1 0a2.05 2.05 0 1 0 -4.1 0M894.5 260.4a2.05 2.05 0 1 0 4.1 0a2.05 2.05 0 1 0 -4.1 0M894.5 248.6a2.05 2.05 0 1 0 4.1 0a2.05 2.05 0 1 0 -4.1 0M894.5 236.8a2.05 2.05 0 1 0 4.1 0a2.05 2.05 0 1 0 -4.1 0M899 443.3a2.05 2.05 0 1 0 4.1 0a2.05 2.05 0 1 0 -4.1 0M899 431.5a2.05 2.05 0 1 0 4.1 0a2.05 2.05 0 1 0 -4.1 0M899 419.7a2.05 2.05 0 1 0 4.1 0a2.05 2.05 0 1 0 -4.1 0M899 407.9a2.05 2.05 0 1 0 4.1 0a2.05 2.05 0 1 0 -4.1 0M899 396.1a2.05 2.05 0 1 0 4.1 0a2.05 2.05 0 1 0 -4.1 0M899 337.1a2.05 2.05 0 1 0 4.1 0a2.05 2.05 0 1 0 -4.1 0M899 325.3a2.05 2.05 0 1 0 4.1 0a2.05 2.05 0 1 0 -4.1 0M899 313.5a2.05 2.05 0 1 0 4.1 0a2.05 2.05 0 1 0 -4.1 0M899 301.7a2.05 2.05 0 1 0 4.1 0a2.05 2.05 0 1 0 -4.1 0M899 289.9a2.05 2.05 0 1 0 4.1 0a2.05 2.05 0 1 0 -4.1 0M899 278.1a2.05 2.05 0 1 0 4.1 0a2.05 2.05 0 1 0 -4.1 0M899 266.3a2.05 2.05 0 1 0 4.1 0a2.05 2.05 0 1 0 -4.1 0M899 254.5a2.05 2.05 0 1 0 4.1 0a2.05 2.05 0 1 0 -4.1 0M899 242.7a2.05 2.05 0 1 0 4.1 0a2.05 2.05 0 1 0 -4.1 0M903.5 437.4a2.05 2.05 0 1 0 4.1 0a2.05 2.05 0 1 0 -4.1 0M903.5 425.6a2.05 2.05 0 1 0 4.1 0a2.05 2.05 0 1 0 -4.1 0M903.5 413.8a2.05 2.05 0 1 0 4.1 0a2.05 2.05 0 1 0 -4.1 0M903.5 402a2.05 2.05 0 1 0 4.1 0a2.05 2.05 0 1 0 -4.1 0M903.5 390.2a2.05 2.05 0 1 0 4.1 0a2.05 2.05 0 1 0 -4.1 0M903.5 331.2a2.05 2.05 0 1 0 4.1 0a2.05 2.05 0 1 0 -4.1 0M903.5 319.4a2.05 2.05 0 1 0 4.1 0a2.05 2.05 0 1 0 -4.1 0M903.5 307.6a2.05 2.05 0 1 0 4.1 0a2.05 2.05 0 1 0 -4.1 0M903.5 295.8a2.05 2.05 0 1 0 4.1 0a2.05 2.05 0 1 0 -4.1 0M903.5 284a2.05 2.05 0 1 0 4.1 0a2.05 2.05 0 1 0 -4.1 0M903.5 272.2a2.05 2.05 0 1 0 4.1 0a2.05 2.05 0 1 0 -4.1 0M903.5 260.4a2.05 2.05 0 1 0 4.1 0a2.05 2.05 0 1 0 -4.1 0M903.5 248.6a2.05 2.05 0 1 0 4.1 0a2.05 2.05 0 1 0 -4.1 0M903.5 236.8a2.05 2.05 0 1 0 4.1 0a2.05 2.05 0 1 0 -4.1 0M908 443.3a2.05 2.05 0 1 0 4.1 0a2.05 2.05 0 1 0 -4.1 0M908 431.5a2.05 2.05 0 1 0 4.1 0a2.05 2.05 0 1 0 -4.1 0M908 419.7a2.05 2.05 0 1 0 4.1 0a2.05 2.05 0 1 0 -4.1 0M908 407.9a2.05 2.05 0 1 0 4.1 0a2.05 2.05 0 1 0 -4.1 0M908 396.1a2.05 2.05 0 1 0 4.1 0a2.05 2.05 0 1 0 -4.1 0M908 325.3a2.05 2.05 0 1 0 4.1 0a2.05 2.05 0 1 0 -4.1 0M908 313.5a2.05 2.05 0 1 0 4.1 0a2.05 2.05 0 1 0 -4.1 0M908 301.7a2.05 2.05 0 1 0 4.1 0a2.05 2.05 0 1 0 -4.1 0M908 289.9a2.05 2.05 0 1 0 4.1 0a2.05 2.05 0 1 0 -4.1 0M908 278.1a2.05 2.05 0 1 0 4.1 0a2.05 2.05 0 1 0 -4.1 0M908 266.3a2.05 2.05 0 1 0 4.1 0a2.05 2.05 0 1 0 -4.1 0M908 254.5a2.05 2.05 0 1 0 4.1 0a2.05 2.05 0 1 0 -4.1 0M908 242.7a2.05 2.05 0 1 0 4.1 0a2.05 2.05 0 1 0 -4.1 0M908 230.9a2.05 2.05 0 1 0 4.1 0a2.05 2.05 0 1 0 -4.1 0M912.5 437.4a2.05 2.05 0 1 0 4.1 0a2.05 2.05 0 1 0 -4.1 0M912.5 425.6a2.05 2.05 0 1 0 4.1 0a2.05 2.05 0 1 0 -4.1 0M912.5 413.8a2.05 2.05 0 1 0 4.1 0a2.05 2.05 0 1 0 -4.1 0M912.5 402a2.05 2.05 0 1 0 4.1 0a2.05 2.05 0 1 0 -4.1 0M912.5 390.2a2.05 2.05 0 1 0 4.1 0a2.05 2.05 0 1 0 -4.1 0M912.5 319.4a2.05 2.05 0 1 0 4.1 0a2.05 2.05 0 1 0 -4.1 0M912.5 307.6a2.05 2.05 0 1 0 4.1 0a2.05 2.05 0 1 0 -4.1 0M912.5 284a2.05 2.05 0 1 0 4.1 0a2.05 2.05 0 1 0 -4.1 0M912.5 272.2a2.05 2.05 0 1 0 4.1 0a2.05 2.05 0 1 0 -4.1 0M912.5 260.4a2.05 2.05 0 1 0 4.1 0a2.05 2.05 0 1 0 -4.1 0M912.5 248.6a2.05 2.05 0 1 0 4.1 0a2.05 2.05 0 1 0 -4.1 0M912.5 236.8a2.05 2.05 0 1 0 4.1 0a2.05 2.05 0 1 0 -4.1 0M917 455.1a2.05 2.05 0 1 0 4.1 0a2.05 2.05 0 1 0 -4.1 0M917 443.3a2.05 2.05 0 1 0 4.1 0a2.05 2.05 0 1 0 -4.1 0M917 431.5a2.05 2.05 0 1 0 4.1 0a2.05 2.05 0 1 0 -4.1 0M917 419.7a2.05 2.05 0 1 0 4.1 0a2.05 2.05 0 1 0 -4.1 0M917 407.9a2.05 2.05 0 1 0 4.1 0a2.05 2.05 0 1 0 -4.1 0M917 396.1a2.05 2.05 0 1 0 4.1 0a2.05 2.05 0 1 0 -4.1 0M917 384.3a2.05 2.05 0 1 0 4.1 0a2.05 2.05 0 1 0 -4.1 0M917 278.1a2.05 2.05 0 1 0 4.1 0a2.05 2.05 0 1 0 -4.1 0M917 266.3a2.05 2.05 0 1 0 4.1 0a2.05 2.05 0 1 0 -4.1 0M917 254.5a2.05 2.05 0 1 0 4.1 0a2.05 2.05 0 1 0 -4.1 0M917 242.7a2.05 2.05 0 1 0 4.1 0a2.05 2.05 0 1 0 -4.1 0M917 230.9a2.05 2.05 0 1 0 4.1 0a2.05 2.05 0 1 0 -4.1 0M921.5 461a2.05 2.05 0 1 0 4.1 0a2.05 2.05 0 1 0 -4.1 0M921.5 449.2a2.05 2.05 0 1 0 4.1 0a2.05 2.05 0 1 0 -4.1 0M921.5 437.4a2.05 2.05 0 1 0 4.1 0a2.05 2.05 0 1 0 -4.1 0M921.5 425.6a2.05 2.05 0 1 0 4.1 0a2.05 2.05 0 1 0 -4.1 0M921.5 413.8a2.05 2.05 0 1 0 4.1 0a2.05 2.05 0 1 0 -4.1 0M921.5 402a2.05 2.05 0 1 0 4.1 0a2.05 2.05 0 1 0 -4.1 0M921.5 390.2a2.05 2.05 0 1 0 4.1 0a2.05 2.05 0 1 0 -4.1 0M921.5 378.4a2.05 2.05 0 1 0 4.1 0a2.05 2.05 0 1 0 -4.1 0M921.5 272.2a2.05 2.05 0 1 0 4.1 0a2.05 2.05 0 1 0 -4.1 0M921.5 260.4a2.05 2.05 0 1 0 4.1 0a2.05 2.05 0 1 0 -4.1 0M921.5 248.6a2.05 2.05 0 1 0 4.1 0a2.05 2.05 0 1 0 -4.1 0M921.5 236.8a2.05 2.05 0 1 0 4.1 0a2.05 2.05 0 1 0 -4.1 0M926 466.9a2.05 2.05 0 1 0 4.1 0a2.05 2.05 0 1 0 -4.1 0M926 455.1a2.05 2.05 0 1 0 4.1 0a2.05 2.05 0 1 0 -4.1 0M926 443.3a2.05 2.05 0 1 0 4.1 0a2.05 2.05 0 1 0 -4.1 0M926 431.5a2.05 2.05 0 1 0 4.1 0a2.05 2.05 0 1 0 -4.1 0M926 419.7a2.05 2.05 0 1 0 4.1 0a2.05 2.05 0 1 0 -4.1 0M926 407.9a2.05 2.05 0 1 0 4.1 0a2.05 2.05 0 1 0 -4.1 0M926 396.1a2.05 2.05 0 1 0 4.1 0a2.05 2.05 0 1 0 -4.1 0M926 384.3a2.05 2.05 0 1 0 4.1 0a2.05 2.05 0 1 0 -4.1 0M926 266.3a2.05 2.05 0 1 0 4.1 0a2.05 2.05 0 1 0 -4.1 0M926 254.5a2.05 2.05 0 1 0 4.1 0a2.05 2.05 0 1 0 -4.1 0M926 242.7a2.05 2.05 0 1 0 4.1 0a2.05 2.05 0 1 0 -4.1 0M926 230.9a2.05 2.05 0 1 0 4.1 0a2.05 2.05 0 1 0 -4.1 0M930.5 461a2.05 2.05 0 1 0 4.1 0a2.05 2.05 0 1 0 -4.1 0M930.5 449.2a2.05 2.05 0 1 0 4.1 0a2.05 2.05 0 1 0 -4.1 0M930.5 437.4a2.05 2.05 0 1 0 4.1 0a2.05 2.05 0 1 0 -4.1 0M930.5 425.6a2.05 2.05 0 1 0 4.1 0a2.05 2.05 0 1 0 -4.1 0M930.5 413.8a2.05 2.05 0 1 0 4.1 0a2.05 2.05 0 1 0 -4.1 0M930.5 402a2.05 2.05 0 1 0 4.1 0a2.05 2.05 0 1 0 -4.1 0M930.5 390.2a2.05 2.05 0 1 0 4.1 0a2.05 2.05 0 1 0 -4.1 0M930.5 378.4a2.05 2.05 0 1 0 4.1 0a2.05 2.05 0 1 0 -4.1 0M930.5 260.4a2.05 2.05 0 1 0 4.1 0a2.05 2.05 0 1 0 -4.1 0M930.5 248.6a2.05 2.05 0 1 0 4.1 0a2.05 2.05 0 1 0 -4.1 0M930.5 236.8a2.05 2.05 0 1 0 4.1 0a2.05 2.05 0 1 0 -4.1 0M935 455.1a2.05 2.05 0 1 0 4.1 0a2.05 2.05 0 1 0 -4.1 0M935 443.3a2.05 2.05 0 1 0 4.1 0a2.05 2.05 0 1 0 -4.1 0M935 431.5a2.05 2.05 0 1 0 4.1 0a2.05 2.05 0 1 0 -4.1 0M935 419.7a2.05 2.05 0 1 0 4.1 0a2.05 2.05 0 1 0 -4.1 0M935 407.9a2.05 2.05 0 1 0 4.1 0a2.05 2.05 0 1 0 -4.1 0M935 396.1a2.05 2.05 0 1 0 4.1 0a2.05 2.05 0 1 0 -4.1 0M935 384.3a2.05 2.05 0 1 0 4.1 0a2.05 2.05 0 1 0 -4.1 0M935 372.5a2.05 2.05 0 1 0 4.1 0a2.05 2.05 0 1 0 -4.1 0M935 254.5a2.05 2.05 0 1 0 4.1 0a2.05 2.05 0 1 0 -4.1 0M935 242.7a2.05 2.05 0 1 0 4.1 0a2.05 2.05 0 1 0 -4.1 0M935 230.9a2.05 2.05 0 1 0 4.1 0a2.05 2.05 0 1 0 -4.1 0M939.5 461a2.05 2.05 0 1 0 4.1 0a2.05 2.05 0 1 0 -4.1 0M939.5 449.2a2.05 2.05 0 1 0 4.1 0a2.05 2.05 0 1 0 -4.1 0M939.5 437.4a2.05 2.05 0 1 0 4.1 0a2.05 2.05 0 1 0 -4.1 0M939.5 425.6a2.05 2.05 0 1 0 4.1 0a2.05 2.05 0 1 0 -4.1 0M939.5 413.8a2.05 2.05 0 1 0 4.1 0a2.05 2.05 0 1 0 -4.1 0M939.5 402a2.05 2.05 0 1 0 4.1 0a2.05 2.05 0 1 0 -4.1 0M939.5 390.2a2.05 2.05 0 1 0 4.1 0a2.05 2.05 0 1 0 -4.1 0M939.5 378.4a2.05 2.05 0 1 0 4.1 0a2.05 2.05 0 1 0 -4.1 0M939.5 248.6a2.05 2.05 0 1 0 4.1 0a2.05 2.05 0 1 0 -4.1 0M939.5 236.8a2.05 2.05 0 1 0 4.1 0a2.05 2.05 0 1 0 -4.1 0M944 455.1a2.05 2.05 0 1 0 4.1 0a2.05 2.05 0 1 0 -4.1 0M944 443.3a2.05 2.05 0 1 0 4.1 0a2.05 2.05 0 1 0 -4.1 0M944 431.5a2.05 2.05 0 1 0 4.1 0a2.05 2.05 0 1 0 -4.1 0M944 419.7a2.05 2.05 0 1 0 4.1 0a2.05 2.05 0 1 0 -4.1 0M944 407.9a2.05 2.05 0 1 0 4.1 0a2.05 2.05 0 1 0 -4.1 0M944 396.1a2.05 2.05 0 1 0 4.1 0a2.05 2.05 0 1 0 -4.1 0M944 384.3a2.05 2.05 0 1 0 4.1 0a2.05 2.05 0 1 0 -4.1 0M944 372.5a2.05 2.05 0 1 0 4.1 0a2.05 2.05 0 1 0 -4.1 0M944 242.7a2.05 2.05 0 1 0 4.1 0a2.05 2.05 0 1 0 -4.1 0M944 230.9a2.05 2.05 0 1 0 4.1 0a2.05 2.05 0 1 0 -4.1 0M948.5 461a2.05 2.05 0 1 0 4.1 0a2.05 2.05 0 1 0 -4.1 0M948.5 449.2a2.05 2.05 0 1 0 4.1 0a2.05 2.05 0 1 0 -4.1 0M948.5 437.4a2.05 2.05 0 1 0 4.1 0a2.05 2.05 0 1 0 -4.1 0M948.5 425.6a2.05 2.05 0 1 0 4.1 0a2.05 2.05 0 1 0 -4.1 0M948.5 402a2.05 2.05 0 1 0 4.1 0a2.05 2.05 0 1 0 -4.1 0M948.5 390.2a2.05 2.05 0 1 0 4.1 0a2.05 2.05 0 1 0 -4.1 0M948.5 378.4a2.05 2.05 0 1 0 4.1 0a2.05 2.05 0 1 0 -4.1 0M948.5 248.6a2.05 2.05 0 1 0 4.1 0a2.05 2.05 0 1 0 -4.1 0M948.5 236.8a2.05 2.05 0 1 0 4.1 0a2.05 2.05 0 1 0 -4.1 0M948.5 225a2.05 2.05 0 1 0 4.1 0a2.05 2.05 0 1 0 -4.1 0M953 455.1a2.05 2.05 0 1 0 4.1 0a2.05 2.05 0 1 0 -4.1 0M953 443.3a2.05 2.05 0 1 0 4.1 0a2.05 2.05 0 1 0 -4.1 0M953 431.5a2.05 2.05 0 1 0 4.1 0a2.05 2.05 0 1 0 -4.1 0M953 396.1a2.05 2.05 0 1 0 4.1 0a2.05 2.05 0 1 0 -4.1 0M953 384.3a2.05 2.05 0 1 0 4.1 0a2.05 2.05 0 1 0 -4.1 0M953 372.5a2.05 2.05 0 1 0 4.1 0a2.05 2.05 0 1 0 -4.1 0M953 242.7a2.05 2.05 0 1 0 4.1 0a2.05 2.05 0 1 0 -4.1 0M953 230.9a2.05 2.05 0 1 0 4.1 0a2.05 2.05 0 1 0 -4.1 0M953 219.1a2.05 2.05 0 1 0 4.1 0a2.05 2.05 0 1 0 -4.1 0M957.5 449.2a2.05 2.05 0 1 0 4.1 0a2.05 2.05 0 1 0 -4.1 0M957.5 437.4a2.05 2.05 0 1 0 4.1 0a2.05 2.05 0 1 0 -4.1 0M957.5 425.6a2.05 2.05 0 1 0 4.1 0a2.05 2.05 0 1 0 -4.1 0M957.5 390.2a2.05 2.05 0 1 0 4.1 0a2.05 2.05 0 1 0 -4.1 0M957.5 378.4a2.05 2.05 0 1 0 4.1 0a2.05 2.05 0 1 0 -4.1 0M957.5 236.8a2.05 2.05 0 1 0 4.1 0a2.05 2.05 0 1 0 -4.1 0M957.5 225a2.05 2.05 0 1 0 4.1 0a2.05 2.05 0 1 0 -4.1 0M962 443.3a2.05 2.05 0 1 0 4.1 0a2.05 2.05 0 1 0 -4.1 0M962 431.5a2.05 2.05 0 1 0 4.1 0a2.05 2.05 0 1 0 -4.1 0M962 396.1a2.05 2.05 0 1 0 4.1 0a2.05 2.05 0 1 0 -4.1 0M962 384.3a2.05 2.05 0 1 0 4.1 0a2.05 2.05 0 1 0 -4.1 0M962 372.5a2.05 2.05 0 1 0 4.1 0a2.05 2.05 0 1 0 -4.1 0M962 230.9a2.05 2.05 0 1 0 4.1 0a2.05 2.05 0 1 0 -4.1 0M962 219.1a2.05 2.05 0 1 0 4.1 0a2.05 2.05 0 1 0 -4.1 0M966.5 437.4a2.05 2.05 0 1 0 4.1 0a2.05 2.05 0 1 0 -4.1 0M966.5 425.6a2.05 2.05 0 1 0 4.1 0a2.05 2.05 0 1 0 -4.1 0M966.5 390.2a2.05 2.05 0 1 0 4.1 0a2.05 2.05 0 1 0 -4.1 0M966.5 378.4a2.05 2.05 0 1 0 4.1 0a2.05 2.05 0 1 0 -4.1 0M966.5 236.8a2.05 2.05 0 1 0 4.1 0a2.05 2.05 0 1 0 -4.1 0M966.5 225a2.05 2.05 0 1 0 4.1 0a2.05 2.05 0 1 0 -4.1 0M966.5 213.2a2.05 2.05 0 1 0 4.1 0a2.05 2.05 0 1 0 -4.1 0M971 431.5a2.05 2.05 0 1 0 4.1 0a2.05 2.05 0 1 0 -4.1 0M971 396.1a2.05 2.05 0 1 0 4.1 0a2.05 2.05 0 1 0 -4.1 0M971 384.3a2.05 2.05 0 1 0 4.1 0a2.05 2.05 0 1 0 -4.1 0M971 372.5a2.05 2.05 0 1 0 4.1 0a2.05 2.05 0 1 0 -4.1 0M971 230.9a2.05 2.05 0 1 0 4.1 0a2.05 2.05 0 1 0 -4.1 0M971 219.1a2.05 2.05 0 1 0 4.1 0a2.05 2.05 0 1 0 -4.1 0M971 207.3a2.05 2.05 0 1 0 4.1 0a2.05 2.05 0 1 0 -4.1 0M975.5 437.4a2.05 2.05 0 1 0 4.1 0a2.05 2.05 0 1 0 -4.1 0M975.5 425.6a2.05 2.05 0 1 0 4.1 0a2.05 2.05 0 1 0 -4.1 0M975.5 390.2a2.05 2.05 0 1 0 4.1 0a2.05 2.05 0 1 0 -4.1 0M975.5 378.4a2.05 2.05 0 1 0 4.1 0a2.05 2.05 0 1 0 -4.1 0M980 431.5a2.05 2.05 0 1 0 4.1 0a2.05 2.05 0 1 0 -4.1 0M980 419.7a2.05 2.05 0 1 0 4.1 0a2.05 2.05 0 1 0 -4.1 0M980 396.1a2.05 2.05 0 1 0 4.1 0a2.05 2.05 0 1 0 -4.1 0M980 384.3a2.05 2.05 0 1 0 4.1 0a2.05 2.05 0 1 0 -4.1 0M980 372.5a2.05 2.05 0 1 0 4.1 0a2.05 2.05 0 1 0 -4.1 0M984.5 437.4a2.05 2.05 0 1 0 4.1 0a2.05 2.05 0 1 0 -4.1 0M984.5 425.6a2.05 2.05 0 1 0 4.1 0a2.05 2.05 0 1 0 -4.1 0M984.5 413.8a2.05 2.05 0 1 0 4.1 0a2.05 2.05 0 1 0 -4.1 0M984.5 390.2a2.05 2.05 0 1 0 4.1 0a2.05 2.05 0 1 0 -4.1 0M984.5 378.4a2.05 2.05 0 1 0 4.1 0a2.05 2.05 0 1 0 -4.1 0M989 431.5a2.05 2.05 0 1 0 4.1 0a2.05 2.05 0 1 0 -4.1 0M989 419.7a2.05 2.05 0 1 0 4.1 0a2.05 2.05 0 1 0 -4.1 0M989 407.9a2.05 2.05 0 1 0 4.1 0a2.05 2.05 0 1 0 -4.1 0M989 396.1a2.05 2.05 0 1 0 4.1 0a2.05 2.05 0 1 0 -4.1 0M989 384.3a2.05 2.05 0 1 0 4.1 0a2.05 2.05 0 1 0 -4.1 0M989 372.5a2.05 2.05 0 1 0 4.1 0a2.05 2.05 0 1 0 -4.1 0M993.5 425.6a2.05 2.05 0 1 0 4.1 0a2.05 2.05 0 1 0 -4.1 0M993.5 413.8a2.05 2.05 0 1 0 4.1 0a2.05 2.05 0 1 0 -4.1 0M993.5 402a2.05 2.05 0 1 0 4.1 0a2.05 2.05 0 1 0 -4.1 0M993.5 390.2a2.05 2.05 0 1 0 4.1 0a2.05 2.05 0 1 0 -4.1 0M993.5 378.4a2.05 2.05 0 1 0 4.1 0a2.05 2.05 0 1 0 -4.1 0M998 431.5a2.05 2.05 0 1 0 4.1 0a2.05 2.05 0 1 0 -4.1 0M998 419.7a2.05 2.05 0 1 0 4.1 0a2.05 2.05 0 1 0 -4.1 0M998 407.9a2.05 2.05 0 1 0 4.1 0a2.05 2.05 0 1 0 -4.1 0M998 396.1a2.05 2.05 0 1 0 4.1 0a2.05 2.05 0 1 0 -4.1 0M998 384.3a2.05 2.05 0 1 0 4.1 0a2.05 2.05 0 1 0 -4.1 0M998 372.5a2.05 2.05 0 1 0 4.1 0a2.05 2.05 0 1 0 -4.1 0M1002.5 425.6a2.05 2.05 0 1 0 4.1 0a2.05 2.05 0 1 0 -4.1 0M1002.5 413.8a2.05 2.05 0 1 0 4.1 0a2.05 2.05 0 1 0 -4.1 0M1002.5 402a2.05 2.05 0 1 0 4.1 0a2.05 2.05 0 1 0 -4.1 0M1002.5 390.2a2.05 2.05 0 1 0 4.1 0a2.05 2.05 0 1 0 -4.1 0M1002.5 378.4a2.05 2.05 0 1 0 4.1 0a2.05 2.05 0 1 0 -4.1 0M1007 431.5a2.05 2.05 0 1 0 4.1 0a2.05 2.05 0 1 0 -4.1 0M1007 419.7a2.05 2.05 0 1 0 4.1 0a2.05 2.05 0 1 0 -4.1 0M1007 407.9a2.05 2.05 0 1 0 4.1 0a2.05 2.05 0 1 0 -4.1 0M1007 396.1a2.05 2.05 0 1 0 4.1 0a2.05 2.05 0 1 0 -4.1 0M1007 384.3a2.05 2.05 0 1 0 4.1 0a2.05 2.05 0 1 0 -4.1 0M1007 372.5a2.05 2.05 0 1 0 4.1 0a2.05 2.05 0 1 0 -4.1 0M1011.5 425.6a2.05 2.05 0 1 0 4.1 0a2.05 2.05 0 1 0 -4.1 0M1011.5 413.8a2.05 2.05 0 1 0 4.1 0a2.05 2.05 0 1 0 -4.1 0M1011.5 402a2.05 2.05 0 1 0 4.1 0a2.05 2.05 0 1 0 -4.1 0M1011.5 390.2a2.05 2.05 0 1 0 4.1 0a2.05 2.05 0 1 0 -4.1 0M1016 431.5a2.05 2.05 0 1 0 4.1 0a2.05 2.05 0 1 0 -4.1 0M1016 419.7a2.05 2.05 0 1 0 4.1 0a2.05 2.05 0 1 0 -4.1 0M1016 407.9a2.05 2.05 0 1 0 4.1 0a2.05 2.05 0 1 0 -4.1 0M1020.5 425.6a2.05 2.05 0 1 0 4.1 0a2.05 2.05 0 1 0 -4.1 0M1020.5 413.8a2.05 2.05 0 1 0 4.1 0a2.05 2.05 0 1 0 -4.1 0M1020.5 378.4a2.05 2.05 0 1 0 4.1 0a2.05 2.05 0 1 0 -4.1 0M1025 431.5a2.05 2.05 0 1 0 4.1 0a2.05 2.05 0 1 0 -4.1 0M1025 419.7a2.05 2.05 0 1 0 4.1 0a2.05 2.05 0 1 0 -4.1 0M1025 407.9a2.05 2.05 0 1 0 4.1 0a2.05 2.05 0 1 0 -4.1 0M1025 384.3a2.05 2.05 0 1 0 4.1 0a2.05 2.05 0 1 0 -4.1 0M1025 372.5a2.05 2.05 0 1 0 4.1 0a2.05 2.05 0 1 0 -4.1 0M1029.5 425.6a2.05 2.05 0 1 0 4.1 0a2.05 2.05 0 1 0 -4.1 0M1029.5 413.8a2.05 2.05 0 1 0 4.1 0a2.05 2.05 0 1 0 -4.1 0M1029.5 378.4a2.05 2.05 0 1 0 4.1 0a2.05 2.05 0 1 0 -4.1 0M1034 419.7a2.05 2.05 0 1 0 4.1 0a2.05 2.05 0 1 0 -4.1 0M1034 407.9a2.05 2.05 0 1 0 4.1 0a2.05 2.05 0 1 0 -4.1 0M1034 396.1a2.05 2.05 0 1 0 4.1 0a2.05 2.05 0 1 0 -4.1 0M1034 384.3a2.05 2.05 0 1 0 4.1 0a2.05 2.05 0 1 0 -4.1 0M1034 372.5a2.05 2.05 0 1 0 4.1 0a2.05 2.05 0 1 0 -4.1 0M1038.5 425.6a2.05 2.05 0 1 0 4.1 0a2.05 2.05 0 1 0 -4.1 0M1038.5 390.2a2.05 2.05 0 1 0 4.1 0a2.05 2.05 0 1 0 -4.1 0M1038.5 378.4a2.05 2.05 0 1 0 4.1 0a2.05 2.05 0 1 0 -4.1 0M1043 396.1a2.05 2.05 0 1 0 4.1 0a2.05 2.05 0 1 0 -4.1 0M1043 384.3a2.05 2.05 0 1 0 4.1 0a2.05 2.05 0 1 0 -4.1 0M1043 372.5a2.05 2.05 0 1 0 4.1 0a2.05 2.05 0 1 0 -4.1 0M1047.5 390.2a2.05 2.05 0 1 0 4.1 0a2.05 2.05 0 1 0 -4.1 0M1047.5 378.4a2.05 2.05 0 1 0 4.1 0a2.05 2.05 0 1 0 -4.1 0M1052 419.7a2.05 2.05 0 1 0 4.1 0a2.05 2.05 0 1 0 -4.1 0M1052 407.9a2.05 2.05 0 1 0 4.1 0a2.05 2.05 0 1 0 -4.1 0M1052 396.1a2.05 2.05 0 1 0 4.1 0a2.05 2.05 0 1 0 -4.1 0M1052 384.3a2.05 2.05 0 1 0 4.1 0a2.05 2.05 0 1 0 -4.1 0M1052 372.5a2.05 2.05 0 1 0 4.1 0a2.05 2.05 0 1 0 -4.1 0M1056.5 413.8a2.05 2.05 0 1 0 4.1 0a2.05 2.05 0 1 0 -4.1 0M1056.5 402a2.05 2.05 0 1 0 4.1 0a2.05 2.05 0 1 0 -4.1 0M1056.5 390.2a2.05 2.05 0 1 0 4.1 0a2.05 2.05 0 1 0 -4.1 0M1056.5 378.4a2.05 2.05 0 1 0 4.1 0a2.05 2.05 0 1 0 -4.1 0M1061 407.9a2.05 2.05 0 1 0 4.1 0a2.05 2.05 0 1 0 -4.1 0M1061 396.1a2.05 2.05 0 1 0 4.1 0a2.05 2.05 0 1 0 -4.1 0M1061 384.3a2.05 2.05 0 1 0 4.1 0a2.05 2.05 0 1 0 -4.1 0M1061 372.5a2.05 2.05 0 1 0 4.1 0a2.05 2.05 0 1 0 -4.1 0M1065.5 413.8a2.05 2.05 0 1 0 4.1 0a2.05 2.05 0 1 0 -4.1 0M1065.5 402a2.05 2.05 0 1 0 4.1 0a2.05 2.05 0 1 0 -4.1 0M1065.5 390.2a2.05 2.05 0 1 0 4.1 0a2.05 2.05 0 1 0 -4.1 0M1065.5 378.4a2.05 2.05 0 1 0 4.1 0a2.05 2.05 0 1 0 -4.1 0M1070 407.9a2.05 2.05 0 1 0 4.1 0a2.05 2.05 0 1 0 -4.1 0M1070 396.1a2.05 2.05 0 1 0 4.1 0a2.05 2.05 0 1 0 -4.1 0M1070 384.3a2.05 2.05 0 1 0 4.1 0a2.05 2.05 0 1 0 -4.1 0M1074.5 390.2a2.05 2.05 0 1 0 4.1 0a2.05 2.05 0 1 0 -4.1 0M1074.5 378.4a2.05 2.05 0 1 0 4.1 0a2.05 2.05 0 1 0 -4.1 0M1079 384.3a2.05 2.05 0 1 0 4.1 0a2.05 2.05 0 1 0 -4.1 0" fill="#fff"/>
<path d="M940 44 L926 55 L920 60 L918 65 L900 64 L897 58 L895 56 L886 57 L888 66 L892 72 L893 79 L886 80 L880 76 L870 79 L860 76 L848 78 L838 81 L833.6 84 L838 88 L834.4 93.6 L842 98 L852 100 L860 104 L870 106 L876 111 L884 114 L881 120 L883 128 L892 134 L897 140 L898 149 L900 154 L898 164 L897 172 L895 184 L893 198 L889 204 L880 204.4 L870 203 L860 200 L848 202 L836 199 L824 199 L812 199 L800 199 L786 198 L780 195.6 L774 198 L766 202 L758 206 L753 212 L755 218 L758 224 L760 230 L758 236 L760 242 L762 250 L762.4 260 L761 270 L759 280 L755 292 L750 300 L748 310 L751 316 L760 318 L761 330 L758 344 L757 353 L768 353 L776 355 L782 350 L786 349 L796 350 L802 356 L806 362 L809 370 L816 377 L821 376 L824 371 L832 366 L844 362 L860 361 L876 361 L882 358 L892 348 L900 342 L910 338 L915 328 L920 318 L922 312 L917 306 L914 298 L916 290 L920 284 L926 280 L932 270 L940 258 L947 255 L957 250 L968 240 L975 232 L978 227 L975 220 L975 212 L979 206 L987 200 L993 199 L1003 203 L1015 206 L1023 210 L1031 211 L1039 208 L1047 198 L1055 192 L1059 188 L1067 184 L1075 180 L1083 181 L1091 186 L1099 192 L1105 200 L1109 210 L1113 216 L1119 224 L1123 228 L1131 234 L1139 242 L1147 250 L1153 256 L1163 258 L1171 256 L1179 256 L1179 217 L1171 216 L1165 208 L1159 200 L1151 194 L1145 190 L1143 180 L1145 172 L1143 166 L1141 158 L1145 154 L1155 152 L1165 154 L1167 160 L1172 170 L1179 170 L1179 44Z M744 526 L744 519 L741 500 L743 486 L750 472 L754 460 L760 450 L768 442 L780 434 L788 428 L794 424 L800 414 L804 404 L808 392 L812 384 L820 381 L824 386 L828 392 L836 397 L848 397 L860 396 L866 394 L867 398 L876 399 L884 400 L892 396 L900 388 L910 384 L920 378 L930 370 L940 367 L955 362 L971 359 L987 357 L1011 357 L1015 362 L1021 359 L1031 356 L1039 353 L1049 356 L1055 354 L1063 357 L1075 355 L1083 351 L1093 348 L1098 349 L1103 355 L1111 357 L1118 353 L1120 357 L1115 364 L1111 370 L1112 378 L1118 386 L1119 396 L1115 404 L1109 412 L1103 420 L1103 428 L1111 432 L1115 429 L1119 432 L1120 440 L1127 446 L1137 450 L1151 453 L1163 452 L1172 454 L1181 454 L1181 526Z M962 294 L967 289 L974 286 L978 289 L982 295 L977 299 L972 300 L967 297Z M989 284 L994 282 L997.4 286 L993 287.6Z M940 307 L946 305 L948 308 L944 311 L940.6 310Z M1068 262 L1075 264 L1084 255 L1089 256 L1095 266 L1095 280 L1095 292 L1090 302 L1085 308 L1079 310 L1073 308 L1071 300 L1073 290 L1072 280 L1067 270Z M1089 213 L1090.6 220 L1092 232 L1089 246 L1084 252 L1078 244 L1075 236 L1075 226 L1079 221 L1086 219 L1088 214Z M1181 330 L1165 327 L1157 327 L1150 329 L1145 334 L1147 339 L1155 343 L1165 349 L1181 352Z M1102 216.4 L1107.4 216.4 L1107.4 220.4 L1102 220.4Z M944 314.4 L948 315.6" fill="none" stroke="#000" stroke-width="1.1" stroke-linejoin="round"/>
<path d="M879 400 L888 416 L888 432 L892 446 L900 460 L896 466 L866 472 L862 480 L850 488 L852 496 L840 502 L828 510 L824 521 M1071 358 L1068 368 L1071 384 L1069 400 L1063 416 L1055 428 L1059 440 L1067 452 L1079 464 L1083 472 L1087 492 L1091 514 L1090 521 M1091 514 L1101 500 L1105 484 L1111 472 L1123 464 L1127 456 L1126.6 446.4 M760 242 L766 237 L770 233 L772 238 L784 240 L792 237 L800 239 L806 248 L798 255 L794 264 L796 272 L794 280 L786 292 L788 300 L793 308 L791 320 L794 327 L786 332 L784 340 L786 349 M889 204 L896 210 L906 214 L916 217 L926 216 L940 221 L947 223 L953 227 L961 225 L971 226 L978 227 M1007 49 L1015 56 L1023 59 L1025 52 L1033 50 M1033 50 L1037 62 L1049 68 L1059 70 L1066 74 L1063 84 L1057 92 L1055 104 L1047 108 L1039 116 L1033 126 L1029 134 L1028 139 L1037 134 L1043 138 L1044 144 L1043 154 L1047 160 L1041 164 L1043 172 L1047 176 L1044 180 L1051 188 L1059 189 L1058 193 M1047 108 L1059 106 L1073 102 L1081 104 L1093 107 L1091 114 L1099 120 L1107 122 L1105 128 L1101 134 L1093 132 L1087 134 L1083 144 L1079 140 L1073 134 L1067 140 L1055 144 L1044 144 M1093 107 L1105 110 L1119 106 L1135 104 L1143 102 L1153 106 L1155 100 L1151 92 L1163 80 L1172 75 M1107 122 L1115 120 L1127 117 L1139 116 L1143 124 L1155 128 L1172 130.4 M1169 130 L1165 140 L1167 150 L1172 152 M1145 49 L1151 60 L1159 68 L1169 76" fill="none" stroke="#000" stroke-width="1" stroke-linejoin="round"/>
<rect x="784" y="317" width="90" height="31.9" fill="none" stroke="#ffd700" stroke-width="2.6"/>
<circle cx="832.6" cy="334" r="3.3" fill="#ff00ff" stroke="#000" stroke-width="1.1"/>
<circle cx="775" cy="482.2" r="3.3" fill="#ff00ff" stroke="#000" stroke-width="1.1"/>
<defs><marker id="ah" viewBox="0 0 10 10" refX="9" refY="5" markerWidth="6.5" markerHeight="6.5" orient="auto"><path d="M1 1L9 5L1 9" fill="none" stroke="#000" stroke-width="1.3"/></marker></defs>
<text x="811" y="183.6" font-size="23">ES</text>
<path d="M837 189Q846 204 847 221" fill="none" stroke="#000" stroke-width="1.1" marker-end="url(#ah)"/>
<text x="714.5" y="259" font-size="23">PT</text>
<path d="M737 264Q744 282 764 287" fill="none" stroke="#000" stroke-width="1.1" marker-end="url(#ah)"/>
<text x="714.5" y="430.5" font-size="23">MA</text>
<path d="M748 437Q752 452 776 458" fill="none" stroke="#000" stroke-width="1.1" marker-end="url(#ah)"/>
<text x="959" y="339" font-size="23">AL</text>
<path d="M986 343Q996 355 995 368" fill="none" stroke="#000" stroke-width="1.1" marker-end="url(#ah)"/>
<text x="1102" y="332.5" font-size="23">TN</text>
<path d="M1116 337Q1112 356 1094 357" fill="none" stroke="#000" stroke-width="1.1" marker-end="url(#ah)"/>
</g>
</g>
<g id="axes">
<rect x="107.5" y="48" width="482.0" height="472" fill="none" stroke="#000" stroke-width="1.6"/>
<path d="M97 520 H107.5" stroke="#000" stroke-width="2.4"/>
<text x="95.8" y="527.4" text-anchor="end" font-size="20.3">20°N</text>
<path d="M97 452.6 H107.5" stroke="#000" stroke-width="2.4"/>
<text x="95.8" y="459.9" text-anchor="end" font-size="20.3">25°N</text>
<path d="M97 385.1 H107.5" stroke="#000" stroke-width="2.4"/>
<text x="95.8" y="392.5" text-anchor="end" font-size="20.3">30°N</text>
<path d="M97 317.6 H107.5" stroke="#000" stroke-width="2.4"/>
<text x="95.8" y="325" text-anchor="end" font-size="20.3">35°N</text>
<path d="M97 250.2 H107.5" stroke="#000" stroke-width="2.4"/>
<text x="95.8" y="257.6" text-anchor="end" font-size="20.3">40°N</text>
<path d="M97 182.8 H107.5" stroke="#000" stroke-width="2.4"/>
<text x="95.8" y="190.2" text-anchor="end" font-size="20.3">45°N</text>
<path d="M97 115.3 H107.5" stroke="#000" stroke-width="2.4"/>
<text x="95.8" y="122.7" text-anchor="end" font-size="20.3">50°N</text>
<path d="M97 47.8 H107.5" stroke="#000" stroke-width="2.4"/>
<text x="95.8" y="55.2" text-anchor="end" font-size="20.3">55°N</text>
<path d="M161 520 V530.5" stroke="#000" stroke-width="2.4"/>
<text x="161" y="557.5" text-anchor="middle" font-size="20.3">20°W</text>
<path d="M268 520 V530.5" stroke="#000" stroke-width="2.4"/>
<text x="268" y="557.5" text-anchor="middle" font-size="20.3">10°W</text>
<path d="M375 520 V530.5" stroke="#000" stroke-width="2.4"/>
<text x="375" y="557.5" text-anchor="middle" font-size="20.3">0°</text>
<path d="M482 520 V530.5" stroke="#000" stroke-width="2.4"/>
<text x="482" y="557.5" text-anchor="middle" font-size="20.3">10°E</text>
<path d="M589 520 V530.5" stroke="#000" stroke-width="2.4"/>
<text x="589" y="557.5" text-anchor="middle" font-size="20.3">20°E</text>
<rect x="703" y="48" width="469" height="472" fill="none" stroke="#000" stroke-width="1.6"/>
<path d="M692.5 520 H703" stroke="#000" stroke-width="2.4"/>
<text x="691" y="527.4" text-anchor="end" font-size="20.3">30°N</text>
<path d="M692.5 402 H703" stroke="#000" stroke-width="2.4"/>
<text x="691" y="409.4" text-anchor="end" font-size="20.3">35°N</text>
<path d="M692.5 284 H703" stroke="#000" stroke-width="2.4"/>
<text x="691" y="291.4" text-anchor="end" font-size="20.3">40°N</text>
<path d="M692.5 166 H703" stroke="#000" stroke-width="2.4"/>
<text x="691" y="173.4" text-anchor="end" font-size="20.3">45°N</text>
<path d="M692.5 48 H703" stroke="#000" stroke-width="2.4"/>
<text x="691" y="55.4" text-anchor="end" font-size="20.3">50°N</text>
<path d="M739 520 V530.5" stroke="#000" stroke-width="2.4"/>
<text x="739" y="557.5" text-anchor="middle" font-size="20.3">10°W</text>
<path d="M829 520 V530.5" stroke="#000" stroke-width="2.4"/>
<text x="829" y="557.5" text-anchor="middle" font-size="20.3">5°W</text>
<path d="M919 520 V530.5" stroke="#000" stroke-width="2.4"/>
<text x="919" y="557.5" text-anchor="middle" font-size="20.3">0°</text>
<path d="M1009 520 V530.5" stroke="#000" stroke-width="2.4"/>
<text x="1009" y="557.5" text-anchor="middle" font-size="20.3">5°E</text>
<path d="M1099 520 V530.5" stroke="#000" stroke-width="2.4"/>
<text x="1099" y="557.5" text-anchor="middle" font-size="20.3">10°E</text>
<text x="105.5" y="32.5" font-size="36" letter-spacing="5">a)</text>
<text x="701.5" y="32.5" font-size="36" letter-spacing="5">b)</text>
</g>
<g id="cbar-a">
<rect x="107.5" y="595" width="32.4" height="28" fill="#e9f6fd"/>
<rect x="139.6" y="595" width="32.4" height="28" fill="#bae4f8"/>
<rect x="171.8" y="595" width="32.4" height="28" fill="#90cded"/>
<rect x="203.9" y="595" width="32.4" height="28" fill="#6aabdb"/>
<rect x="236" y="595" width="32.4" height="28" fill="#4a91bd"/>
<rect x="268.2" y="595" width="32.4" height="28" fill="#4ba47f"/>
<rect x="300.3" y="595" width="32.4" height="28" fill="#55b549"/>
<rect x="332.4" y="595" width="32.4" height="28" fill="#a1ce52"/>
<rect x="364.6" y="595" width="32.4" height="28" fill="#f1e557"/>
<rect x="396.7" y="595" width="32.4" height="28" fill="#f7b347"/>
<rect x="428.8" y="595" width="32.4" height="28" fill="#f57d2f"/>
<rect x="461" y="595" width="32.4" height="28" fill="#e9552a"/>
<rect x="493.1" y="595" width="32.4" height="28" fill="#db2d29"/>
<rect x="525.2" y="595" width="32.4" height="28" fill="#c11c25"/>
<rect x="557.4" y="595" width="32.4" height="28" fill="#a21a21"/>
<path d="M139.6 595 V623M171.8 595 V623M203.9 595 V623M236 595 V623M268.2 595 V623M300.3 595 V623M332.4 595 V623M364.6 595 V623M396.7 595 V623M428.8 595 V623M461 595 V623M493.1 595 V623M525.2 595 V623M557.4 595 V623" stroke="#000" stroke-width="0.9" opacity="0.4"/>
<path d="M139.6 595 v3.5M139.6 623 v-3.5M171.8 595 v3.5M171.8 623 v-3.5M203.9 595 v3.5M203.9 623 v-3.5M236 595 v3.5M236 623 v-3.5M268.2 595 v3.5M268.2 623 v-3.5M300.3 595 v3.5M300.3 623 v-3.5M332.4 595 v3.5M332.4 623 v-3.5M364.6 595 v3.5M364.6 623 v-3.5M396.7 595 v3.5M396.7 623 v-3.5M428.8 595 v3.5M428.8 623 v-3.5M461 595 v3.5M461 623 v-3.5M493.1 595 v3.5M493.1 623 v-3.5M525.2 595 v3.5M525.2 623 v-3.5M557.4 595 v3.5M557.4 623 v-3.5" stroke="#000" stroke-width="1.1"/>
<rect x="107.5" y="595" width="482.0" height="28" fill="none" stroke="#000" stroke-width="1.5"/>
<text transform="translate(114.9 650) rotate(-90)" text-anchor="middle" font-size="20.3">0</text>
<text transform="translate(147 650) rotate(-90)" text-anchor="middle" font-size="20.3">2</text>
<text transform="translate(179.2 650) rotate(-90)" text-anchor="middle" font-size="20.3">4</text>
<text transform="translate(211.3 650) rotate(-90)" text-anchor="middle" font-size="20.3">6</text>
<text transform="translate(243.4 650) rotate(-90)" text-anchor="middle" font-size="20.3">8</text>
<text transform="translate(275.6 650) rotate(-90)" text-anchor="middle" font-size="20.3">10</text>
<text transform="translate(307.7 650) rotate(-90)" text-anchor="middle" font-size="20.3">12</text>
<text transform="translate(339.8 650) rotate(-90)" text-anchor="middle" font-size="20.3">14</text>
<text transform="translate(372 650) rotate(-90)" text-anchor="middle" font-size="20.3">16</text>
<text transform="translate(404.1 650) rotate(-90)" text-anchor="middle" font-size="20.3">18</text>
<text transform="translate(436.2 650) rotate(-90)" text-anchor="middle" font-size="20.3">20</text>
<text transform="translate(468.4 650) rotate(-90)" text-anchor="middle" font-size="20.3">22</text>
<text transform="translate(500.5 650) rotate(-90)" text-anchor="middle" font-size="20.3">24</text>
<text transform="translate(532.6 650) rotate(-90)" text-anchor="middle" font-size="20.3">26</text>
<text transform="translate(564.8 650) rotate(-90)" text-anchor="middle" font-size="20.3">28</text>
<text transform="translate(596.9 650) rotate(-90)" text-anchor="middle" font-size="20.3">30</text>
<text x="348.5" y="697" text-anchor="middle" font-size="25">Temperature [°C]</text>
</g>
<g id="cbar-b">
<rect x="695" y="598.5" width="48.6" height="28.0" fill="#6e4007"/>
<rect x="743.4" y="598.5" width="48.6" height="28.0" fill="#a5691b"/>
<rect x="791.7" y="598.5" width="48.6" height="28.0" fill="#cfa256"/>
<rect x="840" y="598.5" width="48.6" height="28.0" fill="#ead59f"/>
<rect x="888.4" y="598.5" width="48.6" height="28.0" fill="#f5efdc"/>
<rect x="936.8" y="598.5" width="48.6" height="28.0" fill="#def0ed"/>
<rect x="985.1" y="598.5" width="48.6" height="28.0" fill="#a3dbd3"/>
<rect x="1033.5" y="598.5" width="48.6" height="28.0" fill="#58b0a7"/>
<rect x="1081.8" y="598.5" width="48.6" height="28.0" fill="#1a7e76"/>
<rect x="1130.2" y="598.5" width="48.6" height="28.0" fill="#005046"/>
<path d="M743.4 598.5 V626.5M791.7 598.5 V626.5M840 598.5 V626.5M888.4 598.5 V626.5M936.8 598.5 V626.5M985.1 598.5 V626.5M1033.5 598.5 V626.5M1081.8 598.5 V626.5M1130.2 598.5 V626.5" stroke="#000" stroke-width="0.9" opacity="0.4"/>
<path d="M743.4 598.5 v3.5M743.4 626.5 v-3.5M791.7 598.5 v3.5M791.7 626.5 v-3.5M840 598.5 v3.5M840 626.5 v-3.5M888.4 598.5 v3.5M888.4 626.5 v-3.5M936.8 598.5 v3.5M936.8 626.5 v-3.5M985.1 598.5 v3.5M985.1 626.5 v-3.5M1033.5 598.5 v3.5M1033.5 626.5 v-3.5M1081.8 598.5 v3.5M1081.8 626.5 v-3.5M1130.2 598.5 v3.5M1130.2 626.5 v-3.5" stroke="#000" stroke-width="1.1"/>
<rect x="695" y="598.5" width="483.5" height="28.0" fill="none" stroke="#000" stroke-width="1.5"/>
<text x="695" y="659" text-anchor="middle" font-size="20.3">0</text>
<text x="743.4" y="659" text-anchor="middle" font-size="20.3">10</text>
<text x="791.7" y="659" text-anchor="middle" font-size="20.3">20</text>
<text x="840" y="659" text-anchor="middle" font-size="20.3">30</text>
<text x="888.4" y="659" text-anchor="middle" font-size="20.3">40</text>
<text x="936.8" y="659" text-anchor="middle" font-size="20.3">50</text>
<text x="985.1" y="659" text-anchor="middle" font-size="20.3">60</text>
<text x="1033.5" y="659" text-anchor="middle" font-size="20.3">70</text>
<text x="1081.8" y="659" text-anchor="middle" font-size="20.3">80</text>
<text x="1130.2" y="659" text-anchor="middle" font-size="20.3">90</text>
<text x="1178.5" y="659" text-anchor="middle" font-size="20.3">100</text>
<text x="937" y="692.5" text-anchor="middle" font-size="25">Percentile [%]</text>
</g>
<g id="panel-c">
<rect x="109" y="773.75" width="1062.75" height="190.75" fill="#fff"/>
<path d="M903.5 833 L916.6 814.5 L930.5 803.8 L944.3 789.5 L958.1 805 L968.5 826 L960 827 L945 828.5 L930 830 L915 831.5Z" fill="#8b0000"/>
<path d="M156 949.2 L169.8 936.8 L183.7 922 L197.5 918 L211.3 950 L225.2 937.5 L239 917.5 L252.8 907.5 L266.6 916.2 L280.5 900 L294.3 892.5 L308.1 875 L322 885 L335.8 900.5 L349.6 873 L363.4 870 L377.3 902.5 L391.1 908.8 L404.9 895 L418.8 883.8 L432.6 876.2 L446.4 867.5 L460.3 869.5 L474.1 885 L487.9 861.2 L501.8 862.5 L515.6 865 L529.4 858.8 L543.2 850 L557.1 856.2 L570.9 872.5 L584.7 873.2 L598.6 882 L612.4 878 L626.2 872.5 L640 862.5 L653.9 864.2 L667.7 860.5 L681.5 837.5 L695.4 838 L709.2 835 L723 843.8 L736.9 869.2 L750.7 881.2 L764.5 862.5 L778.4 845 L792.2 850 L806 840 L819.8 845 L833.7 846.8 L847.5 848.8 L861.3 875 L875.2 875 L889 848.8 L902.8 831.2 L916.6 814.5 L930.5 803.8 L944.3 789.5 L958.1 805 L972 833.8 L985.8 833 L999.6 825.5 L1013.5 822 L1027.3 820.8 L1041.1 842.5 L1055 826.2 L1068.8 836.2 L1082.6 830.8 L1096.4 815.5 L1110.3 808 L1124.1 821.2" fill="none" stroke="#000" stroke-width="2.7" stroke-linejoin="round"/>
<path d="M156 925.5 C171.7 924 217.7 918.7 250 916.3 C282.3 913.9 325 912.3 350 911.3 C375 910.2 370 910.7 400 910 C430 909.3 483.3 908.1 530 907 C576.7 905.9 633.3 905.7 680 903.5 C726.7 901.3 775.8 896.2 810 894 C844.2 891.8 860 891.3 885 890 C910 888.7 940 887.2 960 886 C980 884.8 977.7 885.7 1005 883 C1032.3 880.3 1104.2 872.2 1124 870" fill="none" stroke="#c9c9c9" stroke-width="5.5"/>
<path d="M156 870 C163.3 869 184.3 865.5 200 864 C215.7 862.5 233.3 861.8 250 860.8 C266.7 859.8 283.3 858.8 300 858 C316.7 857.2 333.3 856.4 350 855.8 C366.7 855.2 370 855.7 400 854.3 C430 852.9 483.3 849.9 530 847.5 C576.7 845.1 633.3 841.8 680 840 C726.7 838.2 775.8 838 810 837 C844.2 836 866.7 835.3 885 834.3 C903.3 833.3 907.5 832.2 920 831 C932.5 829.8 945.8 829 960 827 C974.2 825 989.2 821.6 1005 818.8 C1020.8 816 1035.2 813.1 1055 810 C1074.8 806.9 1112.5 801.7 1124 800" fill="none" stroke="#8b0000" stroke-width="5"/>
<path d="M916.6 821.3 H958.1 M916.6 814.5 V821.3 M930.5 803.8 V821.3 M944.3 789.5 V821.3 M958.1 805 V821.3" fill="none" stroke="#ffa500" stroke-width="2.5"/>
<path d="M916.6 805.5 L916.6 823.5M908.9 810 L924.4 819M908.9 819 L924.4 810" stroke="#ff00ff" stroke-width="2" fill="none"/>
<path d="M930.5 794.8 L930.5 812.8M922.7 799.2 L938.3 808.2M922.7 808.2 L938.3 799.2" stroke="#ff00ff" stroke-width="2" fill="none"/>
<path d="M944.3 780.5 L944.3 798.5M936.5 785 L952.1 794M936.5 794 L952.1 785" stroke="#ff00ff" stroke-width="2" fill="none"/>
<path d="M958.1 796 L958.1 814M950.3 800.5 L965.9 809.5M950.3 809.5 L965.9 800.5" stroke="#ff00ff" stroke-width="2" fill="none"/>
<rect x="109" y="773.75" width="1062.75" height="190.75" fill="none" stroke="#000" stroke-width="1.6"/>
<path d="M100 796 H109" stroke="#000" stroke-width="2.4"/>
<text x="96.5" y="804.9" text-anchor="end" font-size="24.5">38</text>
<path d="M100 822.7 H109" stroke="#000" stroke-width="2.4"/>
<text x="96.5" y="831.6" text-anchor="end" font-size="24.5">34</text>
<path d="M100 849.3 H109" stroke="#000" stroke-width="2.4"/>
<text x="96.5" y="858.2" text-anchor="end" font-size="24.5">30</text>
<path d="M100 876 H109" stroke="#000" stroke-width="2.4"/>
<text x="96.5" y="884.9" text-anchor="end" font-size="24.5">26</text>
<path d="M100 902.7 H109" stroke="#000" stroke-width="2.4"/>
<text x="96.5" y="911.6" text-anchor="end" font-size="24.5">22</text>
<path d="M100 929.4 H109" stroke="#000" stroke-width="2.4"/>
<text x="96.5" y="938.2" text-anchor="end" font-size="24.5">18</text>
<path d="M100 956 H109" stroke="#000" stroke-width="2.4"/>
<text x="96.5" y="964.9" text-anchor="end" font-size="24.5">14</text>
<path d="M156 964.5 V976.5" stroke="#000" stroke-width="2.4"/>
<text x="156" y="1007" text-anchor="middle" font-size="24.7">23/03/01</text>
<path d="M349.6 964.5 V976.5" stroke="#000" stroke-width="2.4"/>
<text x="349.6" y="1007" text-anchor="middle" font-size="24.7">23/03/15</text>
<path d="M584.7 964.5 V976.5" stroke="#000" stroke-width="2.4"/>
<text x="584.7" y="1007" text-anchor="middle" font-size="24.7">23/04/01</text>
<path d="M778.4 964.5 V976.5" stroke="#000" stroke-width="2.4"/>
<text x="778.4" y="1007" text-anchor="middle" font-size="24.7">23/04/15</text>
<path d="M999.6 964.5 V976.5" stroke="#000" stroke-width="2.4"/>
<text x="999.6" y="1007" text-anchor="middle" font-size="24.7">23/05/01</text>
<path d="M121 790 H144" stroke="#000" stroke-width="6.5"/>
<text x="158" y="798.8" font-size="24.9">Tx</text>
<path d="M121 818 H144" stroke="#c9c9c9" stroke-width="6.5"/>
<text x="158" y="827" font-size="24.9">Tx climatology</text>
<path d="M121 845.8 H144" stroke="#8b0000" stroke-width="6.5"/>
<text x="158" y="855" font-size="24.9">Tx p99</text>
<text x="107" y="757.5" font-size="36" letter-spacing="5">c)</text>
<text transform="translate(26.5 869) rotate(-90)" text-anchor="middle" font-size="30">Tx [°C]</text>
</g>
<g id="panel-d">
<rect x="109" y="1104" width="1063" height="190" fill="#fff"/>
<path d="M155.6 1191.2 L171.2 1157 L186.9 1145 L202.5 1202.5 L218.1 1233.8 L233.8 1163.8 L249.4 1191.2 L265 1176.2 L280.6 1188.8 L296.3 1225 L311.9 1117 L327.5 1224.5 L343.2 1240.8 L358.8 1135.8 L374.4 1178.8 L390.1 1125 L405.7 1242.5 L421.3 1145 L436.9 1188.8 L452.6 1203 L468.2 1143.8 L483.8 1182 L499.5 1179.2 L515.1 1177.5 L530.7 1179.5 L546.4 1165 L562 1183.8 L577.6 1183 L593.2 1158.8 L608.9 1142.5 L624.5 1202.5 L640.1 1195 L655.8 1177.5 L671.4 1197.5 L687 1235 L702.7 1197.5 L718.3 1183.8 L733.9 1193.8 L749.5 1226.2 L765.2 1113.2 L780.8 1240 L796.4 1153 L812.1 1182.5 L827.7 1186.2 L843.3 1239.5 L859 1188.8 L874.6 1153 L890.2 1136.2 L905.8 1198.8 L921.5 1190.8 L937.1 1165 L952.7 1171.2 L968.4 1189.5 L984 1197 L999.6 1190 L1015.3 1145.8 L1030.9 1203.8 L1046.5 1154.5 L1062.1 1149.2 L1077.8 1147 L1093.4 1172.5 L1109 1167.5 L1124.7 1276.2" fill="none" stroke="#000000" stroke-width="2.5" stroke-linejoin="round"/>
<path d="M155.6 1225.5 L171.2 1140.8 L186.9 1135.8 L202.5 1142.5 L218.1 1197 L233.8 1168.8 L249.4 1191.2 L265 1133.8 L280.6 1123 L296.3 1228.8 L311.9 1160 L327.5 1162.5 L343.2 1230 L358.8 1154.2 L374.4 1149.5 L390.1 1155.8 L405.7 1211.2 L421.3 1148.8 L436.9 1142.5 L452.6 1193.8 L468.2 1190 L483.8 1200 L499.5 1210.5 L515.1 1175 L530.7 1186.2 L546.4 1157 L562 1195 L577.6 1223 L593.2 1180 L608.9 1197.5 L624.5 1151.2 L640.1 1198.8 L655.8 1203.2 L671.4 1207.5 L687 1237.5 L702.7 1200 L718.3 1245.8 L733.9 1201.2 L749.5 1220 L765.2 1181.8 L780.8 1190.8 L796.4 1172 L812.1 1167.5 L827.7 1158 L843.3 1233.8 L859 1179.2 L874.6 1178.8 L890.2 1177 L905.8 1190 L921.5 1119.2 L937.1 1155 L952.7 1220 L968.4 1118.8 L984 1185 L999.6 1204.5 L1015.3 1173.8 L1030.9 1184.5 M1062.1 1208.2 L1077.8 1180.8 L1093.4 1198.2 L1109 1158.8 L1124.7 1276.2" fill="none" stroke="#8b1a1a" stroke-width="2.5" stroke-linejoin="round"/>
<path d="M171.2 1125.8 L186.9 1125 L202.5 1134.2 L218.1 1222.5 L233.8 1168.8 L249.4 1217 L265 1180 L280.6 1157.5 L296.3 1148.8 L311.9 1208.8 L327.5 1167.5 L343.2 1192.5 L358.8 1183.8 L374.4 1216.2 L390.1 1203 L405.7 1145.8 L421.3 1153 L436.9 1143 L452.6 1202.5 L468.2 1213 L483.8 1207.5 L499.5 1213 L515.1 1176.2 L530.7 1161.2 L546.4 1188.8 L562 1198.8 L577.6 1174.5 L593.2 1177.5 L608.9 1133.8 L624.5 1183.8 L640.1 1223 L655.8 1195.2 L671.4 1189.8 L687 1252 L702.7 1146.2 L718.3 1124.5 L733.9 1126.2 L749.5 1220 L765.2 1188.8 L780.8 1167 L796.4 1174.5 L812.1 1167.5 L827.7 1177.5 L843.3 1246.8 L859 1221.2 L874.6 1192 L890.2 1192.5 L905.8 1177.5 L921.5 1132 L937.1 1138 L952.7 1227.5 L968.4 1133.8 L984 1187.5 L999.6 1188 L1015.3 1213.8 L1030.9 1183.8 L1046.5 1180.8 L1062.1 1188 L1077.8 1202.5 L1093.4 1204.2 L1109 1198 L1124.7 1268.2" fill="none" stroke="#ee2c2c" stroke-width="2.5" stroke-linejoin="round"/>
<path d="M186.9 1115.8 L202.5 1120 L218.1 1168.8 L233.8 1198 L249.4 1194.5 L265 1204.5 L280.6 1161.2 L296.3 1145 L311.9 1171.2 L327.5 1188.8 L343.2 1180.5 L358.8 1191.2 L374.4 1210 L390.1 1222.5 L405.7 1167.5 L421.3 1141.2 L436.9 1140 L452.6 1166.2 L468.2 1218 L483.8 1222.5 L499.5 1221.2 L515.1 1197.5 L530.7 1163.8 L546.4 1171.2 L562 1198 L577.6 1187.5 L593.2 1175 L608.9 1146.8 L624.5 1148.8 L640.1 1212.5 L655.8 1218.8 L671.4 1197 L687 1233.8 L702.7 1195 L718.3 1123.8 L733.9 1115 L749.5 1157.5 L765.2 1211.2 L780.8 1175.5 L796.4 1167 L812.1 1167 L827.7 1169.2 L843.3 1225 L859 1254.2 L874.6 1214.5 L890.2 1195.5 L905.8 1186.2 L921.5 1145 L937.1 1125 L952.7 1174.5 L968.4 1169.5 L984 1150.8 L999.6 1191.2 L1015.3 1208 L1030.9 1205 L1046.5 1182.5 L1062.1 1185.5 L1077.8 1201.2 L1093.4 1211.8 L1109 1209.5 L1124.7 1253.8" fill="none" stroke="#ffa500" stroke-width="2.5" stroke-linejoin="round"/>
<circle cx="1124.7" cy="1276.2" r="6.2" fill="#000000"/>
<circle cx="1124.7" cy="1276.2" r="6.2" fill="#8b1a1a"/>
<circle cx="1124.7" cy="1268.2" r="6.2" fill="#ee2c2c"/>
<circle cx="1124.7" cy="1253.8" r="6.2" fill="#ffa500"/>
<rect x="109" y="1104" width="1063" height="190" fill="none" stroke="#000" stroke-width="1.6"/>
<path d="M100 1111.5 H109" stroke="#000" stroke-width="2.4"/>
<text x="96.5" y="1120.4" text-anchor="end" font-size="24.5">2</text>
<path d="M100 1146.6 H109" stroke="#000" stroke-width="2.4"/>
<text x="96.5" y="1155.5" text-anchor="end" font-size="24.5">1</text>
<path d="M100 1181.7 H109" stroke="#000" stroke-width="2.4"/>
<text x="96.5" y="1190.6" text-anchor="end" font-size="24.5">0</text>
<path d="M100 1216.8 H109" stroke="#000" stroke-width="2.4"/>
<text x="96.5" y="1225.7" text-anchor="end" font-size="24.5">-1</text>
<path d="M100 1251.9 H109" stroke="#000" stroke-width="2.4"/>
<text x="96.5" y="1260.8" text-anchor="end" font-size="24.5">-2</text>
<path d="M100 1287 H109" stroke="#000" stroke-width="2.4"/>
<text x="96.5" y="1295.9" text-anchor="end" font-size="24.5">-3</text>
<path d="M183 1294 V1306" stroke="#000" stroke-width="2.4"/>
<text x="183" y="1336.5" text-anchor="middle" font-size="24.3">1963</text>
<path d="M261.1 1294 V1306" stroke="#000" stroke-width="2.4"/>
<text x="261.1" y="1336.5" text-anchor="middle" font-size="24.3">1968</text>
<path d="M339.2 1294 V1306" stroke="#000" stroke-width="2.4"/>
<text x="339.2" y="1336.5" text-anchor="middle" font-size="24.3">1973</text>
<path d="M417.3 1294 V1306" stroke="#000" stroke-width="2.4"/>
<text x="417.3" y="1336.5" text-anchor="middle" font-size="24.3">1978</text>
<path d="M495.4 1294 V1306" stroke="#000" stroke-width="2.4"/>
<text x="495.4" y="1336.5" text-anchor="middle" font-size="24.3">1983</text>
<path d="M573.5 1294 V1306" stroke="#000" stroke-width="2.4"/>
<text x="573.5" y="1336.5" text-anchor="middle" font-size="24.3">1988</text>
<path d="M651.6 1294 V1306" stroke="#000" stroke-width="2.4"/>
<text x="651.6" y="1336.5" text-anchor="middle" font-size="24.3">1993</text>
<path d="M729.7 1294 V1306" stroke="#000" stroke-width="2.4"/>
<text x="729.7" y="1336.5" text-anchor="middle" font-size="24.3">1998</text>
<path d="M807.8 1294 V1306" stroke="#000" stroke-width="2.4"/>
<text x="807.8" y="1336.5" text-anchor="middle" font-size="24.3">2003</text>
<path d="M885.9 1294 V1306" stroke="#000" stroke-width="2.4"/>
<text x="885.9" y="1336.5" text-anchor="middle" font-size="24.3">2008</text>
<path d="M964 1294 V1306" stroke="#000" stroke-width="2.4"/>
<text x="964" y="1336.5" text-anchor="middle" font-size="24.3">2013</text>
<path d="M1042.1 1294 V1306" stroke="#000" stroke-width="2.4"/>
<text x="1042.1" y="1336.5" text-anchor="middle" font-size="24.3">2018</text>
<path d="M1120.2 1294 V1306" stroke="#000" stroke-width="2.4"/>
<text x="1120.2" y="1336.5" text-anchor="middle" font-size="24.3">2023</text>
<path d="M121 1253.8 H144" stroke="#000000" stroke-width="2.5"/>
<circle cx="132.5" cy="1253.8" r="6.2" fill="#000000"/>
<text x="158.8" y="1262.7" font-size="24.4">SPEI01</text>
<path d="M121 1281.2 H144" stroke="#8b1a1a" stroke-width="2.5"/>
<circle cx="132.5" cy="1281.2" r="6.2" fill="#8b1a1a"/>
<text x="158.8" y="1290.5" font-size="24.4">SPEI03</text>
<path d="M258.8 1253.8 H281" stroke="#ee2c2c" stroke-width="2.5"/>
<circle cx="269.9" cy="1253.8" r="6.2" fill="#ee2c2c"/>
<text x="295.8" y="1262.7" font-size="24.4">SPEI12</text>
<path d="M258.8 1281.2 H281" stroke="#ffa500" stroke-width="2.5"/>
<circle cx="269.9" cy="1281.2" r="6.2" fill="#ffa500"/>
<text x="295.8" y="1290.5" font-size="24.4">SPEI24</text>
<text x="104.5" y="1086" font-size="36" letter-spacing="5">d)</text>
<text transform="translate(27.5 1199) rotate(-90)" text-anchor="middle" font-size="30">SPEI</text>
</g>
</svg>
</body></html>
